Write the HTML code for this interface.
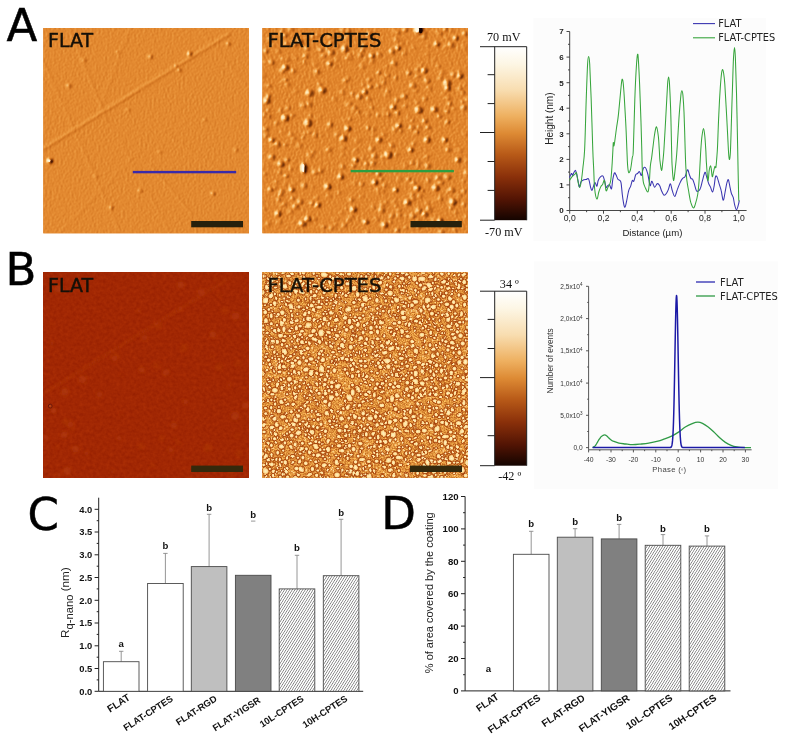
<!DOCTYPE html>
<html lang="en"><head><meta charset="utf-8"><title>AFM characterisation of FLAT and FLAT-CPTES surfaces</title>
<style>html,body{margin:0;padding:0;background:#fff;overflow:hidden}svg{display:block}text{white-space:pre}</style></head>
<body>
<svg width="786" height="740" viewBox="0 0 786 740">
<rect width="786" height="740" fill="#fff"/>
<defs>
<filter id="fA1" x="0" y="0" width="1" height="1" color-interpolation-filters="sRGB">
 <feTurbulence type="fractalNoise" baseFrequency="0.33" numOctaves="2" seed="4"/>
 <feColorMatrix type="matrix" values="0.13 0 0 0 0.821  0.13 0 0 0 0.468  0.09 0 0 0 0.139  0 0 0 0 1"/>
</filter>
<filter id="fA2" x="0" y="0" width="1" height="1" color-interpolation-filters="sRGB">
 <feTurbulence type="fractalNoise" baseFrequency="0.4" numOctaves="2" seed="11"/>
 <feColorMatrix type="matrix" values="0.30 0 0 0 0.740  0.30 0 0 0 0.385  0.20 0 0 0 0.088  0 0 0 0 1"/>
</filter>
<filter id="fB1" x="0" y="0" width="1" height="1" color-interpolation-filters="sRGB">
 <feTurbulence type="fractalNoise" baseFrequency="0.3" numOctaves="2" seed="7"/>
 <feColorMatrix type="matrix" values="0.10 0 0 0 0.582  0.07 0 0 0 0.118  0.02 0 0 0 0.002  0 0 0 0 1"/>
</filter>
<filter id="fB2" x="0" y="0" width="1" height="1" color-interpolation-filters="sRGB">
 <feTurbulence type="fractalNoise" baseFrequency="0.75" numOctaves="2" seed="28"/>
 <feColorMatrix type="matrix" values="0.50 0 0 0 0.630  0.70 0 0 0 0.230  0.50 0 0 0 -0.01  0 0 0 0 1"/>
</filter>
<filter id="soft" x="-0.1" y="-0.1" width="1.2" height="1.2"><feGaussianBlur stdDeviation="0.45"/></filter>
<filter id="soft2" x="-0.1" y="-0.1" width="1.2" height="1.2"><feGaussianBlur stdDeviation="1.6"/></filter>
<filter id="soft3" x="-0.02" y="-0.02" width="1.04" height="1.04">
 <feTurbulence type="fractalNoise" baseFrequency="0.11" numOctaves="1" seed="3" result="dn"/>
 <feDisplacementMap in="SourceGraphic" in2="dn" scale="4.5" xChannelSelector="R" yChannelSelector="G"/>
 <feGaussianBlur stdDeviation="0.42"/>
</filter>
<radialGradient id="blob" cx="0.5" cy="0.5" r="0.5">
 <stop offset="0" stop-color="#fff0c4"/><stop offset="0.5" stop-color="#fde09c"/><stop offset="0.8" stop-color="#f6bc68"/>
 <stop offset="1" stop-color="#e8943c"/>
</radialGradient>
<radialGradient id="blobS" cx="0.5" cy="0.5" r="0.5">
 <stop offset="0" stop-color="#fde6ac"/><stop offset="0.6" stop-color="#f6c070"/><stop offset="1" stop-color="#e89a44" stop-opacity="0.6"/>
</radialGradient>
<linearGradient id="bump" x1="0" y1="0.35" x2="1" y2="0.65">
 <stop offset="0" stop-color="#fff6d4"/><stop offset="0.35" stop-color="#fbd08a"/>
 <stop offset="0.6" stop-color="#e8923a"/><stop offset="1" stop-color="#8a3e0c"/>
</linearGradient>
<linearGradient id="bumpS" x1="0" y1="0.35" x2="1" y2="0.65">
 <stop offset="0" stop-color="#ffeab8"/><stop offset="0.4" stop-color="#f4b05c"/>
 <stop offset="0.65" stop-color="#e48c34"/><stop offset="1" stop-color="#b05c16"/>
</linearGradient>
<linearGradient id="cbar" x1="0" y1="0" x2="0" y2="1">
 <stop offset="0" stop-color="#ffffff"/><stop offset="0.10" stop-color="#fdf6e4"/>
 <stop offset="0.25" stop-color="#f8ddb0"/><stop offset="0.40" stop-color="#eeb060"/>
 <stop offset="0.50" stop-color="#dd8a34"/><stop offset="0.62" stop-color="#b85a18"/>
 <stop offset="0.75" stop-color="#8a300a"/><stop offset="0.88" stop-color="#521404"/>
 <stop offset="1" stop-color="#140400"/>
</linearGradient>
<pattern id="hatch" width="2.6" height="8" patternUnits="userSpaceOnUse" patternTransform="skewX(-32)">
 <rect width="2.6" height="8" fill="#fff"/><rect x="0" width="0.85" height="8" fill="#7c7c7c"/>
</pattern>
<filter id="eA1" filterUnits="userSpaceOnUse" x="43.3" y="28.0" width="205.7" height="205.3" color-interpolation-filters="sRGB">
 <feGaussianBlur in="SourceAlpha" stdDeviation="0.8" result="h"/>
 <feTurbulence type="fractalNoise" baseFrequency="0.45" numOctaves="2" seed="4" result="n"/>
 <feComposite in="h" in2="n" operator="arithmetic" k1="0" k2="0.8" k3="0.1" k4="0" result="hm"/>
 <feDiffuseLighting in="hm" surfaceScale="1.5" diffuseConstant="1" lighting-color="#fff" result="lit"><feDistantLight azimuth="195" elevation="50"/></feDiffuseLighting>
 <feComponentTransfer><feFuncR type="table" tableValues="0.078 0.098 0.118 0.138 0.158 0.178 0.198 0.218 0.238 0.258 0.278 0.297 0.317 0.337 0.360 0.393 0.427 0.460 0.493 0.526 0.560 0.593 0.626 0.659 0.691 0.723 0.754 0.786 0.816 0.844 0.872 0.898 0.920 0.941 0.958 0.975 0.985 0.992 0.997 0.998 1.000"/><feFuncG type="table" tableValues="0.016 0.024 0.033 0.041 0.050 0.058 0.067 0.075 0.084 0.092 0.101 0.110 0.118 0.127 0.138 0.159 0.180 0.202 0.223 0.244 0.266 0.287 0.308 0.330 0.354 0.378 0.402 0.425 0.453 0.485 0.517 0.551 0.590 0.629 0.689 0.749 0.803 0.853 0.899 0.936 0.973"/><feFuncB type="table" tableValues="0.000 0.001 0.002 0.003 0.005 0.006 0.007 0.008 0.009 0.010 0.011 0.013 0.014 0.015 0.017 0.023 0.029 0.035 0.041 0.047 0.053 0.059 0.065 0.071 0.081 0.091 0.101 0.112 0.127 0.150 0.173 0.201 0.238 0.276 0.360 0.444 0.528 0.611 0.698 0.790 0.882"/></feComponentTransfer>
</filter>
<filter id="eA2" filterUnits="userSpaceOnUse" x="262.4" y="28.0" width="205.5" height="205.2" color-interpolation-filters="sRGB">
 <feGaussianBlur in="SourceAlpha" stdDeviation="0.9" result="h"/>
 <feTurbulence type="fractalNoise" baseFrequency="0.4" numOctaves="2" seed="11" result="n"/>
 <feComposite in="h" in2="n" operator="arithmetic" k1="0" k2="0.8" k3="0.17" k4="0" result="hm"/>
 <feDiffuseLighting in="hm" surfaceScale="1.25" diffuseConstant="1" lighting-color="#fff" result="lit"><feDistantLight azimuth="195" elevation="50"/></feDiffuseLighting>
 <feComponentTransfer><feFuncR type="table" tableValues="0.078 0.098 0.118 0.138 0.158 0.178 0.198 0.218 0.238 0.258 0.278 0.297 0.317 0.337 0.360 0.393 0.427 0.460 0.493 0.526 0.560 0.593 0.626 0.659 0.691 0.723 0.754 0.786 0.815 0.842 0.869 0.895 0.918 0.941 0.958 0.975 0.985 0.992 0.997 0.998 1.000"/><feFuncG type="table" tableValues="0.016 0.024 0.033 0.041 0.050 0.058 0.067 0.075 0.084 0.092 0.101 0.110 0.118 0.127 0.138 0.159 0.180 0.202 0.223 0.244 0.266 0.287 0.308 0.330 0.354 0.378 0.402 0.425 0.451 0.477 0.504 0.538 0.583 0.629 0.689 0.749 0.803 0.853 0.899 0.936 0.973"/><feFuncB type="table" tableValues="0.000 0.001 0.002 0.003 0.005 0.006 0.007 0.008 0.009 0.010 0.011 0.013 0.014 0.015 0.017 0.023 0.029 0.035 0.041 0.047 0.053 0.059 0.065 0.071 0.081 0.091 0.101 0.112 0.125 0.141 0.158 0.185 0.230 0.276 0.360 0.444 0.528 0.611 0.698 0.790 0.882"/></feComponentTransfer>
</filter>
<clipPath id="cA1"><rect x="43.3" y="28.0" width="205.7" height="205.3" /></clipPath><clipPath id="cA2"><rect x="262.4" y="28.0" width="205.5" height="205.2" /></clipPath>
<clipPath id="cB1"><rect x="43.3" y="272.5" width="205.7" height="205.3" /></clipPath><clipPath id="cB2"><rect x="262.4" y="272.5" width="205.5" height="205.3" /></clipPath>
</defs>
<rect x="533.5" y="18" width="232.5" height="223" fill="#fcfcfc"/><rect x="534" y="261.5" width="244" height="227.5" fill="#fcfcfc"/>
<rect x="43.3" y="28.0" width="205.7" height="205.3" fill="#e2882f"/>
<rect x="262.4" y="28.0" width="205.5" height="205.2" fill="#e2882f"/>
<rect x="43.3" y="272.5" width="205.7" height="205.3" fill="#a12703"/>
<rect x="43.3" y="272.5" width="205.7" height="205.3" filter="url(#fB1)"/>
<rect x="262.4" y="272.5" width="205.5" height="205.3" fill="#e39a4c"/>
<rect x="262.4" y="272.5" width="205.5" height="205.3" filter="url(#fB2)"/>
<g clip-path="url(#cA1)">
<g filter="url(#eA1)" fill="#fff" stroke="#fff" stroke-linecap="round">
<rect x="43.3" y="28.0" width="205.7" height="205.3" fill="none" stroke="none"/>
<path d="M43.0 149.2L229.5 33.8" stroke-width="1.8" stroke-opacity="0.19" fill="none"/>
<path d="M50 95L107 121" stroke-width="1.3" stroke-opacity="0.1" fill="none"/>
<path d="M69 28L107 121" stroke-width="1.3" stroke-opacity="0.09" fill="none"/>
<path d="M150 165L192 214" stroke-width="1.3" stroke-opacity="0.09" fill="none"/>
<path d="M43 60L120 232" stroke-width="1.3" stroke-opacity="0.07" fill="none"/>
<path d="M130 28L96 120" stroke-width="1.3" stroke-opacity="0.07" fill="none"/>
<path d="M160 130L249 190" stroke-width="1.3" stroke-opacity="0.07" fill="none"/>
<path d="M120 140L170 233" stroke-width="1.3" stroke-opacity="0.06" fill="none"/>
<path d="M200 28L249 90" stroke-width="1.3" stroke-opacity="0.06" fill="none"/>
<path d="M60 233L140 150" stroke-width="1.3" stroke-opacity="0.05" fill="none"/>
<path d="M90 28L249 120" stroke-width="1.3" stroke-opacity="0.05" fill="none"/>
<g stroke="none"><circle cx="50.0" cy="161.0" r="2.0" fill-opacity="1"/><circle cx="189.7" cy="54" r="1.7" fill-opacity="0.7"/><circle cx="179.5" cy="70" r="1.3" fill-opacity="0.6"/><circle cx="150.5" cy="57" r="1.4" fill-opacity="0.55"/><circle cx="69" cy="86" r="1.4" fill-opacity="0.5"/><circle cx="111.2" cy="207.5" r="1.3" fill-opacity="0.55"/><circle cx="140.3" cy="190.7" r="1.2" fill-opacity="0.5"/><circle cx="213" cy="193.6" r="1.3" fill-opacity="0.5"/><circle cx="228.4" cy="43.9" r="1.3" fill-opacity="0.55"/><circle cx="176" cy="66" r="1.0" fill-opacity="0.5"/><circle cx="118" cy="52" r="1.1" fill-opacity="0.4"/><circle cx="160" cy="152" r="1.1" fill-opacity="0.4"/><circle cx="96" cy="176" r="1.1" fill-opacity="0.4"/><circle cx="205" cy="120" r="1.1" fill-opacity="0.4"/><circle cx="84" cy="60" r="1.6" fill-opacity="0.3"/><circle cx="236" cy="150" r="1.4" fill-opacity="0.3"/><circle cx="128" cy="110" r="1.5" fill-opacity="0.25"/></g>
</g>
<circle cx="49.2" cy="160.7" r="1.2" fill="#fff6da"/><circle cx="51.6" cy="161.6" r="1.0" fill="#4a1604"/>
</g>
<g clip-path="url(#cA2)">
<g filter="url(#eA2)" fill="#fff">
<rect x="262.4" y="28.0" width="205.5" height="205.2" fill="none"/>
<circle cx="348.4" cy="31.1" r="2.5" fill-opacity="0.40"/><circle cx="427.6" cy="203.4" r="1.4" fill-opacity="0.32"/><circle cx="318.4" cy="118.0" r="1.6" fill-opacity="0.21"/><circle cx="335.8" cy="224.4" r="1.2" fill-opacity="0.18"/><circle cx="366.3" cy="59.2" r="2.2" fill-opacity="0.20"/><circle cx="279.0" cy="199.8" r="1.6" fill-opacity="0.52"/><circle cx="463.7" cy="180.9" r="1.2" fill-opacity="0.46"/><circle cx="264.4" cy="164.4" r="1.4" fill-opacity="0.31"/><circle cx="421.0" cy="65.5" r="1.2" fill-opacity="0.47"/><circle cx="381.5" cy="179.3" r="1.4" fill-opacity="0.44"/><circle cx="459.8" cy="150.6" r="2.5" fill-opacity="0.18"/><circle cx="330.6" cy="37.2" r="1.2" fill-opacity="0.55"/><circle cx="442.0" cy="73.1" r="2.5" fill-opacity="0.24"/><circle cx="418.0" cy="165.6" r="1.6" fill-opacity="0.25"/><circle cx="383.7" cy="134.7" r="1.4" fill-opacity="0.47"/><circle cx="271.5" cy="62.5" r="2.5" fill-opacity="0.51"/><circle cx="433.6" cy="59.7" r="1.4" fill-opacity="0.18"/><circle cx="334.7" cy="98.8" r="1.8" fill-opacity="0.28"/><circle cx="354.2" cy="108.2" r="2.5" fill-opacity="0.43"/><circle cx="451.7" cy="189.9" r="2.5" fill-opacity="0.49"/><circle cx="409.0" cy="72.9" r="2.0" fill-opacity="0.56"/><circle cx="419.1" cy="127.1" r="1.2" fill-opacity="0.46"/><circle cx="265.8" cy="129.3" r="2.5" fill-opacity="0.44"/><circle cx="388.1" cy="114.8" r="2.0" fill-opacity="0.52"/><circle cx="304.3" cy="185.8" r="2.2" fill-opacity="0.52"/><circle cx="287.5" cy="59.5" r="1.8" fill-opacity="0.44"/><circle cx="296.8" cy="226.3" r="1.4" fill-opacity="0.20"/><circle cx="304.7" cy="62.2" r="1.4" fill-opacity="0.45"/><circle cx="373.1" cy="135.0" r="1.2" fill-opacity="0.34"/><circle cx="293.0" cy="163.2" r="1.4" fill-opacity="0.24"/><circle cx="434.2" cy="219.5" r="2.5" fill-opacity="0.27"/><circle cx="282.7" cy="132.1" r="1.8" fill-opacity="0.21"/><circle cx="276.6" cy="182.3" r="1.8" fill-opacity="0.34"/><circle cx="348.4" cy="78.6" r="1.4" fill-opacity="0.42"/><circle cx="268.6" cy="96.4" r="1.8" fill-opacity="0.59"/><circle cx="299.5" cy="145.6" r="2.5" fill-opacity="0.26"/><circle cx="369.2" cy="79.8" r="1.8" fill-opacity="0.42"/><circle cx="368.2" cy="114.2" r="1.2" fill-opacity="0.51"/><circle cx="276.9" cy="122.9" r="1.4" fill-opacity="0.47"/><circle cx="391.8" cy="145.5" r="2.2" fill-opacity="0.37"/><circle cx="290.7" cy="211.4" r="1.6" fill-opacity="0.38"/><circle cx="379.4" cy="54.6" r="2.0" fill-opacity="0.39"/><circle cx="405.1" cy="165.9" r="2.5" fill-opacity="0.20"/><circle cx="275.1" cy="187.6" r="1.2" fill-opacity="0.48"/><circle cx="337.6" cy="134.4" r="2.0" fill-opacity="0.41"/><circle cx="285.1" cy="183.8" r="1.4" fill-opacity="0.25"/><circle cx="345.4" cy="120.6" r="1.6" fill-opacity="0.27"/><circle cx="326.9" cy="129.5" r="1.2" fill-opacity="0.33"/><circle cx="317.4" cy="35.0" r="1.6" fill-opacity="0.39"/><circle cx="290.9" cy="29.4" r="2.2" fill-opacity="0.37"/><circle cx="427.9" cy="46.0" r="1.2" fill-opacity="0.24"/><circle cx="386.5" cy="67.3" r="1.8" fill-opacity="0.25"/><circle cx="363.6" cy="84.6" r="1.4" fill-opacity="0.28"/><circle cx="447.8" cy="177.0" r="2.5" fill-opacity="0.45"/><circle cx="342.6" cy="154.8" r="1.6" fill-opacity="0.26"/><circle cx="423.8" cy="37.3" r="1.4" fill-opacity="0.59"/><circle cx="295.9" cy="58.1" r="1.6" fill-opacity="0.30"/><circle cx="310.6" cy="115.6" r="1.2" fill-opacity="0.50"/><circle cx="293.7" cy="223.1" r="1.2" fill-opacity="0.24"/><circle cx="425.2" cy="98.6" r="1.6" fill-opacity="0.54"/><circle cx="440.6" cy="78.2" r="1.8" fill-opacity="0.35"/><circle cx="293.4" cy="71.1" r="2.0" fill-opacity="0.39"/><circle cx="372.1" cy="61.3" r="2.2" fill-opacity="0.30"/><circle cx="282.3" cy="71.3" r="2.0" fill-opacity="0.46"/><circle cx="397.7" cy="112.7" r="2.0" fill-opacity="0.55"/><circle cx="266.1" cy="135.1" r="2.0" fill-opacity="0.35"/><circle cx="372.0" cy="149.0" r="2.5" fill-opacity="0.37"/><circle cx="447.5" cy="122.3" r="1.8" fill-opacity="0.54"/><circle cx="342.6" cy="166.5" r="2.0" fill-opacity="0.38"/><circle cx="397.9" cy="32.5" r="1.8" fill-opacity="0.52"/><circle cx="352.7" cy="94.1" r="1.8" fill-opacity="0.47"/><circle cx="427.1" cy="54.6" r="2.0" fill-opacity="0.18"/><circle cx="458.2" cy="48.7" r="1.4" fill-opacity="0.20"/><circle cx="269.8" cy="39.4" r="2.5" fill-opacity="0.21"/><circle cx="307.4" cy="48.7" r="1.8" fill-opacity="0.55"/><circle cx="359.2" cy="115.4" r="1.4" fill-opacity="0.25"/><circle cx="383.6" cy="78.3" r="2.2" fill-opacity="0.22"/><circle cx="466.1" cy="217.5" r="1.4" fill-opacity="0.50"/><circle cx="376.5" cy="218.9" r="2.2" fill-opacity="0.23"/><circle cx="437.1" cy="31.9" r="1.4" fill-opacity="0.43"/><circle cx="379.2" cy="72.6" r="1.6" fill-opacity="0.57"/><circle cx="309.2" cy="104.5" r="2.2" fill-opacity="0.48"/><circle cx="396.4" cy="205.5" r="2.0" fill-opacity="0.23"/><circle cx="285.2" cy="35.1" r="2.0" fill-opacity="0.51"/><circle cx="449.6" cy="104.1" r="1.8" fill-opacity="0.50"/><circle cx="364.1" cy="45.8" r="1.8" fill-opacity="0.52"/><circle cx="285.8" cy="79.8" r="1.6" fill-opacity="0.55"/><circle cx="350.0" cy="54.4" r="1.4" fill-opacity="0.48"/><circle cx="412.4" cy="226.8" r="1.8" fill-opacity="0.24"/><circle cx="426.6" cy="157.3" r="2.0" fill-opacity="0.32"/><circle cx="413.1" cy="85.4" r="2.5" fill-opacity="0.50"/><circle cx="455.7" cy="212.3" r="2.2" fill-opacity="0.18"/><circle cx="268.8" cy="110.1" r="1.4" fill-opacity="0.41"/><circle cx="454.9" cy="230.1" r="1.4" fill-opacity="0.54"/><circle cx="281.9" cy="190.9" r="1.6" fill-opacity="0.48"/><circle cx="451.2" cy="30.2" r="1.4" fill-opacity="0.30"/><circle cx="378.5" cy="190.0" r="2.5" fill-opacity="0.26"/><circle cx="387.9" cy="91.5" r="1.6" fill-opacity="0.49"/><circle cx="268.9" cy="116.5" r="2.2" fill-opacity="0.43"/><circle cx="412.2" cy="194.3" r="2.0" fill-opacity="0.37"/><circle cx="378.3" cy="86.1" r="1.6" fill-opacity="0.43"/><circle cx="373.1" cy="163.3" r="2.5" fill-opacity="0.45"/><circle cx="406.9" cy="216.0" r="1.4" fill-opacity="0.23"/><circle cx="447.4" cy="38.7" r="1.2" fill-opacity="0.34"/><circle cx="413.2" cy="198.3" r="1.6" fill-opacity="0.56"/><circle cx="399.0" cy="210.1" r="2.2" fill-opacity="0.24"/><circle cx="404.1" cy="53.7" r="1.8" fill-opacity="0.35"/><circle cx="310.1" cy="155.6" r="2.5" fill-opacity="0.31"/><circle cx="295.8" cy="167.5" r="1.4" fill-opacity="0.29"/><circle cx="342.4" cy="92.6" r="2.2" fill-opacity="0.29"/><circle cx="313.3" cy="151.5" r="1.8" fill-opacity="0.28"/><circle cx="268.5" cy="165.9" r="1.8" fill-opacity="0.20"/><circle cx="291.1" cy="185.6" r="1.6" fill-opacity="0.21"/><circle cx="440.1" cy="199.2" r="2.5" fill-opacity="0.32"/><circle cx="447.5" cy="191.5" r="1.4" fill-opacity="0.20"/><circle cx="365.3" cy="170.2" r="1.8" fill-opacity="0.26"/><circle cx="417.8" cy="76.1" r="1.8" fill-opacity="0.39"/><circle cx="309.2" cy="132.7" r="1.8" fill-opacity="0.42"/><circle cx="323.6" cy="226.9" r="1.4" fill-opacity="0.59"/><circle cx="443.6" cy="94.2" r="1.2" fill-opacity="0.38"/><circle cx="293.7" cy="137.9" r="2.5" fill-opacity="0.21"/><circle cx="288.2" cy="107.9" r="1.6" fill-opacity="0.51"/><circle cx="276.2" cy="163.5" r="1.2" fill-opacity="0.21"/><circle cx="282.6" cy="82.2" r="1.4" fill-opacity="0.28"/><circle cx="396.7" cy="154.6" r="2.0" fill-opacity="0.27"/><circle cx="462.8" cy="92.3" r="1.6" fill-opacity="0.50"/><circle cx="343.3" cy="147.5" r="2.0" fill-opacity="0.24"/><circle cx="315.3" cy="63.9" r="1.6" fill-opacity="0.30"/><circle cx="400.8" cy="131.1" r="1.4" fill-opacity="0.53"/><circle cx="371.2" cy="172.0" r="1.4" fill-opacity="0.42"/><circle cx="279.3" cy="172.1" r="1.4" fill-opacity="0.52"/><circle cx="425.5" cy="76.6" r="1.2" fill-opacity="0.20"/><circle cx="292.5" cy="115.6" r="1.8" fill-opacity="0.43"/><circle cx="268.1" cy="223.7" r="2.2" fill-opacity="0.23"/><circle cx="295.0" cy="43.7" r="2.5" fill-opacity="0.59"/><circle cx="335.6" cy="219.4" r="1.6" fill-opacity="0.22"/><circle cx="459.8" cy="89.1" r="2.0" fill-opacity="0.38"/><circle cx="331.0" cy="43.4" r="1.4" fill-opacity="0.56"/><circle cx="314.5" cy="218.9" r="1.4" fill-opacity="0.43"/><circle cx="291.0" cy="168.5" r="2.0" fill-opacity="0.29"/><circle cx="315.4" cy="172.3" r="2.0" fill-opacity="0.56"/><circle cx="378.7" cy="174.1" r="2.0" fill-opacity="0.59"/><circle cx="394.3" cy="63.6" r="2.5" fill-opacity="0.50"/><circle cx="383.3" cy="191.5" r="1.8" fill-opacity="0.26"/><circle cx="294.2" cy="183.7" r="1.2" fill-opacity="0.20"/><circle cx="355.1" cy="53.7" r="1.6" fill-opacity="0.40"/><circle cx="321.5" cy="135.9" r="1.4" fill-opacity="0.22"/><circle cx="428.2" cy="180.4" r="2.2" fill-opacity="0.31"/><circle cx="283.1" cy="59.0" r="1.4" fill-opacity="0.57"/><circle cx="427.8" cy="165.9" r="2.2" fill-opacity="0.49"/><circle cx="344.2" cy="225.1" r="2.2" fill-opacity="0.31"/><circle cx="383.7" cy="82.7" r="1.6" fill-opacity="0.48"/><circle cx="343.1" cy="30.1" r="2.2" fill-opacity="0.39"/><circle cx="408.4" cy="117.4" r="1.8" fill-opacity="0.18"/><circle cx="362.5" cy="50.4" r="1.8" fill-opacity="0.38"/><circle cx="308.1" cy="38.4" r="1.4" fill-opacity="0.18"/><circle cx="367.0" cy="232.9" r="2.5" fill-opacity="0.21"/><circle cx="278.8" cy="222.0" r="2.5" fill-opacity="0.22"/><circle cx="382.5" cy="204.9" r="2.0" fill-opacity="0.36"/><circle cx="305.8" cy="55.9" r="2.2" fill-opacity="0.48"/><circle cx="264.0" cy="208.6" r="1.4" fill-opacity="0.35"/><circle cx="316.6" cy="198.1" r="1.6" fill-opacity="0.35"/><circle cx="459.1" cy="195.2" r="1.8" fill-opacity="0.29"/><circle cx="387.7" cy="74.9" r="2.2" fill-opacity="0.28"/><circle cx="282.1" cy="31.7" r="1.8" fill-opacity="0.47"/><circle cx="330.2" cy="124.8" r="2.2" fill-opacity="0.53"/><circle cx="292.5" cy="198.2" r="1.8" fill-opacity="0.39"/><circle cx="437.8" cy="112.8" r="1.4" fill-opacity="0.30"/><circle cx="351.7" cy="199.8" r="2.2" fill-opacity="0.40"/><circle cx="454.6" cy="108.6" r="1.2" fill-opacity="0.37"/><circle cx="361.0" cy="196.9" r="1.6" fill-opacity="0.19"/><circle cx="287.6" cy="84.8" r="2.0" fill-opacity="0.36"/><circle cx="397.4" cy="230.1" r="1.8" fill-opacity="0.49"/><circle cx="396.0" cy="77.9" r="1.6" fill-opacity="0.45"/><circle cx="350.7" cy="59.0" r="1.4" fill-opacity="0.43"/><circle cx="341.2" cy="212.4" r="1.4" fill-opacity="0.29"/><circle cx="412.1" cy="163.1" r="1.4" fill-opacity="0.58"/><circle cx="383.7" cy="114.8" r="1.6" fill-opacity="0.59"/><circle cx="378.5" cy="114.7" r="1.8" fill-opacity="0.40"/><circle cx="357.6" cy="140.2" r="2.2" fill-opacity="0.24"/><circle cx="280.5" cy="194.5" r="1.8" fill-opacity="0.54"/><circle cx="455.9" cy="144.6" r="1.2" fill-opacity="0.23"/><circle cx="464.2" cy="204.1" r="1.6" fill-opacity="0.53"/><circle cx="363.2" cy="158.6" r="1.8" fill-opacity="0.21"/><circle cx="361.8" cy="184.6" r="2.0" fill-opacity="0.39"/><circle cx="428.1" cy="127.5" r="2.0" fill-opacity="0.45"/><circle cx="335.4" cy="66.1" r="1.2" fill-opacity="0.58"/><circle cx="284.0" cy="204.1" r="1.8" fill-opacity="0.42"/><circle cx="424.9" cy="121.0" r="2.2" fill-opacity="0.57"/><circle cx="419.8" cy="195.8" r="1.8" fill-opacity="0.34"/><circle cx="328.5" cy="196.0" r="2.0" fill-opacity="0.22"/><circle cx="412.7" cy="215.9" r="2.5" fill-opacity="0.43"/><circle cx="418.8" cy="226.5" r="2.2" fill-opacity="0.31"/><circle cx="312.8" cy="36.7" r="1.6" fill-opacity="0.40"/><circle cx="382.9" cy="157.0" r="1.4" fill-opacity="0.57"/><circle cx="429.2" cy="88.3" r="1.8" fill-opacity="0.33"/><circle cx="466.6" cy="160.9" r="1.4" fill-opacity="0.36"/><circle cx="404.4" cy="96.6" r="2.5" fill-opacity="0.47"/><circle cx="263.5" cy="75.7" r="2.0" fill-opacity="0.22"/><circle cx="413.9" cy="183.2" r="2.2" fill-opacity="0.39"/><circle cx="290.8" cy="134.4" r="1.6" fill-opacity="0.42"/><circle cx="388.9" cy="94.7" r="1.2" fill-opacity="0.36"/><circle cx="295.5" cy="206.6" r="2.5" fill-opacity="0.48"/><circle cx="381.6" cy="210.3" r="2.5" fill-opacity="0.49"/><circle cx="397.0" cy="100.2" r="1.8" fill-opacity="0.55"/><circle cx="287.0" cy="159.9" r="2.0" fill-opacity="0.50"/><circle cx="339.3" cy="192.7" r="1.2" fill-opacity="0.55"/><circle cx="465.3" cy="85.1" r="1.6" fill-opacity="0.28"/><circle cx="453.6" cy="74.4" r="2.5" fill-opacity="0.39"/><circle cx="269.0" cy="85.7" r="1.6" fill-opacity="0.42"/><circle cx="429.1" cy="209.1" r="2.5" fill-opacity="0.42"/><circle cx="416.6" cy="132.2" r="2.0" fill-opacity="0.51"/><circle cx="384.8" cy="185.7" r="1.6" fill-opacity="0.52"/><circle cx="412.3" cy="120.5" r="1.2" fill-opacity="0.50"/><circle cx="270.5" cy="189.5" r="2.0" fill-opacity="0.59"/><circle cx="277.4" cy="144.3" r="2.5" fill-opacity="0.55"/><circle cx="328.8" cy="149.8" r="2.5" fill-opacity="0.32"/><circle cx="465.2" cy="134.5" r="1.2" fill-opacity="0.37"/><circle cx="383.6" cy="142.2" r="1.4" fill-opacity="0.18"/><circle cx="467.0" cy="173.1" r="2.5" fill-opacity="0.49"/><circle cx="348.9" cy="104.5" r="2.5" fill-opacity="0.35"/><circle cx="462.5" cy="102.1" r="1.4" fill-opacity="0.43"/><circle cx="354.6" cy="183.2" r="1.8" fill-opacity="0.31"/><circle cx="416.0" cy="90.6" r="1.4" fill-opacity="0.44"/><circle cx="351.1" cy="216.6" r="1.8" fill-opacity="0.31"/><circle cx="438.4" cy="66.5" r="2.0" fill-opacity="0.23"/><circle cx="394.4" cy="31.0" r="1.6" fill-opacity="0.31"/><circle cx="412.0" cy="127.9" r="2.2" fill-opacity="0.43"/><circle cx="327.2" cy="81.5" r="1.2" fill-opacity="0.30"/><circle cx="448.0" cy="97.8" r="2.5" fill-opacity="0.24"/><circle cx="264.9" cy="174.1" r="1.4" fill-opacity="0.42"/><circle cx="451.2" cy="207.8" r="1.2" fill-opacity="0.54"/><circle cx="355.9" cy="150.0" r="1.6" fill-opacity="0.36"/><circle cx="285.5" cy="144.7" r="1.8" fill-opacity="0.39"/><circle cx="278.5" cy="51.1" r="2.2" fill-opacity="0.31"/><circle cx="438.1" cy="178.1" r="2.2" fill-opacity="0.55"/><circle cx="392.2" cy="51.5" r="2.2" fill-opacity="0.59"/><circle cx="405.6" cy="106.3" r="1.6" fill-opacity="0.37"/><circle cx="401.5" cy="43.8" r="1.6" fill-opacity="0.29"/><circle cx="328.1" cy="49.5" r="1.2" fill-opacity="0.59"/><circle cx="303.6" cy="105.4" r="2.5" fill-opacity="0.42"/><circle cx="264.3" cy="115.1" r="2.2" fill-opacity="0.51"/><circle cx="368.3" cy="127.8" r="2.0" fill-opacity="0.48"/><circle cx="286.6" cy="43.4" r="2.0" fill-opacity="0.39"/><circle cx="418.9" cy="210.7" r="2.5" fill-opacity="0.54"/><circle cx="320.9" cy="49.9" r="1.6" fill-opacity="0.59"/><circle cx="414.0" cy="48.0" r="1.6" fill-opacity="0.27"/><circle cx="348.4" cy="219.9" r="2.0" fill-opacity="0.29"/><circle cx="405.3" cy="29.7" r="2.0" fill-opacity="0.48"/><circle cx="332.0" cy="227.6" r="2.5" fill-opacity="0.23"/><circle cx="303.3" cy="137.9" r="1.2" fill-opacity="0.40"/><circle cx="362.5" cy="66.2" r="1.8" fill-opacity="0.40"/><circle cx="441.5" cy="232.3" r="2.2" fill-opacity="0.41"/><circle cx="300.3" cy="201.6" r="2.2" fill-opacity="0.55"/><circle cx="280.8" cy="205.1" r="1.2" fill-opacity="0.20"/><circle cx="435.2" cy="201.4" r="1.6" fill-opacity="0.21"/><circle cx="393.8" cy="201.9" r="1.4" fill-opacity="0.39"/><circle cx="417.6" cy="69.5" r="1.4" fill-opacity="0.45"/><circle cx="418.9" cy="162.5" r="1.2" fill-opacity="0.33"/><circle cx="311.7" cy="187.1" r="1.6" fill-opacity="0.20"/><circle cx="349.9" cy="119.5" r="1.6" fill-opacity="0.39"/><circle cx="358.1" cy="111.7" r="1.6" fill-opacity="0.41"/><circle cx="427.5" cy="80.8" r="2.2" fill-opacity="0.51"/><circle cx="385.9" cy="109.2" r="2.0" fill-opacity="0.19"/><circle cx="464.1" cy="47.5" r="2.5" fill-opacity="0.21"/><circle cx="331.0" cy="52.5" r="2.5" fill-opacity="0.60"/><circle cx="319.8" cy="84.5" r="1.4" fill-opacity="0.48"/><circle cx="366.6" cy="163.9" r="1.8" fill-opacity="0.48"/><circle cx="424.6" cy="33.0" r="2.0" fill-opacity="0.39"/><circle cx="371.7" cy="107.7" r="1.4" fill-opacity="0.58"/><circle cx="312.1" cy="203.2" r="1.6" fill-opacity="0.58"/><circle cx="417.7" cy="102.4" r="1.4" fill-opacity="0.39"/><circle cx="347.2" cy="58.1" r="1.6" fill-opacity="0.51"/><circle cx="386.1" cy="202.4" r="1.2" fill-opacity="0.53"/><circle cx="369.2" cy="34.5" r="2.2" fill-opacity="0.59"/><circle cx="406.0" cy="227.6" r="1.2" fill-opacity="0.51"/><circle cx="295.8" cy="90.9" r="1.4" fill-opacity="0.29"/><circle cx="399.0" cy="177.9" r="2.0" fill-opacity="0.26"/><circle cx="373.4" cy="207.5" r="1.4" fill-opacity="0.42"/><circle cx="418.2" cy="219.9" r="1.2" fill-opacity="0.46"/><circle cx="440.3" cy="33.3" r="1.4" fill-opacity="0.59"/><circle cx="273.7" cy="47.2" r="2.2" fill-opacity="0.18"/><circle cx="368.5" cy="99.0" r="2.2" fill-opacity="0.28"/><circle cx="385.7" cy="94.9" r="1.2" fill-opacity="0.31"/><circle cx="450.9" cy="45.1" r="2.5" fill-opacity="0.56"/><circle cx="323.6" cy="56.0" r="1.6" fill-opacity="0.55"/><circle cx="439.8" cy="116.0" r="1.6" fill-opacity="0.56"/><circle cx="360.2" cy="55.3" r="2.5" fill-opacity="0.41"/><circle cx="280.7" cy="110.9" r="1.8" fill-opacity="0.31"/><circle cx="447.2" cy="111.7" r="1.8" fill-opacity="0.52"/><circle cx="445.3" cy="29.3" r="1.6" fill-opacity="0.56"/><circle cx="390.5" cy="222.3" r="1.2" fill-opacity="0.52"/><circle cx="348.1" cy="37.8" r="2.5" fill-opacity="0.29"/><circle cx="464.2" cy="191.4" r="1.6" fill-opacity="0.51"/><circle cx="373.5" cy="129.4" r="1.8" fill-opacity="0.34"/><circle cx="304.9" cy="133.3" r="1.6" fill-opacity="0.32"/><circle cx="463.8" cy="107.7" r="2.2" fill-opacity="0.56"/><circle cx="346.8" cy="208.5" r="1.6" fill-opacity="0.20"/><circle cx="292.1" cy="143.1" r="1.6" fill-opacity="0.19"/><circle cx="317.1" cy="71.8" r="2.2" fill-opacity="0.52"/><circle cx="398.9" cy="215.5" r="2.0" fill-opacity="0.37"/><circle cx="396.8" cy="40.0" r="2.5" fill-opacity="0.31"/><circle cx="467.4" cy="99.8" r="1.4" fill-opacity="0.57"/><circle cx="359.3" cy="96.6" r="2.5" fill-opacity="0.60"/><circle cx="464.9" cy="33.6" r="2.0" fill-opacity="0.57"/><circle cx="271.9" cy="157.1" r="2.5" fill-opacity="0.55"/><circle cx="345.5" cy="80.6" r="1.6" fill-opacity="0.58"/><circle cx="445.9" cy="46.6" r="1.8" fill-opacity="0.28"/><circle cx="459.1" cy="71.7" r="1.4" fill-opacity="0.41"/><circle cx="315.0" cy="135.0" r="2.5" fill-opacity="0.38"/><circle cx="408.7" cy="179.3" r="1.6" fill-opacity="0.54"/><circle cx="353.5" cy="166.0" r="2.0" fill-opacity="0.35"/><circle cx="448.0" cy="149.8" r="2.0" fill-opacity="0.49"/><circle cx="370.2" cy="87.0" r="2.0" fill-opacity="0.56"/><circle cx="265.6" cy="62.4" r="1.8" fill-opacity="0.25"/><circle cx="272.8" cy="145.9" r="1.2" fill-opacity="0.46"/><circle cx="286.5" cy="175.8" r="1.6" fill-opacity="0.60"/><circle cx="422.5" cy="190.8" r="1.2" fill-opacity="0.59"/><circle cx="441.1" cy="182.7" r="2.5" fill-opacity="0.36"/><circle cx="449.2" cy="144.3" r="1.2" fill-opacity="0.39"/><circle cx="395.2" cy="129.5" r="2.2" fill-opacity="0.46"/><circle cx="337.7" cy="59.3" r="1.8" fill-opacity="0.28"/><circle cx="457.9" cy="200.5" r="1.8" fill-opacity="0.22"/><circle cx="458.1" cy="222.4" r="1.6" fill-opacity="0.52"/><circle cx="337.3" cy="45.7" r="1.4" fill-opacity="0.55"/><circle cx="320.5" cy="171.0" r="2.2" fill-opacity="0.47"/><circle cx="374.6" cy="156.3" r="2.2" fill-opacity="0.53"/><circle cx="266.3" cy="51.0" r="1.8" fill-opacity="0.56"/><circle cx="391.8" cy="216.0" r="2.2" fill-opacity="0.35"/><circle cx="413.8" cy="143.9" r="1.8" fill-opacity="0.32"/>
<g fill-opacity="0.85"><ellipse cx="418.9" cy="30.1" rx="3.8" ry="3.8"/><ellipse cx="304" cy="168.3" rx="2.5" ry="5.0"/><ellipse cx="285.5" cy="118.1" rx="2.9" ry="3.2"/><ellipse cx="388.3" cy="155" rx="2.9" ry="3.2"/><ellipse cx="418.9" cy="110.1" rx="3.0" ry="3.0"/><ellipse cx="434.5" cy="109.6" rx="2.5" ry="2.5"/><ellipse cx="447.3" cy="83.2" rx="2.7" ry="2.9"/><ellipse cx="447.8" cy="88.2" rx="2.3" ry="2.3"/><ellipse cx="308.2" cy="122.9" rx="2.9" ry="3.4"/><ellipse cx="343.7" cy="138.5" rx="2.4" ry="2.7"/><ellipse cx="285.5" cy="67.6" rx="2.5" ry="2.5"/><ellipse cx="322.4" cy="90.3" rx="2.8" ry="2.8"/><ellipse cx="309.7" cy="93.1" rx="2.8" ry="2.8"/><ellipse cx="460" cy="76" rx="2.4" ry="2.4"/><ellipse cx="345" cy="49" rx="2.4" ry="2.9"/><ellipse cx="424.6" cy="70.4" rx="2.3" ry="2.3"/><ellipse cx="348" cy="128.6" rx="2.3" ry="2.5"/><ellipse cx="427.4" cy="140" rx="2.4" ry="2.4"/><ellipse cx="399" cy="125.7" rx="2.3" ry="2.3"/><ellipse cx="302.6" cy="223.6" rx="2.7" ry="2.7"/><ellipse cx="308" cy="219" rx="2.5" ry="2.5"/><ellipse cx="453" cy="202" rx="2.7" ry="2.9"/><ellipse cx="436" cy="188" rx="2.5" ry="2.7"/><ellipse cx="281" cy="164" rx="2.5" ry="2.5"/><ellipse cx="328" cy="186.7" rx="2.6" ry="2.6"/><ellipse cx="341" cy="176.8" rx="2.4" ry="2.4"/><ellipse cx="353.6" cy="209.4" rx="2.6" ry="2.6"/><ellipse cx="384.9" cy="225" rx="2.5" ry="2.5"/><ellipse cx="278.4" cy="213.7" rx="2.4" ry="2.4"/><ellipse cx="407.6" cy="202.4" rx="2.5" ry="2.7"/><ellipse cx="417.5" cy="188.2" rx="2.5" ry="2.5"/><ellipse cx="375" cy="182.5" rx="2.4" ry="2.4"/><ellipse cx="267" cy="101" rx="2.5" ry="2.5"/><ellipse cx="393.4" cy="107.3" rx="2.3" ry="2.3"/><ellipse cx="379.2" cy="140" rx="2.3" ry="2.3"/><ellipse cx="440" cy="221" rx="2.5" ry="2.7"/><ellipse cx="330" cy="64" rx="2.1" ry="2.1"/><ellipse cx="372" cy="56" rx="2.1" ry="2.1"/><ellipse cx="398" cy="48" rx="2.0" ry="2.0"/><ellipse cx="437" cy="44" rx="2.1" ry="2.1"/><ellipse cx="456" cy="38" rx="2.0" ry="2.0"/><ellipse cx="300" cy="42" rx="2.0" ry="2.0"/><ellipse cx="365" cy="92" rx="2.1" ry="2.1"/><ellipse cx="411" cy="150" rx="2.1" ry="2.1"/><ellipse cx="458" cy="160" rx="2.2" ry="2.2"/><ellipse cx="445" cy="140" rx="2.1" ry="2.1"/><ellipse cx="292" cy="190" rx="2.1" ry="2.1"/><ellipse cx="318" cy="205" rx="2.2" ry="2.2"/><ellipse cx="366" cy="222" rx="2.1" ry="2.1"/><ellipse cx="425" cy="214" rx="2.2" ry="2.2"/><ellipse cx="396" cy="190" rx="2.1" ry="2.1"/><ellipse cx="272" cy="140" rx="2.1" ry="2.1"/><ellipse cx="356" cy="160" rx="2.1" ry="2.1"/></g>
</g>
<g filter="url(#soft)">
<ellipse cx="420.6" cy="30.3" rx="2.0" ry="3.0" fill="#140600"/><ellipse cx="417.2" cy="29.8" rx="1.9" ry="2.8" fill="#fffbe8"/>
<ellipse cx="303.2" cy="168.1" rx="1.3" ry="4.2" fill="#fffbe8"/><ellipse cx="305.5" cy="169.0" rx="0.9" ry="3.6" fill="#3a1204"/>
</g></g>
<g clip-path="url(#cB1)"><g filter="url(#soft2)">
<circle cx="185.5" cy="401.8" r="2.5" fill="#bc4612" opacity="0.43"/>
<circle cx="72.5" cy="429.4" r="2.0" fill="#bc4612" opacity="0.29"/>
<circle cx="184.1" cy="348.2" r="3.6" fill="#bc4612" opacity="0.26"/>
<circle cx="238.1" cy="363.7" r="3.9" fill="#bc4612" opacity="0.20"/>
<circle cx="58.5" cy="288.8" r="3.8" fill="#bc4612" opacity="0.47"/>
<circle cx="219.4" cy="294.9" r="1.6" fill="#bc4612" opacity="0.34"/>
<circle cx="121.7" cy="375.3" r="1.7" fill="#bc4612" opacity="0.20"/>
<circle cx="116.1" cy="355.7" r="3.1" fill="#bc4612" opacity="0.27"/>
<circle cx="70.4" cy="424.3" r="3.1" fill="#bc4612" opacity="0.40"/>
<circle cx="141.1" cy="446.6" r="3.1" fill="#bc4612" opacity="0.26"/>
<circle cx="53.4" cy="410.5" r="2.7" fill="#bc4612" opacity="0.49"/>
<circle cx="45.6" cy="437.4" r="3.0" fill="#bc4612" opacity="0.38"/>
<circle cx="152.7" cy="465.4" r="1.8" fill="#bc4612" opacity="0.29"/>
<circle cx="65.8" cy="421.9" r="3.3" fill="#bc4612" opacity="0.23"/>
<circle cx="180.6" cy="284.9" r="3.3" fill="#bc4612" opacity="0.43"/>
<circle cx="212.8" cy="334.7" r="3.1" fill="#bc4612" opacity="0.49"/>
<circle cx="216.4" cy="279.4" r="1.6" fill="#bc4612" opacity="0.33"/>
<circle cx="178.4" cy="443.1" r="2.2" fill="#bc4612" opacity="0.28"/>
<circle cx="224.8" cy="310.7" r="3.6" fill="#bc4612" opacity="0.29"/>
<circle cx="156.5" cy="365.4" r="3.5" fill="#bc4612" opacity="0.26"/>
<circle cx="57.4" cy="446.7" r="2.0" fill="#bc4612" opacity="0.22"/>
<circle cx="201.2" cy="292.1" r="3.7" fill="#bc4612" opacity="0.35"/>
<circle cx="111.9" cy="471.9" r="1.6" fill="#bc4612" opacity="0.41"/>
<circle cx="144.6" cy="337.7" r="3.0" fill="#bc4612" opacity="0.31"/>
<circle cx="120.7" cy="415.0" r="1.5" fill="#bc4612" opacity="0.25"/>
<circle cx="75.5" cy="449.1" r="3.4" fill="#bc4612" opacity="0.49"/>
<circle cx="179.9" cy="308.9" r="1.9" fill="#bc4612" opacity="0.39"/>
<circle cx="64.8" cy="391.9" r="3.9" fill="#bc4612" opacity="0.41"/>
<circle cx="229.3" cy="384.9" r="2.0" fill="#bc4612" opacity="0.35"/>
<circle cx="119.1" cy="438.2" r="2.2" fill="#bc4612" opacity="0.42"/>
<circle cx="45.1" cy="463.9" r="1.7" fill="#bc4612" opacity="0.22"/>
<circle cx="161.6" cy="438.2" r="2.7" fill="#bc4612" opacity="0.26"/>
<circle cx="114.3" cy="358.6" r="3.1" fill="#bc4612" opacity="0.34"/>
<circle cx="138.6" cy="311.2" r="1.9" fill="#bc4612" opacity="0.38"/>
<circle cx="50.5" cy="324.4" r="1.7" fill="#bc4612" opacity="0.27"/>
<circle cx="86.6" cy="453.2" r="2.0" fill="#bc4612" opacity="0.42"/>
<circle cx="82.6" cy="379.4" r="4.0" fill="#bc4612" opacity="0.39"/>
<circle cx="64.3" cy="434.9" r="3.4" fill="#bc4612" opacity="0.43"/>
<circle cx="170.8" cy="449.9" r="2.7" fill="#bc4612" opacity="0.39"/>
<circle cx="212.2" cy="356.3" r="1.6" fill="#bc4612" opacity="0.25"/>
<circle cx="173.9" cy="425.2" r="3.0" fill="#bc4612" opacity="0.45"/>
<circle cx="218.9" cy="366.9" r="3.5" fill="#bc4612" opacity="0.25"/>
<circle cx="221.6" cy="333.3" r="1.8" fill="#bc4612" opacity="0.31"/>
<circle cx="67.1" cy="471.0" r="4.0" fill="#bc4612" opacity="0.47"/>
<circle cx="175.1" cy="438.9" r="1.6" fill="#bc4612" opacity="0.28"/>
<circle cx="231.3" cy="473.5" r="3.6" fill="#bc4612" opacity="0.22"/>
<circle cx="245.3" cy="405.6" r="3.2" fill="#bc4612" opacity="0.48"/>
<circle cx="207.7" cy="448.0" r="3.9" fill="#bc4612" opacity="0.30"/>
<circle cx="52.1" cy="343.4" r="2.0" fill="#bc4612" opacity="0.32"/>
<circle cx="237.1" cy="435.7" r="2.5" fill="#bc4612" opacity="0.21"/>
<circle cx="157.8" cy="326.1" r="3.6" fill="#bc4612" opacity="0.26"/>
<circle cx="99.3" cy="394.5" r="2.8" fill="#bc4612" opacity="0.37"/>
<circle cx="166.0" cy="372.3" r="3.6" fill="#bc4612" opacity="0.32"/>
<circle cx="235.6" cy="316.0" r="3.8" fill="#bc4612" opacity="0.42"/>
<circle cx="238.7" cy="453.4" r="2.9" fill="#bc4612" opacity="0.25"/>
<circle cx="81.8" cy="290.3" r="1.6" fill="#bc4612" opacity="0.34"/>
<circle cx="59.0" cy="474.7" r="1.6" fill="#bc4612" opacity="0.44"/>
<circle cx="141.1" cy="369.7" r="1.7" fill="#bc4612" opacity="0.35"/>
<circle cx="235.0" cy="415.9" r="4.0" fill="#bc4612" opacity="0.43"/>
<circle cx="141.8" cy="370.1" r="2.8" fill="#bc4612" opacity="0.44"/>
<path d="M43.5 393.4L229 278.6" stroke="#bc4412" stroke-width="1.2" opacity="0.6" fill="none"/>
</g>
<circle cx="50.2" cy="406.1" r="1.9" fill="#b84010" stroke="#64140a" stroke-width="0.9"/>
</g>
<g clip-path="url(#cB2)"><g filter="url(#soft3)">
<g fill="url(#blobS)"><circle cx="325.1" cy="422.3" r="1.4"/><ellipse cx="343.0" cy="283.3" rx="1.3" ry="1.6"/><ellipse cx="440.2" cy="336.4" rx="1.6" ry="1.3"/><circle cx="388.8" cy="455.5" r="1.4"/><circle cx="341.0" cy="378.7" r="1.4"/><ellipse cx="364.0" cy="454.2" rx="1.3" ry="1.6"/><ellipse cx="399.5" cy="327.1" rx="1.3" ry="1.6"/><circle cx="392.7" cy="443.3" r="1.4"/><ellipse cx="430.9" cy="384.5" rx="1.4" ry="1.5"/><ellipse cx="420.7" cy="348.9" rx="1.3" ry="1.7"/><circle cx="317.5" cy="368.0" r="1.4"/><ellipse cx="456.9" cy="474.3" rx="1.6" ry="1.3"/><ellipse cx="407.8" cy="400.9" rx="1.3" ry="1.6"/><ellipse cx="406.3" cy="309.9" rx="1.4" ry="1.2"/><circle cx="421.2" cy="276.1" r="1.2"/><ellipse cx="301.5" cy="368.0" rx="1.2" ry="1.4"/><circle cx="425.2" cy="348.3" r="1.1"/><ellipse cx="382.9" cy="279.7" rx="1.2" ry="1.5"/><circle cx="330.5" cy="303.1" r="1.3"/><circle cx="285.4" cy="382.3" r="1.4"/><ellipse cx="469.2" cy="469.4" rx="1.5" ry="1.2"/><ellipse cx="369.1" cy="451.7" rx="1.3" ry="1.1"/><ellipse cx="469.6" cy="384.2" rx="1.3" ry="1.1"/><ellipse cx="339.8" cy="339.0" rx="1.1" ry="1.5"/><ellipse cx="351.1" cy="425.5" rx="1.1" ry="1.4"/><circle cx="262.8" cy="279.8" r="1.2"/><ellipse cx="401.3" cy="396.3" rx="1.2" ry="1.4"/><circle cx="437.6" cy="375.8" r="1.4"/><circle cx="398.2" cy="359.8" r="1.2"/><circle cx="367.0" cy="441.4" r="1.2"/><ellipse cx="291.5" cy="338.0" rx="1.2" ry="1.5"/><ellipse cx="263.0" cy="398.3" rx="1.2" ry="1.5"/><ellipse cx="308.7" cy="295.9" rx="1.3" ry="1.0"/><ellipse cx="384.6" cy="340.3" rx="1.4" ry="1.1"/><circle cx="393.0" cy="317.3" r="1.2"/><circle cx="276.3" cy="282.4" r="1.3"/><ellipse cx="328.5" cy="328.1" rx="1.1" ry="1.3"/><ellipse cx="292.1" cy="453.0" rx="1.4" ry="1.1"/><circle cx="385.4" cy="282.1" r="1.4"/><ellipse cx="385.7" cy="473.9" rx="1.1" ry="1.4"/><ellipse cx="409.3" cy="312.1" rx="1.3" ry="1.2"/><circle cx="279.7" cy="298.7" r="1.2"/><ellipse cx="424.8" cy="439.9" rx="1.3" ry="1.1"/><circle cx="384.0" cy="372.9" r="1.3"/><circle cx="345.6" cy="288.9" r="1.1"/><ellipse cx="310.7" cy="440.8" rx="1.3" ry="1.4"/><ellipse cx="340.1" cy="404.6" rx="1.3" ry="1.1"/><ellipse cx="395.9" cy="355.1" rx="1.4" ry="1.2"/><circle cx="389.0" cy="414.8" r="1.1"/><ellipse cx="441.3" cy="405.7" rx="1.2" ry="1.5"/><circle cx="467.2" cy="404.7" r="1.3"/><ellipse cx="364.5" cy="356.5" rx="1.4" ry="1.1"/><circle cx="275.1" cy="355.3" r="1.3"/><ellipse cx="361.3" cy="369.0" rx="1.1" ry="1.5"/><ellipse cx="278.7" cy="376.8" rx="1.2" ry="1.5"/><ellipse cx="404.0" cy="321.4" rx="1.0" ry="1.3"/><ellipse cx="283.8" cy="396.0" rx="1.5" ry="1.1"/><circle cx="376.5" cy="347.9" r="1.2"/><ellipse cx="422.0" cy="283.7" rx="1.5" ry="1.2"/><circle cx="455.7" cy="372.5" r="1.2"/><ellipse cx="344.1" cy="350.5" rx="1.3" ry="1.5"/><circle cx="425.3" cy="356.8" r="1.2"/><circle cx="442.1" cy="468.1" r="1.2"/><ellipse cx="392.5" cy="412.9" rx="1.1" ry="1.5"/><ellipse cx="273.9" cy="272.7" rx="1.2" ry="1.5"/><ellipse cx="299.3" cy="478.3" rx="1.4" ry="1.2"/><ellipse cx="381.4" cy="451.0" rx="1.2" ry="1.5"/><ellipse cx="276.5" cy="367.6" rx="1.2" ry="1.5"/><circle cx="262.5" cy="365.9" r="1.3"/><circle cx="272.1" cy="332.8" r="1.2"/><ellipse cx="300.6" cy="321.6" rx="1.1" ry="1.2"/><ellipse cx="321.0" cy="363.9" rx="1.3" ry="1.2"/><circle cx="429.6" cy="294.3" r="1.2"/><circle cx="428.8" cy="274.5" r="1.3"/><ellipse cx="390.5" cy="476.0" rx="1.0" ry="1.3"/><ellipse cx="347.0" cy="442.2" rx="1.4" ry="1.2"/><ellipse cx="413.9" cy="387.4" rx="1.4" ry="1.1"/><circle cx="369.6" cy="276.7" r="1.2"/><ellipse cx="360.8" cy="399.0" rx="1.2" ry="1.5"/><ellipse cx="332.5" cy="468.6" rx="1.2" ry="1.4"/><ellipse cx="331.1" cy="355.2" rx="1.4" ry="1.1"/><ellipse cx="438.6" cy="339.6" rx="1.1" ry="1.4"/><ellipse cx="274.3" cy="307.3" rx="1.1" ry="1.2"/><ellipse cx="344.9" cy="335.2" rx="1.5" ry="1.2"/><ellipse cx="430.3" cy="351.2" rx="1.4" ry="1.1"/><ellipse cx="455.5" cy="318.1" rx="1.0" ry="1.3"/><ellipse cx="324.8" cy="438.8" rx="1.0" ry="1.4"/><circle cx="306.1" cy="310.6" r="1.3"/><circle cx="402.3" cy="374.1" r="1.4"/><ellipse cx="438.2" cy="275.8" rx="1.1" ry="1.3"/><circle cx="267.2" cy="427.1" r="1.3"/><circle cx="357.1" cy="449.0" r="1.2"/><ellipse cx="369.9" cy="315.1" rx="1.3" ry="1.5"/><ellipse cx="265.5" cy="435.7" rx="1.0" ry="1.3"/><circle cx="439.3" cy="360.6" r="1.2"/><ellipse cx="273.0" cy="448.4" rx="1.3" ry="1.0"/><circle cx="408.6" cy="355.6" r="1.3"/><ellipse cx="404.6" cy="298.8" rx="1.2" ry="1.4"/><ellipse cx="440.1" cy="420.6" rx="1.0" ry="1.3"/><circle cx="394.5" cy="271.4" r="1.3"/><circle cx="379.8" cy="469.6" r="1.2"/><circle cx="363.2" cy="422.4" r="1.2"/><circle cx="340.0" cy="370.1" r="1.1"/><circle cx="416.1" cy="457.1" r="1.2"/><ellipse cx="340.5" cy="460.7" rx="1.4" ry="1.1"/><circle cx="386.4" cy="393.9" r="1.3"/><ellipse cx="456.4" cy="397.0" rx="1.3" ry="1.0"/><circle cx="322.2" cy="427.0" r="1.3"/><circle cx="304.9" cy="333.9" r="1.3"/><ellipse cx="329.3" cy="434.6" rx="1.1" ry="1.4"/><ellipse cx="301.6" cy="376.6" rx="1.1" ry="1.3"/><ellipse cx="304.5" cy="440.8" rx="1.2" ry="1.4"/><circle cx="351.1" cy="383.8" r="1.2"/><circle cx="425.0" cy="417.5" r="1.4"/><ellipse cx="342.1" cy="373.5" rx="1.0" ry="1.3"/><ellipse cx="464.1" cy="337.4" rx="1.5" ry="1.2"/><ellipse cx="334.1" cy="451.7" rx="1.2" ry="1.5"/><ellipse cx="436.9" cy="331.9" rx="1.5" ry="1.1"/><circle cx="395.6" cy="446.2" r="1.4"/><ellipse cx="386.0" cy="316.2" rx="1.4" ry="1.1"/><ellipse cx="278.3" cy="448.7" rx="1.2" ry="1.4"/><ellipse cx="391.8" cy="380.2" rx="1.2" ry="1.4"/><circle cx="337.5" cy="397.1" r="1.2"/><circle cx="436.0" cy="451.7" r="1.4"/><circle cx="299.9" cy="445.6" r="1.2"/><ellipse cx="439.9" cy="347.3" rx="1.1" ry="1.4"/><ellipse cx="459.9" cy="382.4" rx="1.1" ry="1.5"/><ellipse cx="452.9" cy="271.1" rx="1.3" ry="1.0"/><ellipse cx="344.5" cy="314.0" rx="1.1" ry="1.5"/><ellipse cx="394.5" cy="415.1" rx="1.3" ry="1.1"/><ellipse cx="286.4" cy="281.1" rx="1.1" ry="1.2"/><ellipse cx="336.9" cy="418.8" rx="1.3" ry="1.1"/><circle cx="271.7" cy="438.2" r="1.3"/><ellipse cx="426.2" cy="360.2" rx="1.2" ry="1.3"/><circle cx="363.2" cy="464.1" r="1.4"/><ellipse cx="401.0" cy="426.5" rx="1.2" ry="1.5"/><circle cx="312.2" cy="348.6" r="1.2"/><ellipse cx="357.1" cy="443.6" rx="1.1" ry="1.3"/><circle cx="326.9" cy="359.2" r="1.4"/><ellipse cx="426.1" cy="382.8" rx="1.2" ry="1.4"/><ellipse cx="327.7" cy="460.9" rx="1.1" ry="1.3"/><circle cx="424.2" cy="456.1" r="1.1"/><ellipse cx="303.9" cy="437.6" rx="1.2" ry="1.5"/><ellipse cx="362.5" cy="392.0" rx="1.1" ry="1.4"/><ellipse cx="463.9" cy="397.6" rx="1.4" ry="1.2"/><circle cx="393.6" cy="309.2" r="1.3"/><ellipse cx="280.8" cy="391.6" rx="1.4" ry="1.1"/><ellipse cx="411.9" cy="315.7" rx="1.2" ry="1.4"/><ellipse cx="438.8" cy="475.3" rx="1.2" ry="1.3"/><ellipse cx="307.9" cy="413.4" rx="1.4" ry="1.1"/><circle cx="283.2" cy="294.5" r="1.3"/><circle cx="315.0" cy="435.0" r="1.3"/><ellipse cx="436.7" cy="361.0" rx="1.3" ry="1.1"/><circle cx="350.9" cy="280.8" r="1.2"/><ellipse cx="368.9" cy="443.8" rx="1.1" ry="1.5"/><ellipse cx="305.3" cy="365.0" rx="1.1" ry="1.3"/><circle cx="328.8" cy="473.3" r="1.1"/><circle cx="424.2" cy="434.3" r="1.2"/><ellipse cx="383.6" cy="472.2" rx="1.4" ry="1.2"/><ellipse cx="325.6" cy="366.1" rx="1.2" ry="1.5"/><ellipse cx="339.5" cy="323.8" rx="1.3" ry="1.4"/><circle cx="453.9" cy="279.6" r="1.3"/><ellipse cx="363.1" cy="437.9" rx="1.3" ry="1.1"/><ellipse cx="442.9" cy="290.3" rx="1.1" ry="1.4"/><ellipse cx="388.5" cy="320.4" rx="1.4" ry="1.2"/><ellipse cx="397.3" cy="325.4" rx="1.1" ry="1.4"/><ellipse cx="454.7" cy="376.1" rx="1.5" ry="1.2"/><ellipse cx="431.6" cy="447.3" rx="1.1" ry="1.3"/><ellipse cx="372.6" cy="278.9" rx="1.1" ry="1.2"/><ellipse cx="464.9" cy="316.4" rx="1.4" ry="1.2"/><ellipse cx="391.3" cy="321.9" rx="1.1" ry="1.4"/><ellipse cx="464.0" cy="355.8" rx="1.0" ry="1.3"/><ellipse cx="315.4" cy="362.9" rx="1.3" ry="1.0"/><circle cx="295.5" cy="308.9" r="1.3"/><ellipse cx="264.7" cy="335.2" rx="1.3" ry="1.0"/><ellipse cx="316.0" cy="393.1" rx="1.1" ry="1.2"/><ellipse cx="397.4" cy="404.0" rx="1.3" ry="1.4"/><circle cx="318.8" cy="315.9" r="1.2"/><ellipse cx="270.1" cy="377.5" rx="1.4" ry="1.1"/><ellipse cx="378.0" cy="400.8" rx="1.2" ry="1.3"/><ellipse cx="343.4" cy="388.0" rx="1.2" ry="1.4"/><ellipse cx="262.5" cy="385.0" rx="1.0" ry="1.3"/><circle cx="422.0" cy="316.6" r="1.2"/><ellipse cx="345.5" cy="273.3" rx="1.4" ry="1.2"/><ellipse cx="281.2" cy="398.6" rx="1.2" ry="1.4"/><ellipse cx="282.4" cy="279.5" rx="1.2" ry="1.1"/><ellipse cx="297.0" cy="424.9" rx="1.2" ry="1.0"/><ellipse cx="292.1" cy="389.3" rx="1.0" ry="1.3"/><circle cx="451.8" cy="381.0" r="1.3"/><circle cx="278.6" cy="302.1" r="1.2"/><ellipse cx="401.9" cy="349.1" rx="1.3" ry="1.5"/><ellipse cx="265.9" cy="395.2" rx="1.2" ry="1.5"/><ellipse cx="389.0" cy="391.0" rx="1.1" ry="1.4"/><ellipse cx="356.4" cy="341.3" rx="1.3" ry="1.5"/><ellipse cx="292.3" cy="359.3" rx="1.5" ry="1.2"/><circle cx="355.9" cy="380.9" r="1.2"/><ellipse cx="341.4" cy="295.8" rx="1.3" ry="1.1"/><ellipse cx="373.6" cy="463.8" rx="1.2" ry="1.3"/><ellipse cx="398.1" cy="367.2" rx="1.2" ry="1.5"/><ellipse cx="283.7" cy="372.9" rx="1.2" ry="1.3"/><ellipse cx="268.6" cy="316.1" rx="1.1" ry="1.3"/><ellipse cx="410.0" cy="404.9" rx="1.1" ry="1.5"/><ellipse cx="316.8" cy="378.1" rx="1.0" ry="1.4"/><ellipse cx="323.8" cy="348.8" rx="1.3" ry="1.1"/><ellipse cx="454.3" cy="424.9" rx="1.2" ry="1.5"/><ellipse cx="328.0" cy="457.7" rx="1.1" ry="1.3"/><circle cx="316.0" cy="355.0" r="1.4"/><ellipse cx="364.8" cy="292.6" rx="1.2" ry="1.5"/><ellipse cx="321.6" cy="418.9" rx="1.1" ry="1.2"/><circle cx="358.4" cy="409.0" r="1.2"/><ellipse cx="397.6" cy="399.3" rx="1.0" ry="1.4"/><ellipse cx="412.6" cy="310.1" rx="1.4" ry="1.2"/><circle cx="312.5" cy="450.6" r="1.3"/><ellipse cx="280.6" cy="271.2" rx="1.1" ry="1.3"/><ellipse cx="317.6" cy="298.8" rx="1.2" ry="1.5"/><ellipse cx="469.9" cy="321.7" rx="1.2" ry="1.4"/><ellipse cx="270.4" cy="290.8" rx="1.2" ry="1.4"/><circle cx="291.1" cy="426.6" r="1.2"/><circle cx="401.5" cy="428.6" r="1.2"/><ellipse cx="390.8" cy="406.4" rx="1.1" ry="1.3"/><ellipse cx="274.8" cy="361.3" rx="1.3" ry="1.0"/><ellipse cx="415.5" cy="396.1" rx="1.3" ry="1.1"/><ellipse cx="466.6" cy="423.9" rx="1.1" ry="1.2"/><circle cx="264.5" cy="445.9" r="1.3"/><ellipse cx="346.0" cy="333.3" rx="1.2" ry="1.5"/><ellipse cx="398.8" cy="443.9" rx="1.4" ry="1.2"/><ellipse cx="330.6" cy="285.1" rx="1.4" ry="1.1"/><circle cx="263.6" cy="333.0" r="1.3"/><ellipse cx="400.8" cy="473.5" rx="1.1" ry="1.2"/><ellipse cx="332.3" cy="367.3" rx="1.0" ry="1.3"/><ellipse cx="430.7" cy="397.9" rx="1.0" ry="1.3"/><ellipse cx="316.0" cy="303.7" rx="1.5" ry="1.1"/><ellipse cx="375.6" cy="376.1" rx="1.3" ry="1.1"/><circle cx="280.7" cy="288.4" r="1.3"/><circle cx="416.2" cy="310.9" r="1.2"/><circle cx="355.9" cy="360.9" r="1.3"/><ellipse cx="414.1" cy="400.3" rx="1.3" ry="1.1"/><circle cx="453.5" cy="330.1" r="1.3"/><circle cx="460.7" cy="331.2" r="1.1"/><ellipse cx="349.6" cy="382.2" rx="1.0" ry="1.3"/><ellipse cx="305.4" cy="393.3" rx="1.2" ry="1.3"/><ellipse cx="337.1" cy="428.0" rx="1.2" ry="1.6"/><circle cx="338.7" cy="377.7" r="1.3"/><ellipse cx="365.2" cy="470.5" rx="1.5" ry="1.2"/><circle cx="396.9" cy="416.3" r="1.2"/><ellipse cx="348.0" cy="363.5" rx="1.1" ry="1.4"/><ellipse cx="292.0" cy="471.4" rx="1.3" ry="1.1"/><circle cx="432.0" cy="464.7" r="1.2"/><circle cx="429.2" cy="354.0" r="1.2"/><circle cx="461.2" cy="300.1" r="1.2"/><ellipse cx="386.6" cy="378.1" rx="1.3" ry="1.4"/><ellipse cx="365.5" cy="445.1" rx="1.4" ry="1.2"/><ellipse cx="359.0" cy="363.5" rx="1.3" ry="1.1"/><circle cx="360.7" cy="321.8" r="1.3"/><ellipse cx="377.7" cy="475.4" rx="1.5" ry="1.2"/><circle cx="434.2" cy="380.8" r="1.4"/><circle cx="345.0" cy="383.3" r="1.4"/><circle cx="421.7" cy="339.3" r="1.3"/><ellipse cx="293.7" cy="472.7" rx="1.5" ry="1.2"/><ellipse cx="393.8" cy="451.6" rx="1.0" ry="1.4"/><ellipse cx="304.5" cy="380.7" rx="1.3" ry="1.0"/><ellipse cx="295.3" cy="446.8" rx="1.3" ry="1.1"/><ellipse cx="378.3" cy="273.7" rx="1.1" ry="1.2"/><ellipse cx="438.7" cy="290.0" rx="1.4" ry="1.1"/><circle cx="264.7" cy="384.6" r="1.2"/><ellipse cx="462.0" cy="447.7" rx="1.5" ry="1.3"/><circle cx="411.4" cy="289.3" r="1.3"/><circle cx="457.4" cy="299.4" r="1.1"/><ellipse cx="350.3" cy="403.2" rx="1.2" ry="1.5"/><ellipse cx="340.2" cy="363.0" rx="1.3" ry="1.0"/><ellipse cx="401.0" cy="297.4" rx="1.3" ry="1.4"/><ellipse cx="462.0" cy="361.2" rx="1.0" ry="1.4"/><ellipse cx="269.5" cy="417.1" rx="1.2" ry="1.4"/><circle cx="366.1" cy="373.1" r="1.2"/><circle cx="353.0" cy="445.8" r="1.1"/><circle cx="423.0" cy="355.2" r="1.2"/><circle cx="301.0" cy="275.2" r="1.4"/><ellipse cx="284.6" cy="429.6" rx="1.1" ry="1.2"/><ellipse cx="386.3" cy="327.5" rx="1.2" ry="1.5"/><circle cx="326.1" cy="462.2" r="1.3"/><ellipse cx="414.7" cy="309.0" rx="1.2" ry="1.3"/><circle cx="421.2" cy="300.9" r="1.2"/><ellipse cx="372.7" cy="357.6" rx="1.4" ry="1.2"/><circle cx="443.3" cy="451.0" r="1.3"/><circle cx="465.1" cy="349.8" r="1.2"/><circle cx="269.1" cy="349.3" r="1.3"/><circle cx="360.5" cy="343.0" r="1.3"/><ellipse cx="308.6" cy="457.6" rx="1.1" ry="1.3"/><ellipse cx="362.5" cy="352.0" rx="1.1" ry="1.3"/><circle cx="349.6" cy="302.5" r="1.3"/><circle cx="368.6" cy="455.3" r="1.2"/><ellipse cx="298.4" cy="447.1" rx="1.1" ry="1.3"/><circle cx="294.7" cy="427.9" r="1.2"/><ellipse cx="360.1" cy="289.7" rx="1.3" ry="1.2"/><ellipse cx="324.7" cy="372.6" rx="1.2" ry="1.5"/><ellipse cx="447.1" cy="450.0" rx="1.4" ry="1.2"/><circle cx="465.0" cy="405.5" r="1.4"/><circle cx="418.5" cy="414.1" r="1.2"/><ellipse cx="418.5" cy="341.0" rx="1.3" ry="1.1"/><ellipse cx="365.7" cy="463.7" rx="1.3" ry="1.2"/><ellipse cx="313.0" cy="443.4" rx="1.3" ry="1.1"/><ellipse cx="399.3" cy="390.2" rx="1.1" ry="1.5"/><ellipse cx="322.1" cy="345.5" rx="1.3" ry="1.5"/><ellipse cx="455.2" cy="470.8" rx="1.0" ry="1.3"/><ellipse cx="408.1" cy="427.0" rx="1.2" ry="1.3"/><circle cx="261.7" cy="388.9" r="1.3"/><ellipse cx="390.5" cy="417.0" rx="1.2" ry="1.4"/><ellipse cx="338.1" cy="344.3" rx="1.5" ry="1.3"/><circle cx="402.5" cy="354.8" r="1.3"/><ellipse cx="289.5" cy="455.6" rx="1.3" ry="1.1"/><circle cx="338.4" cy="303.9" r="1.3"/><ellipse cx="427.2" cy="433.9" rx="1.2" ry="1.1"/><ellipse cx="457.1" cy="280.0" rx="1.1" ry="1.4"/><ellipse cx="267.7" cy="376.5" rx="1.4" ry="1.1"/><ellipse cx="468.2" cy="416.0" rx="1.4" ry="1.1"/><ellipse cx="445.5" cy="300.8" rx="1.2" ry="1.5"/><circle cx="331.5" cy="470.5" r="1.3"/><ellipse cx="364.2" cy="318.3" rx="1.2" ry="1.3"/><ellipse cx="332.5" cy="457.4" rx="1.5" ry="1.2"/><circle cx="391.4" cy="307.5" r="1.1"/><ellipse cx="363.8" cy="461.5" rx="1.1" ry="1.2"/><circle cx="294.2" cy="415.9" r="1.3"/><ellipse cx="432.0" cy="430.2" rx="1.4" ry="1.2"/><circle cx="283.7" cy="392.7" r="1.4"/><circle cx="394.3" cy="319.7" r="1.2"/><ellipse cx="424.6" cy="443.2" rx="1.1" ry="1.3"/><ellipse cx="336.7" cy="354.5" rx="1.4" ry="1.2"/><ellipse cx="408.8" cy="423.2" rx="1.1" ry="1.3"/><ellipse cx="409.8" cy="456.4" rx="1.3" ry="1.1"/><circle cx="401.1" cy="300.1" r="1.2"/><circle cx="391.0" cy="364.2" r="1.3"/><ellipse cx="352.8" cy="412.3" rx="1.5" ry="1.2"/><circle cx="459.6" cy="304.2" r="1.1"/><ellipse cx="415.5" cy="293.6" rx="1.3" ry="1.1"/><ellipse cx="317.6" cy="312.5" rx="1.2" ry="1.0"/><circle cx="340.4" cy="285.3" r="1.2"/><ellipse cx="269.6" cy="410.4" rx="1.5" ry="1.1"/><ellipse cx="276.6" cy="363.5" rx="1.1" ry="1.3"/><circle cx="284.3" cy="426.5" r="1.2"/><ellipse cx="391.5" cy="390.6" rx="1.2" ry="1.4"/><circle cx="328.5" cy="463.0" r="1.2"/><circle cx="442.0" cy="442.2" r="1.2"/><ellipse cx="288.1" cy="397.7" rx="1.1" ry="1.4"/><circle cx="277.6" cy="420.5" r="1.2"/><ellipse cx="446.6" cy="312.1" rx="1.2" ry="1.4"/><ellipse cx="371.5" cy="323.5" rx="1.1" ry="1.4"/><ellipse cx="360.5" cy="470.0" rx="1.4" ry="1.3"/><ellipse cx="315.4" cy="473.4" rx="1.1" ry="1.2"/><ellipse cx="271.0" cy="308.0" rx="1.5" ry="1.2"/><ellipse cx="400.6" cy="307.4" rx="1.0" ry="1.3"/><ellipse cx="351.1" cy="342.0" rx="1.4" ry="1.2"/><circle cx="346.9" cy="365.9" r="1.3"/><ellipse cx="457.4" cy="471.1" rx="1.4" ry="1.2"/><ellipse cx="287.3" cy="324.1" rx="1.1" ry="1.4"/><ellipse cx="333.3" cy="288.4" rx="1.3" ry="1.1"/><circle cx="306.2" cy="469.8" r="1.2"/><circle cx="327.2" cy="321.4" r="1.3"/><ellipse cx="437.6" cy="323.5" rx="1.4" ry="1.1"/><circle cx="275.6" cy="465.5" r="1.3"/><circle cx="303.2" cy="297.2" r="1.2"/><ellipse cx="314.6" cy="327.3" rx="1.4" ry="1.1"/><ellipse cx="364.3" cy="311.6" rx="1.4" ry="1.2"/><ellipse cx="405.6" cy="342.8" rx="1.1" ry="1.5"/><circle cx="295.5" cy="306.8" r="1.1"/><ellipse cx="286.9" cy="427.9" rx="1.5" ry="1.2"/><circle cx="378.6" cy="402.8" r="1.1"/><circle cx="400.2" cy="281.6" r="1.3"/><circle cx="444.3" cy="286.9" r="1.3"/><circle cx="406.2" cy="280.2" r="1.3"/><circle cx="343.7" cy="414.1" r="1.1"/><ellipse cx="385.1" cy="385.2" rx="1.1" ry="1.3"/><ellipse cx="347.1" cy="313.2" rx="1.2" ry="1.5"/><ellipse cx="276.5" cy="473.7" rx="1.2" ry="1.6"/><ellipse cx="285.4" cy="439.9" rx="1.4" ry="1.1"/><ellipse cx="331.2" cy="372.3" rx="1.5" ry="1.2"/><circle cx="307.9" cy="417.1" r="1.2"/><circle cx="342.8" cy="331.6" r="1.2"/><ellipse cx="313.8" cy="288.9" rx="1.2" ry="1.4"/><circle cx="277.9" cy="356.7" r="1.2"/><ellipse cx="390.9" cy="271.1" rx="1.2" ry="1.4"/><circle cx="423.4" cy="298.2" r="1.4"/><ellipse cx="262.9" cy="340.2" rx="1.3" ry="1.1"/><circle cx="322.0" cy="390.4" r="1.1"/><ellipse cx="316.7" cy="315.2" rx="1.2" ry="1.3"/><ellipse cx="349.1" cy="386.9" rx="1.2" ry="1.3"/><circle cx="377.8" cy="358.1" r="1.2"/><circle cx="275.3" cy="365.1" r="1.2"/><ellipse cx="300.1" cy="441.8" rx="1.0" ry="1.3"/><ellipse cx="408.1" cy="292.6" rx="1.2" ry="1.4"/><ellipse cx="313.9" cy="386.8" rx="1.3" ry="1.1"/><ellipse cx="437.2" cy="453.4" rx="1.1" ry="1.4"/><circle cx="384.2" cy="286.0" r="1.3"/><ellipse cx="464.1" cy="311.9" rx="1.2" ry="1.4"/><ellipse cx="403.4" cy="450.0" rx="1.1" ry="1.5"/><ellipse cx="328.8" cy="382.2" rx="1.1" ry="1.3"/><ellipse cx="406.5" cy="312.1" rx="1.2" ry="1.0"/><ellipse cx="397.6" cy="440.5" rx="1.5" ry="1.2"/><ellipse cx="449.0" cy="365.2" rx="1.4" ry="1.1"/><ellipse cx="454.7" cy="476.7" rx="1.4" ry="1.1"/><ellipse cx="426.1" cy="456.3" rx="1.0" ry="1.3"/><ellipse cx="365.5" cy="284.1" rx="1.4" ry="1.0"/><ellipse cx="370.9" cy="377.3" rx="1.2" ry="1.4"/><ellipse cx="276.9" cy="373.5" rx="1.0" ry="1.3"/><ellipse cx="418.2" cy="276.2" rx="1.2" ry="1.3"/><ellipse cx="345.4" cy="355.1" rx="1.1" ry="1.3"/><ellipse cx="282.8" cy="433.9" rx="1.0" ry="1.3"/><ellipse cx="366.9" cy="346.4" rx="1.4" ry="1.1"/><ellipse cx="350.5" cy="450.6" rx="1.3" ry="1.4"/><ellipse cx="367.3" cy="446.4" rx="1.2" ry="1.5"/><ellipse cx="335.1" cy="399.1" rx="1.3" ry="1.0"/><circle cx="332.2" cy="294.4" r="1.2"/><ellipse cx="319.5" cy="386.8" rx="1.2" ry="1.4"/><ellipse cx="289.5" cy="345.2" rx="1.2" ry="1.5"/><circle cx="322.0" cy="406.2" r="1.2"/><ellipse cx="422.9" cy="460.9" rx="1.3" ry="1.0"/><circle cx="459.8" cy="436.6" r="1.3"/><ellipse cx="289.0" cy="392.3" rx="1.1" ry="1.3"/><circle cx="306.1" cy="294.6" r="1.3"/><ellipse cx="460.2" cy="478.8" rx="1.2" ry="1.4"/><circle cx="426.0" cy="345.2" r="1.3"/><circle cx="409.8" cy="315.5" r="1.3"/><circle cx="401.0" cy="372.2" r="1.1"/><ellipse cx="382.8" cy="326.6" rx="1.4" ry="1.2"/><circle cx="442.5" cy="329.4" r="1.1"/><ellipse cx="400.6" cy="366.7" rx="1.0" ry="1.3"/><circle cx="380.4" cy="312.3" r="1.2"/><circle cx="278.7" cy="430.9" r="1.2"/><ellipse cx="470.0" cy="472.5" rx="1.1" ry="1.3"/><ellipse cx="324.6" cy="405.6" rx="1.5" ry="1.3"/><ellipse cx="391.5" cy="428.2" rx="1.1" ry="1.3"/><circle cx="322.3" cy="447.5" r="1.3"/><ellipse cx="317.6" cy="280.6" rx="1.1" ry="1.4"/><ellipse cx="324.3" cy="409.1" rx="1.4" ry="1.1"/><ellipse cx="262.1" cy="354.2" rx="1.3" ry="1.0"/><ellipse cx="267.9" cy="367.3" rx="1.1" ry="1.4"/><ellipse cx="362.0" cy="349.4" rx="1.2" ry="1.3"/><ellipse cx="288.3" cy="273.9" rx="1.0" ry="1.2"/><circle cx="261.7" cy="428.4" r="1.2"/><ellipse cx="372.8" cy="309.2" rx="1.2" ry="1.5"/><ellipse cx="425.0" cy="309.3" rx="1.4" ry="1.1"/><ellipse cx="444.2" cy="448.1" rx="1.1" ry="1.3"/><ellipse cx="369.0" cy="360.1" rx="1.3" ry="1.5"/><circle cx="409.4" cy="303.1" r="1.2"/><ellipse cx="271.4" cy="412.3" rx="1.0" ry="1.3"/><ellipse cx="265.8" cy="438.8" rx="1.2" ry="1.3"/><ellipse cx="439.3" cy="422.8" rx="1.2" ry="1.6"/><ellipse cx="411.9" cy="355.4" rx="1.1" ry="1.4"/><ellipse cx="374.1" cy="338.4" rx="1.2" ry="1.3"/><ellipse cx="393.0" cy="357.4" rx="1.1" ry="1.4"/><ellipse cx="366.7" cy="385.7" rx="1.4" ry="1.3"/><ellipse cx="376.6" cy="468.1" rx="1.4" ry="1.1"/><ellipse cx="413.4" cy="473.9" rx="1.1" ry="1.4"/><ellipse cx="274.3" cy="348.8" rx="1.4" ry="1.1"/><ellipse cx="441.9" cy="311.3" rx="1.2" ry="1.5"/><ellipse cx="437.4" cy="477.6" rx="1.4" ry="1.1"/><ellipse cx="320.4" cy="283.4" rx="1.4" ry="1.1"/><ellipse cx="426.0" cy="334.9" rx="1.5" ry="1.2"/><ellipse cx="457.8" cy="419.3" rx="1.3" ry="1.2"/><ellipse cx="421.7" cy="296.2" rx="1.0" ry="1.3"/><ellipse cx="304.6" cy="417.0" rx="1.2" ry="1.4"/><ellipse cx="338.3" cy="375.7" rx="1.2" ry="1.0"/><ellipse cx="295.0" cy="343.8" rx="1.1" ry="1.5"/><ellipse cx="357.9" cy="275.9" rx="1.1" ry="1.2"/><circle cx="445.8" cy="272.2" r="1.1"/><ellipse cx="297.0" cy="464.4" rx="1.0" ry="1.3"/><ellipse cx="390.7" cy="447.7" rx="1.0" ry="1.3"/><ellipse cx="384.5" cy="455.8" rx="1.4" ry="1.2"/><ellipse cx="314.1" cy="382.7" rx="1.1" ry="1.3"/><ellipse cx="453.4" cy="402.7" rx="1.1" ry="1.5"/><ellipse cx="418.1" cy="418.2" rx="1.5" ry="1.2"/><ellipse cx="370.5" cy="394.4" rx="1.4" ry="1.2"/><ellipse cx="275.0" cy="375.2" rx="1.3" ry="1.1"/><circle cx="432.8" cy="340.2" r="1.3"/><ellipse cx="434.7" cy="302.5" rx="1.4" ry="1.1"/><circle cx="384.6" cy="334.0" r="1.2"/><circle cx="448.4" cy="390.0" r="1.3"/><circle cx="463.5" cy="366.1" r="1.2"/><ellipse cx="332.7" cy="436.7" rx="1.4" ry="1.2"/><circle cx="358.8" cy="285.8" r="1.2"/><ellipse cx="356.0" cy="451.6" rx="1.4" ry="1.2"/><circle cx="322.4" cy="394.3" r="1.2"/><ellipse cx="263.9" cy="379.8" rx="1.3" ry="1.0"/><circle cx="302.6" cy="371.6" r="1.3"/><circle cx="284.6" cy="302.8" r="1.4"/><circle cx="354.5" cy="306.4" r="1.3"/><circle cx="382.6" cy="369.4" r="1.2"/><circle cx="412.7" cy="451.1" r="1.2"/><circle cx="264.8" cy="428.0" r="1.2"/><circle cx="442.2" cy="374.8" r="1.3"/><ellipse cx="280.0" cy="473.1" rx="1.0" ry="1.3"/><ellipse cx="449.0" cy="425.8" rx="1.0" ry="1.2"/><circle cx="403.3" cy="460.9" r="1.2"/><circle cx="297.6" cy="324.1" r="1.2"/><ellipse cx="313.2" cy="352.5" rx="1.1" ry="1.4"/><circle cx="415.4" cy="462.8" r="1.4"/><ellipse cx="387.2" cy="331.6" rx="1.5" ry="1.2"/><ellipse cx="292.8" cy="284.3" rx="1.1" ry="1.3"/><circle cx="297.0" cy="334.1" r="1.3"/><circle cx="321.8" cy="380.6" r="1.2"/><circle cx="424.0" cy="282.7" r="1.3"/><circle cx="332.4" cy="326.6" r="1.2"/><circle cx="348.1" cy="450.7" r="1.2"/><circle cx="381.1" cy="288.3" r="1.2"/><circle cx="281.4" cy="291.2" r="1.2"/><ellipse cx="428.7" cy="272.0" rx="1.2" ry="1.5"/><ellipse cx="333.5" cy="471.7" rx="1.2" ry="1.3"/><ellipse cx="410.8" cy="416.7" rx="1.3" ry="1.1"/><ellipse cx="265.0" cy="295.5" rx="1.1" ry="1.4"/><circle cx="282.4" cy="332.6" r="1.2"/><ellipse cx="329.8" cy="357.5" rx="1.2" ry="1.4"/><ellipse cx="310.5" cy="416.4" rx="1.1" ry="1.5"/><ellipse cx="312.6" cy="362.6" rx="1.5" ry="1.1"/><ellipse cx="275.9" cy="292.6" rx="1.1" ry="1.5"/></g>
<g fill="url(#blob)" stroke="#9c3606" stroke-width="0.9" stroke-opacity="0.9"><ellipse cx="392.6" cy="435.0" rx="2.8" ry="3.5"/><ellipse cx="432.8" cy="307.1" rx="3.9" ry="3.0"/><ellipse cx="416.6" cy="389.9" rx="3.4" ry="3.1"/><circle cx="403.8" cy="317.4" r="3.2"/><ellipse cx="328.8" cy="449.4" rx="3.1" ry="3.5"/><ellipse cx="262.1" cy="292.9" rx="3.2" ry="3.9"/><circle cx="396.6" cy="300.0" r="3.3"/><ellipse cx="464.1" cy="282.1" rx="2.6" ry="3.3"/><ellipse cx="450.2" cy="298.3" rx="2.9" ry="3.2"/><circle cx="284.5" cy="351.4" r="3.3"/><ellipse cx="387.5" cy="360.1" rx="4.0" ry="3.2"/><circle cx="461.3" cy="431.0" r="3.5"/><ellipse cx="368.5" cy="476.3" rx="2.9" ry="3.5"/><ellipse cx="459.6" cy="422.2" rx="3.5" ry="2.7"/><ellipse cx="421.3" cy="279.9" rx="3.9" ry="3.0"/><ellipse cx="399.3" cy="458.2" rx="3.3" ry="2.9"/><ellipse cx="427.7" cy="300.0" rx="3.6" ry="3.2"/><ellipse cx="280.1" cy="335.4" rx="3.7" ry="3.0"/><ellipse cx="274.9" cy="390.3" rx="3.6" ry="3.1"/><circle cx="450.4" cy="439.7" r="3.0"/><ellipse cx="296.2" cy="419.9" rx="2.6" ry="3.5"/><ellipse cx="391.3" cy="348.9" rx="3.9" ry="3.0"/><circle cx="383.5" cy="433.0" r="3.5"/><ellipse cx="415.7" cy="373.1" rx="2.8" ry="3.2"/><ellipse cx="445.0" cy="437.0" rx="3.7" ry="3.1"/><ellipse cx="423.2" cy="271.6" rx="3.2" ry="3.7"/><ellipse cx="355.6" cy="468.3" rx="3.0" ry="3.6"/><ellipse cx="349.9" cy="397.7" rx="3.2" ry="4.1"/><circle cx="297.8" cy="432.8" r="3.2"/><ellipse cx="311.0" cy="373.6" rx="3.0" ry="3.6"/><ellipse cx="365.4" cy="298.9" rx="3.4" ry="3.8"/><ellipse cx="392.4" cy="399.2" rx="3.3" ry="3.9"/><ellipse cx="450.6" cy="457.5" rx="3.5" ry="3.1"/><circle cx="301.2" cy="292.0" r="3.4"/><circle cx="315.3" cy="446.5" r="3.4"/><circle cx="265.5" cy="300.2" r="3.3"/><ellipse cx="464.1" cy="391.8" rx="3.0" ry="3.9"/><ellipse cx="434.0" cy="471.2" rx="2.9" ry="3.5"/><circle cx="265.7" cy="471.1" r="3.6"/><circle cx="431.0" cy="478.1" r="3.3"/><ellipse cx="324.3" cy="465.4" rx="3.3" ry="2.8"/><ellipse cx="355.1" cy="416.5" rx="2.7" ry="3.3"/><ellipse cx="314.3" cy="339.7" rx="3.5" ry="2.7"/><ellipse cx="308.1" cy="324.8" rx="3.2" ry="4.1"/><ellipse cx="462.2" cy="470.0" rx="3.3" ry="3.9"/><circle cx="338.5" cy="386.3" r="3.3"/><circle cx="301.3" cy="469.2" r="3.3"/><circle cx="284.2" cy="286.0" r="3.4"/><circle cx="401.7" cy="331.5" r="3.2"/><circle cx="437.0" cy="429.0" r="3.3"/><ellipse cx="415.8" cy="351.9" rx="2.9" ry="3.2"/><circle cx="323.8" cy="274.4" r="3.6"/><ellipse cx="388.3" cy="460.3" rx="4.0" ry="3.2"/><ellipse cx="461.0" cy="313.8" rx="2.7" ry="3.5"/><ellipse cx="348.3" cy="309.5" rx="3.7" ry="2.8"/><ellipse cx="282.0" cy="323.6" rx="2.9" ry="3.6"/><ellipse cx="321.5" cy="369.3" rx="3.2" ry="4.1"/><ellipse cx="422.1" cy="382.6" rx="3.6" ry="2.9"/><circle cx="415.3" cy="381.6" r="3.5"/><ellipse cx="448.4" cy="412.7" rx="2.9" ry="3.5"/><ellipse cx="284.5" cy="328.8" rx="2.8" ry="3.2"/><ellipse cx="276.9" cy="384.8" rx="2.8" ry="3.2"/><ellipse cx="291.5" cy="306.7" rx="3.3" ry="3.8"/><ellipse cx="337.1" cy="474.9" rx="3.4" ry="3.1"/><circle cx="388.4" cy="366.6" r="3.0"/><ellipse cx="384.7" cy="352.5" rx="3.4" ry="3.0"/><ellipse cx="281.6" cy="446.5" rx="3.5" ry="2.9"/><ellipse cx="321.1" cy="333.5" rx="3.4" ry="3.8"/><circle cx="428.6" cy="285.4" r="3.5"/><ellipse cx="331.0" cy="397.9" rx="2.8" ry="3.4"/><ellipse cx="421.9" cy="364.4" rx="2.9" ry="2.4"/><ellipse cx="296.0" cy="291.5" rx="2.6" ry="3.1"/><circle cx="448.4" cy="346.8" r="2.6"/><circle cx="326.8" cy="413.2" r="2.9"/><ellipse cx="389.8" cy="384.5" rx="3.0" ry="2.3"/><ellipse cx="425.6" cy="451.9" rx="2.4" ry="3.1"/><ellipse cx="382.0" cy="321.7" rx="2.7" ry="2.5"/><ellipse cx="447.9" cy="304.3" rx="3.0" ry="2.4"/><circle cx="263.2" cy="425.1" r="2.7"/><circle cx="396.1" cy="454.3" r="2.9"/><ellipse cx="389.3" cy="311.8" rx="2.2" ry="2.9"/><ellipse cx="402.0" cy="289.7" rx="2.9" ry="2.4"/><ellipse cx="459.4" cy="352.6" rx="2.6" ry="2.9"/><ellipse cx="410.9" cy="411.8" rx="2.7" ry="3.4"/><ellipse cx="362.0" cy="305.2" rx="2.8" ry="3.2"/><ellipse cx="423.2" cy="371.2" rx="2.4" ry="3.1"/><circle cx="425.2" cy="471.3" r="2.7"/><circle cx="309.7" cy="475.3" r="3.0"/><circle cx="414.6" cy="279.2" r="3.0"/><ellipse cx="399.0" cy="386.5" rx="3.2" ry="2.4"/><ellipse cx="312.5" cy="305.1" rx="2.9" ry="3.2"/><circle cx="293.7" cy="424.4" r="2.7"/><ellipse cx="405.5" cy="418.7" rx="3.4" ry="2.6"/><ellipse cx="318.5" cy="306.8" rx="3.3" ry="2.5"/><ellipse cx="272.0" cy="427.6" rx="3.1" ry="2.6"/><ellipse cx="358.6" cy="293.4" rx="2.5" ry="3.3"/><ellipse cx="417.0" cy="404.6" rx="2.4" ry="2.7"/><ellipse cx="371.9" cy="346.7" rx="3.0" ry="2.3"/><circle cx="389.9" cy="470.1" r="2.6"/><ellipse cx="341.7" cy="419.1" rx="3.1" ry="2.3"/><ellipse cx="415.8" cy="301.9" rx="3.2" ry="2.5"/><ellipse cx="274.5" cy="419.0" rx="2.7" ry="2.4"/><circle cx="282.2" cy="312.7" r="3.0"/><ellipse cx="265.9" cy="320.6" rx="2.5" ry="3.2"/><ellipse cx="465.9" cy="427.7" rx="3.2" ry="2.4"/><circle cx="462.7" cy="343.5" r="2.7"/><ellipse cx="350.1" cy="470.9" rx="3.1" ry="2.4"/><circle cx="375.7" cy="478.2" r="2.5"/><circle cx="358.1" cy="473.9" r="2.6"/><ellipse cx="360.4" cy="281.5" rx="3.3" ry="2.5"/><ellipse cx="464.7" cy="297.2" rx="2.7" ry="3.4"/><circle cx="453.0" cy="342.7" r="2.7"/><ellipse cx="448.2" cy="319.3" rx="2.5" ry="3.4"/><circle cx="271.6" cy="280.7" r="2.7"/><ellipse cx="369.7" cy="290.5" rx="2.4" ry="3.0"/><ellipse cx="341.2" cy="450.7" rx="3.0" ry="2.5"/><ellipse cx="441.6" cy="370.5" rx="2.3" ry="2.8"/><ellipse cx="449.0" cy="326.2" rx="3.4" ry="2.6"/><circle cx="387.4" cy="448.6" r="3.0"/><ellipse cx="329.9" cy="404.6" rx="2.5" ry="3.3"/><circle cx="395.6" cy="409.1" r="2.6"/><circle cx="458.5" cy="362.3" r="2.9"/><ellipse cx="458.6" cy="285.9" rx="2.5" ry="3.0"/><circle cx="390.0" cy="422.1" r="3.0"/><ellipse cx="322.7" cy="360.2" rx="2.9" ry="2.5"/><ellipse cx="405.9" cy="274.5" rx="2.6" ry="2.9"/><ellipse cx="312.6" cy="331.3" rx="2.9" ry="3.3"/><ellipse cx="375.1" cy="445.6" rx="2.3" ry="3.0"/><ellipse cx="276.8" cy="424.5" rx="2.7" ry="3.1"/><circle cx="432.4" cy="425.5" r="2.7"/><ellipse cx="427.5" cy="462.4" rx="2.8" ry="3.4"/><circle cx="411.2" cy="341.5" r="2.5"/><ellipse cx="365.2" cy="394.5" rx="2.9" ry="2.3"/><ellipse cx="295.9" cy="281.3" rx="3.2" ry="2.8"/><ellipse cx="327.4" cy="441.3" rx="2.6" ry="3.1"/><ellipse cx="373.1" cy="342.4" rx="2.4" ry="3.0"/><ellipse cx="299.4" cy="362.6" rx="2.8" ry="3.1"/><circle cx="379.4" cy="367.9" r="2.8"/><circle cx="292.6" cy="367.1" r="2.6"/><ellipse cx="328.0" cy="331.8" rx="3.5" ry="2.7"/><circle cx="291.6" cy="435.6" r="2.6"/><ellipse cx="377.3" cy="332.1" rx="2.5" ry="3.3"/><ellipse cx="390.1" cy="292.7" rx="3.3" ry="2.7"/><ellipse cx="361.7" cy="458.9" rx="3.3" ry="2.7"/><ellipse cx="439.7" cy="402.1" rx="3.0" ry="2.3"/><ellipse cx="307.6" cy="409.4" rx="2.6" ry="3.1"/><ellipse cx="282.6" cy="416.9" rx="3.0" ry="2.5"/><ellipse cx="347.6" cy="407.0" rx="2.7" ry="3.5"/><circle cx="449.0" cy="462.7" r="2.8"/><ellipse cx="265.2" cy="313.2" rx="2.5" ry="2.8"/><circle cx="277.1" cy="341.9" r="2.7"/><circle cx="423.7" cy="288.3" r="2.8"/><circle cx="431.9" cy="314.6" r="2.6"/><circle cx="289.4" cy="379.1" r="3.1"/><ellipse cx="285.2" cy="471.6" rx="2.4" ry="2.8"/><circle cx="265.7" cy="456.8" r="2.8"/><ellipse cx="468.6" cy="387.8" rx="3.4" ry="2.7"/><circle cx="336.8" cy="319.9" r="2.8"/><circle cx="405.4" cy="423.8" r="3.0"/><ellipse cx="430.1" cy="277.6" rx="3.1" ry="2.4"/><ellipse cx="468.1" cy="463.5" rx="2.5" ry="3.3"/><ellipse cx="395.2" cy="420.4" rx="2.9" ry="2.5"/><circle cx="370.7" cy="418.4" r="2.9"/><ellipse cx="279.6" cy="365.8" rx="2.7" ry="3.2"/><circle cx="407.2" cy="430.3" r="2.5"/><ellipse cx="270.1" cy="296.2" rx="3.2" ry="2.8"/><circle cx="319.1" cy="340.9" r="2.9"/><ellipse cx="394.4" cy="463.7" rx="2.3" ry="3.0"/><circle cx="340.7" cy="431.1" r="3.0"/><ellipse cx="412.3" cy="306.2" rx="3.3" ry="2.6"/><ellipse cx="263.6" cy="465.4" rx="2.7" ry="2.4"/><circle cx="305.8" cy="463.3" r="2.5"/><ellipse cx="390.0" cy="328.4" rx="2.9" ry="2.5"/><circle cx="434.9" cy="401.3" r="2.7"/><ellipse cx="336.5" cy="462.2" rx="2.5" ry="3.4"/><ellipse cx="325.2" cy="379.0" rx="2.4" ry="3.0"/><circle cx="296.1" cy="327.3" r="2.8"/><circle cx="325.5" cy="394.4" r="2.5"/><ellipse cx="376.1" cy="425.2" rx="2.4" ry="2.8"/><ellipse cx="343.3" cy="359.2" rx="3.1" ry="2.5"/><circle cx="360.4" cy="443.1" r="2.9"/><ellipse cx="339.0" cy="445.8" rx="3.0" ry="2.3"/><circle cx="468.0" cy="379.5" r="2.9"/><ellipse cx="334.4" cy="370.5" rx="2.5" ry="3.0"/><ellipse cx="396.8" cy="395.6" rx="2.5" ry="3.0"/><circle cx="342.7" cy="409.0" r="2.6"/><ellipse cx="376.9" cy="300.3" rx="2.4" ry="3.1"/><ellipse cx="352.7" cy="392.0" rx="2.6" ry="3.4"/><ellipse cx="468.9" cy="348.6" rx="3.1" ry="2.7"/><circle cx="304.7" cy="313.9" r="2.9"/><ellipse cx="324.5" cy="319.1" rx="2.6" ry="3.1"/><ellipse cx="358.0" cy="389.2" rx="2.5" ry="3.0"/><ellipse cx="385.7" cy="272.0" rx="2.7" ry="3.0"/><ellipse cx="346.3" cy="426.6" rx="2.7" ry="3.2"/><ellipse cx="353.6" cy="449.2" rx="2.6" ry="2.9"/><ellipse cx="424.3" cy="430.6" rx="3.2" ry="2.7"/><circle cx="337.1" cy="335.4" r="3.0"/><ellipse cx="344.9" cy="317.8" rx="3.3" ry="2.6"/><ellipse cx="354.1" cy="288.8" rx="3.2" ry="2.7"/><ellipse cx="314.2" cy="285.5" rx="3.1" ry="2.8"/><ellipse cx="403.0" cy="312.2" rx="3.1" ry="2.5"/><ellipse cx="421.9" cy="335.9" rx="3.2" ry="2.7"/><circle cx="342.2" cy="345.1" r="2.9"/><circle cx="444.0" cy="281.7" r="2.7"/><circle cx="465.4" cy="362.4" r="2.9"/><ellipse cx="335.9" cy="393.2" rx="2.5" ry="2.9"/><circle cx="299.2" cy="461.4" r="2.7"/><ellipse cx="357.7" cy="324.3" rx="2.7" ry="3.2"/><ellipse cx="374.8" cy="395.0" rx="2.7" ry="3.4"/><ellipse cx="318.2" cy="455.4" rx="3.3" ry="2.7"/><ellipse cx="308.3" cy="318.2" rx="2.7" ry="2.4"/><circle cx="418.4" cy="459.8" r="2.6"/><circle cx="332.9" cy="382.4" r="2.6"/><ellipse cx="426.3" cy="378.8" rx="3.0" ry="2.6"/><circle cx="402.4" cy="278.6" r="2.6"/><ellipse cx="414.5" cy="415.8" rx="2.8" ry="2.5"/><circle cx="460.5" cy="335.7" r="2.9"/><ellipse cx="267.0" cy="286.2" rx="2.7" ry="3.5"/><circle cx="376.3" cy="388.7" r="2.9"/><ellipse cx="359.7" cy="431.2" rx="2.6" ry="2.9"/><circle cx="434.8" cy="394.4" r="2.6"/><circle cx="360.8" cy="338.3" r="2.9"/><ellipse cx="283.8" cy="340.5" rx="2.8" ry="2.3"/><circle cx="384.5" cy="441.9" r="2.6"/><circle cx="368.8" cy="461.1" r="2.7"/><ellipse cx="284.2" cy="365.6" rx="3.1" ry="2.5"/><circle cx="278.9" cy="411.1" r="2.9"/><circle cx="261.2" cy="336.3" r="3.1"/><ellipse cx="351.9" cy="327.1" rx="2.2" ry="2.9"/><ellipse cx="349.8" cy="347.2" rx="2.7" ry="3.1"/><circle cx="338.7" cy="436.6" r="2.3"/><ellipse cx="291.1" cy="311.6" rx="1.9" ry="2.5"/><circle cx="361.7" cy="449.0" r="2.3"/><ellipse cx="382.1" cy="392.4" rx="2.0" ry="2.6"/><circle cx="332.5" cy="427.6" r="2.2"/><ellipse cx="343.6" cy="393.1" rx="2.4" ry="2.0"/><ellipse cx="455.4" cy="393.2" rx="2.3" ry="2.8"/><ellipse cx="363.3" cy="401.9" rx="2.6" ry="2.2"/><ellipse cx="364.5" cy="378.9" rx="2.1" ry="2.6"/><circle cx="319.4" cy="353.7" r="2.3"/><ellipse cx="425.3" cy="326.1" rx="2.3" ry="2.7"/><circle cx="325.4" cy="431.2" r="2.4"/><ellipse cx="403.2" cy="378.7" rx="2.6" ry="2.0"/><circle cx="463.6" cy="409.8" r="2.2"/><ellipse cx="409.5" cy="325.3" rx="2.2" ry="2.7"/><ellipse cx="457.4" cy="446.4" rx="2.3" ry="2.7"/><ellipse cx="464.7" cy="304.8" rx="2.3" ry="2.9"/><circle cx="462.1" cy="358.4" r="2.3"/><circle cx="359.6" cy="405.4" r="2.2"/><ellipse cx="327.0" cy="375.0" rx="2.2" ry="2.8"/><ellipse cx="376.1" cy="355.6" rx="2.7" ry="2.4"/><circle cx="300.1" cy="334.6" r="2.4"/><ellipse cx="448.6" cy="471.2" rx="2.5" ry="2.0"/><ellipse cx="389.1" cy="440.5" rx="2.1" ry="2.6"/><ellipse cx="435.5" cy="388.4" rx="2.8" ry="2.3"/><ellipse cx="377.6" cy="338.8" rx="2.5" ry="2.1"/><circle cx="367.6" cy="376.4" r="2.5"/><circle cx="387.6" cy="341.8" r="2.6"/><ellipse cx="378.2" cy="437.6" rx="2.0" ry="2.6"/><ellipse cx="298.5" cy="339.6" rx="1.9" ry="2.5"/><ellipse cx="374.2" cy="287.3" rx="2.5" ry="2.8"/><ellipse cx="318.3" cy="288.3" rx="2.2" ry="2.4"/><circle cx="351.1" cy="466.3" r="2.5"/><ellipse cx="301.4" cy="352.8" rx="2.4" ry="2.6"/><circle cx="274.8" cy="352.2" r="2.5"/><circle cx="399.3" cy="322.4" r="2.4"/><circle cx="286.2" cy="462.0" r="2.4"/><ellipse cx="281.9" cy="388.5" rx="2.1" ry="2.4"/><circle cx="286.9" cy="467.5" r="2.2"/><circle cx="290.6" cy="447.0" r="2.6"/><circle cx="337.8" cy="283.6" r="2.3"/><ellipse cx="409.9" cy="359.8" rx="2.9" ry="2.4"/><circle cx="373.2" cy="433.9" r="2.5"/><ellipse cx="309.5" cy="452.4" rx="2.1" ry="2.6"/><circle cx="422.0" cy="394.4" r="2.4"/><circle cx="279.8" cy="277.6" r="2.2"/><circle cx="394.5" cy="334.9" r="2.3"/><ellipse cx="363.9" cy="418.9" rx="2.2" ry="2.7"/><ellipse cx="445.0" cy="458.8" rx="2.5" ry="2.0"/><ellipse cx="283.3" cy="273.3" rx="2.6" ry="2.2"/><circle cx="286.6" cy="477.2" r="2.3"/><circle cx="418.8" cy="292.8" r="2.4"/><ellipse cx="400.8" cy="358.4" rx="2.6" ry="2.1"/><ellipse cx="445.4" cy="378.0" rx="2.4" ry="2.1"/><ellipse cx="464.2" cy="274.6" rx="2.4" ry="2.8"/><circle cx="442.0" cy="274.0" r="2.3"/><ellipse cx="361.3" cy="426.2" rx="2.0" ry="2.7"/><circle cx="440.6" cy="396.4" r="2.2"/><circle cx="454.4" cy="368.7" r="2.5"/><ellipse cx="352.3" cy="376.2" rx="2.3" ry="2.7"/><ellipse cx="442.4" cy="423.4" rx="2.9" ry="2.2"/><ellipse cx="382.1" cy="345.8" rx="2.9" ry="2.4"/><ellipse cx="452.2" cy="449.1" rx="2.5" ry="2.2"/><ellipse cx="324.6" cy="384.5" rx="2.6" ry="2.2"/><ellipse cx="314.5" cy="309.8" rx="2.2" ry="2.9"/><ellipse cx="329.0" cy="324.7" rx="2.1" ry="2.5"/><ellipse cx="316.8" cy="465.7" rx="2.0" ry="2.5"/><ellipse cx="434.8" cy="461.7" rx="2.5" ry="1.9"/><ellipse cx="325.7" cy="401.4" rx="2.2" ry="2.7"/><ellipse cx="420.0" cy="309.5" rx="2.2" ry="2.9"/><ellipse cx="294.6" cy="397.5" rx="2.4" ry="2.8"/><ellipse cx="273.7" cy="471.4" rx="2.7" ry="2.4"/><ellipse cx="363.1" cy="332.5" rx="2.1" ry="2.6"/><ellipse cx="321.0" cy="423.2" rx="2.2" ry="2.4"/><ellipse cx="453.6" cy="302.2" rx="2.3" ry="2.7"/><circle cx="267.3" cy="333.5" r="2.4"/><ellipse cx="407.2" cy="366.7" rx="2.4" ry="2.8"/><circle cx="374.3" cy="323.4" r="2.2"/><circle cx="465.9" cy="437.1" r="2.6"/><circle cx="355.6" cy="461.9" r="2.3"/><circle cx="441.6" cy="380.0" r="2.2"/><ellipse cx="341.6" cy="287.8" rx="2.1" ry="2.3"/><circle cx="347.1" cy="283.8" r="2.3"/><ellipse cx="376.5" cy="412.4" rx="2.8" ry="2.4"/><circle cx="400.2" cy="431.8" r="2.2"/><ellipse cx="359.6" cy="318.1" rx="2.7" ry="2.1"/><ellipse cx="342.0" cy="274.7" rx="2.7" ry="2.4"/><circle cx="418.6" cy="432.6" r="2.4"/><circle cx="364.8" cy="429.3" r="2.6"/><ellipse cx="466.6" cy="319.0" rx="2.5" ry="2.2"/><ellipse cx="433.9" cy="375.2" rx="2.1" ry="2.6"/><ellipse cx="464.2" cy="376.9" rx="2.3" ry="2.9"/><ellipse cx="375.6" cy="416.6" rx="2.3" ry="2.9"/><ellipse cx="380.4" cy="441.6" rx="2.0" ry="2.5"/><ellipse cx="311.1" cy="298.3" rx="2.2" ry="2.9"/><circle cx="280.8" cy="428.1" r="2.5"/><circle cx="334.3" cy="357.2" r="2.2"/><ellipse cx="449.6" cy="432.1" rx="2.4" ry="2.1"/><ellipse cx="411.9" cy="346.7" rx="2.2" ry="2.8"/><circle cx="412.3" cy="397.8" r="2.4"/><circle cx="330.9" cy="319.6" r="2.2"/><ellipse cx="380.2" cy="305.9" rx="2.2" ry="2.7"/><ellipse cx="439.1" cy="461.3" rx="2.3" ry="2.8"/><circle cx="364.3" cy="478.0" r="2.3"/><circle cx="409.2" cy="448.6" r="2.2"/><ellipse cx="274.9" cy="330.6" rx="2.7" ry="2.3"/><circle cx="327.3" cy="289.7" r="2.2"/><ellipse cx="289.0" cy="277.0" rx="2.5" ry="2.1"/><ellipse cx="423.1" cy="305.7" rx="2.3" ry="3.0"/><circle cx="436.5" cy="365.2" r="2.6"/><ellipse cx="396.0" cy="383.1" rx="2.1" ry="2.6"/><ellipse cx="296.5" cy="468.5" rx="2.8" ry="2.4"/><ellipse cx="416.4" cy="443.9" rx="2.0" ry="2.5"/><ellipse cx="306.6" cy="307.4" rx="2.3" ry="2.6"/><circle cx="302.0" cy="342.1" r="2.6"/><ellipse cx="349.5" cy="444.7" rx="2.2" ry="2.6"/><ellipse cx="331.2" cy="346.0" rx="2.7" ry="2.3"/><ellipse cx="360.1" cy="309.2" rx="2.2" ry="2.4"/><ellipse cx="293.3" cy="404.4" rx="2.6" ry="2.3"/><ellipse cx="440.9" cy="478.5" rx="2.5" ry="2.1"/><ellipse cx="294.7" cy="477.6" rx="2.9" ry="2.3"/><circle cx="418.4" cy="362.2" r="2.5"/><ellipse cx="428.0" cy="305.9" rx="2.2" ry="2.8"/><circle cx="285.1" cy="319.9" r="2.6"/><circle cx="329.7" cy="420.1" r="2.2"/><circle cx="348.2" cy="453.9" r="2.3"/><circle cx="371.0" cy="327.4" r="2.3"/><ellipse cx="446.0" cy="385.2" rx="2.2" ry="2.5"/><ellipse cx="430.0" cy="345.1" rx="2.1" ry="2.6"/><ellipse cx="360.9" cy="276.2" rx="2.3" ry="2.0"/><ellipse cx="430.2" cy="290.4" rx="3.0" ry="2.3"/><circle cx="354.1" cy="432.8" r="2.4"/><circle cx="312.3" cy="431.8" r="2.5"/><circle cx="314.8" cy="295.6" r="2.4"/><circle cx="276.6" cy="434.3" r="2.4"/><ellipse cx="353.9" cy="302.5" rx="2.4" ry="2.1"/><circle cx="457.4" cy="454.8" r="2.5"/><ellipse cx="283.1" cy="355.9" rx="2.0" ry="2.5"/><circle cx="391.8" cy="302.3" r="2.5"/><ellipse cx="366.7" cy="339.1" rx="2.0" ry="2.6"/><ellipse cx="300.4" cy="281.1" rx="2.4" ry="2.2"/><ellipse cx="275.3" cy="459.1" rx="1.9" ry="2.5"/><ellipse cx="363.2" cy="412.4" rx="2.4" ry="2.7"/><ellipse cx="304.4" cy="271.7" rx="2.5" ry="2.8"/><ellipse cx="469.3" cy="476.4" rx="2.3" ry="3.0"/><ellipse cx="303.1" cy="284.8" rx="2.4" ry="2.8"/><circle cx="463.2" cy="441.6" r="2.2"/><ellipse cx="291.8" cy="412.7" rx="2.8" ry="2.2"/><circle cx="381.3" cy="405.4" r="2.5"/><circle cx="353.6" cy="320.6" r="2.2"/><ellipse cx="443.6" cy="296.3" rx="2.4" ry="2.1"/><circle cx="410.7" cy="387.2" r="2.3"/><ellipse cx="469.4" cy="366.2" rx="2.8" ry="2.1"/><circle cx="298.6" cy="416.0" r="2.4"/><ellipse cx="312.4" cy="469.0" rx="2.3" ry="2.8"/><ellipse cx="322.6" cy="297.3" rx="2.5" ry="2.2"/><circle cx="347.5" cy="329.8" r="2.5"/><circle cx="318.1" cy="357.9" r="2.3"/><ellipse cx="378.5" cy="290.5" rx="2.3" ry="2.8"/><ellipse cx="438.5" cy="456.2" rx="2.3" ry="2.9"/><ellipse cx="296.1" cy="443.6" rx="2.1" ry="2.8"/><ellipse cx="272.7" cy="342.1" rx="2.9" ry="2.2"/><ellipse cx="339.7" cy="413.7" rx="2.0" ry="2.5"/><ellipse cx="262.9" cy="329.8" rx="2.5" ry="2.0"/><ellipse cx="458.9" cy="414.4" rx="2.6" ry="2.1"/><circle cx="331.9" cy="313.8" r="2.5"/><circle cx="300.0" cy="423.4" r="2.2"/><ellipse cx="304.9" cy="404.7" rx="2.1" ry="2.5"/><ellipse cx="417.9" cy="316.3" rx="2.3" ry="2.5"/><circle cx="447.9" cy="288.3" r="2.3"/><ellipse cx="302.9" cy="457.6" rx="2.1" ry="2.5"/><circle cx="268.5" cy="360.2" r="2.2"/><ellipse cx="295.8" cy="381.8" rx="2.8" ry="2.4"/><circle cx="411.9" cy="470.8" r="2.5"/><ellipse cx="273.4" cy="476.3" rx="2.2" ry="2.8"/><circle cx="288.6" cy="385.3" r="2.4"/><ellipse cx="433.8" cy="350.1" rx="2.6" ry="2.3"/><circle cx="268.0" cy="443.5" r="2.5"/><circle cx="278.8" cy="329.4" r="2.3"/><ellipse cx="387.2" cy="400.3" rx="2.7" ry="2.3"/><circle cx="429.6" cy="411.2" r="2.2"/><circle cx="456.3" cy="331.9" r="2.3"/><ellipse cx="262.4" cy="453.8" rx="2.1" ry="2.6"/><ellipse cx="446.5" cy="423.8" rx="2.3" ry="2.8"/><ellipse cx="349.0" cy="274.0" rx="2.8" ry="2.2"/><ellipse cx="289.8" cy="283.1" rx="2.1" ry="2.5"/><ellipse cx="359.3" cy="418.0" rx="2.3" ry="2.1"/><circle cx="299.0" cy="306.9" r="2.3"/><circle cx="430.7" cy="361.8" r="2.6"/><circle cx="448.0" cy="447.1" r="2.5"/><ellipse cx="318.1" cy="414.5" rx="2.6" ry="2.1"/><ellipse cx="469.0" cy="453.7" rx="2.8" ry="2.3"/><circle cx="447.9" cy="351.0" r="2.3"/><circle cx="366.9" cy="323.0" r="2.2"/><circle cx="451.3" cy="372.6" r="2.4"/><ellipse cx="463.8" cy="402.2" rx="2.2" ry="2.9"/><ellipse cx="271.4" cy="445.3" rx="2.0" ry="2.4"/><ellipse cx="335.1" cy="301.8" rx="2.1" ry="2.3"/><circle cx="423.9" cy="389.0" r="2.5"/><ellipse cx="379.9" cy="398.4" rx="2.6" ry="2.0"/><circle cx="319.8" cy="326.9" r="2.4"/><circle cx="262.0" cy="372.9" r="2.6"/><ellipse cx="451.7" cy="316.8" rx="2.5" ry="2.2"/><circle cx="453.9" cy="436.5" r="2.4"/><ellipse cx="301.5" cy="448.7" rx="2.9" ry="2.3"/><ellipse cx="293.5" cy="393.6" rx="2.0" ry="2.5"/><circle cx="461.3" cy="461.0" r="2.5"/><circle cx="333.0" cy="351.6" r="2.5"/><circle cx="388.5" cy="478.4" r="2.6"/><ellipse cx="380.5" cy="282.5" rx="2.2" ry="2.7"/><ellipse cx="393.8" cy="387.0" rx="2.6" ry="2.3"/><ellipse cx="375.6" cy="461.2" rx="2.6" ry="2.2"/><ellipse cx="375.0" cy="276.9" rx="2.0" ry="2.5"/><ellipse cx="279.4" cy="459.7" rx="2.3" ry="2.6"/><ellipse cx="411.7" cy="378.1" rx="2.3" ry="2.7"/><ellipse cx="448.8" cy="309.7" rx="2.2" ry="2.8"/><ellipse cx="304.5" cy="276.8" rx="2.3" ry="2.8"/><circle cx="274.4" cy="295.0" r="2.2"/><circle cx="402.2" cy="438.4" r="2.5"/><circle cx="316.7" cy="476.3" r="2.3"/><circle cx="274.6" cy="438.8" r="2.2"/><circle cx="365.3" cy="343.4" r="2.2"/><ellipse cx="384.1" cy="467.2" rx="2.7" ry="2.2"/><ellipse cx="316.6" cy="373.6" rx="2.2" ry="2.6"/><ellipse cx="318.1" cy="419.6" rx="2.2" ry="2.4"/><circle cx="452.4" cy="410.0" r="2.3"/><ellipse cx="433.8" cy="356.3" rx="2.3" ry="2.6"/><ellipse cx="429.6" cy="470.0" rx="2.2" ry="2.8"/><circle cx="381.8" cy="423.3" r="2.4"/><ellipse cx="431.0" cy="450.2" rx="2.5" ry="2.1"/><ellipse cx="291.3" cy="322.2" rx="2.1" ry="2.4"/><circle cx="347.0" cy="295.4" r="2.3"/><circle cx="436.3" cy="414.6" r="2.4"/><ellipse cx="394.2" cy="430.2" rx="2.4" ry="2.6"/><circle cx="464.7" cy="475.6" r="2.6"/><ellipse cx="407.6" cy="336.3" rx="2.8" ry="2.3"/><circle cx="274.6" cy="303.2" r="2.6"/><ellipse cx="456.8" cy="305.5" rx="2.1" ry="2.6"/><circle cx="271.8" cy="464.4" r="2.6"/><ellipse cx="420.9" cy="416.0" rx="2.1" ry="2.5"/><ellipse cx="266.3" cy="346.9" rx="2.0" ry="2.7"/><ellipse cx="309.8" cy="343.4" rx="2.2" ry="2.8"/><ellipse cx="371.1" cy="331.5" rx="2.7" ry="2.3"/><ellipse cx="433.1" cy="272.0" rx="2.1" ry="2.7"/><ellipse cx="296.5" cy="320.3" rx="2.8" ry="2.5"/><ellipse cx="406.6" cy="474.7" rx="1.9" ry="2.5"/><ellipse cx="445.3" cy="443.3" rx="2.3" ry="2.9"/><circle cx="457.3" cy="384.8" r="2.6"/><ellipse cx="300.1" cy="326.1" rx="2.4" ry="2.0"/><ellipse cx="353.4" cy="363.7" rx="2.2" ry="2.8"/><ellipse cx="329.5" cy="281.8" rx="2.0" ry="2.6"/><ellipse cx="351.4" cy="369.3" rx="2.3" ry="2.7"/><circle cx="432.9" cy="294.4" r="2.4"/><ellipse cx="425.8" cy="476.0" rx="2.7" ry="2.5"/><ellipse cx="310.3" cy="335.7" rx="2.8" ry="2.2"/><circle cx="329.1" cy="390.7" r="2.2"/><ellipse cx="306.4" cy="370.0" rx="3.0" ry="2.3"/><ellipse cx="452.2" cy="307.0" rx="2.2" ry="2.9"/><ellipse cx="316.0" cy="441.6" rx="2.4" ry="2.0"/><circle cx="466.8" cy="357.3" r="2.2"/><ellipse cx="378.4" cy="363.0" rx="2.2" ry="2.5"/><ellipse cx="307.5" cy="348.4" rx="2.7" ry="2.4"/><ellipse cx="349.5" cy="322.0" rx="2.4" ry="2.9"/><circle cx="438.9" cy="437.8" r="2.3"/><circle cx="289.2" cy="389.1" r="2.2"/><circle cx="405.7" cy="453.3" r="2.4"/><ellipse cx="380.8" cy="277.3" rx="2.3" ry="3.0"/><circle cx="302.0" cy="330.6" r="2.6"/><ellipse cx="457.3" cy="325.5" rx="2.0" ry="2.6"/><ellipse cx="280.0" cy="371.4" rx="2.0" ry="2.6"/><ellipse cx="279.4" cy="464.4" rx="2.0" ry="2.5"/><ellipse cx="372.4" cy="411.0" rx="2.3" ry="2.7"/><ellipse cx="359.0" cy="465.3" rx="2.1" ry="2.5"/><ellipse cx="271.3" cy="323.0" rx="2.2" ry="2.5"/><ellipse cx="262.6" cy="418.7" rx="2.1" ry="2.8"/><ellipse cx="393.8" cy="475.7" rx="2.3" ry="2.7"/><circle cx="313.3" cy="319.7" r="2.3"/><circle cx="296.1" cy="286.6" r="2.4"/><ellipse cx="337.9" cy="273.6" rx="2.7" ry="2.2"/><circle cx="419.9" cy="478.0" r="2.2"/><ellipse cx="452.7" cy="347.8" rx="2.7" ry="2.1"/><ellipse cx="271.3" cy="316.3" rx="2.0" ry="2.5"/><circle cx="323.1" cy="281.9" r="2.6"/><ellipse cx="326.7" cy="342.6" rx="2.4" ry="2.8"/><ellipse cx="281.1" cy="401.8" rx="2.4" ry="2.9"/><circle cx="306.3" cy="449.9" r="2.2"/><ellipse cx="454.9" cy="337.8" rx="2.3" ry="2.7"/><ellipse cx="446.1" cy="315.2" rx="2.7" ry="2.3"/><ellipse cx="369.0" cy="391.8" rx="2.6" ry="2.0"/><circle cx="336.2" cy="424.7" r="2.5"/><ellipse cx="277.7" cy="452.7" rx="2.0" ry="2.6"/><ellipse cx="421.9" cy="454.3" rx="2.5" ry="2.0"/><circle cx="322.6" cy="472.1" r="2.3"/><ellipse cx="410.3" cy="298.0" rx="2.8" ry="2.5"/><circle cx="377.3" cy="384.0" r="2.3"/><circle cx="407.3" cy="382.7" r="2.5"/><ellipse cx="404.4" cy="411.2" rx="2.4" ry="2.0"/><ellipse cx="447.6" cy="393.5" rx="2.1" ry="2.6"/><ellipse cx="310.4" cy="359.0" rx="2.8" ry="2.3"/><ellipse cx="352.4" cy="422.7" rx="2.8" ry="2.4"/><circle cx="305.2" cy="434.7" r="2.2"/><circle cx="319.0" cy="301.2" r="2.1"/><circle cx="316.7" cy="390.5" r="2.1"/><ellipse cx="289.6" cy="424.4" rx="1.8" ry="2.1"/><circle cx="402.4" cy="369.0" r="1.9"/><ellipse cx="405.5" cy="356.0" rx="1.8" ry="2.4"/><circle cx="398.5" cy="276.2" r="1.9"/><ellipse cx="468.1" cy="375.6" rx="1.9" ry="1.7"/><circle cx="382.7" cy="362.4" r="2.0"/><circle cx="406.1" cy="375.4" r="2.0"/><ellipse cx="380.1" cy="386.4" rx="1.8" ry="2.3"/><circle cx="291.8" cy="362.9" r="1.9"/><ellipse cx="451.3" cy="394.9" rx="2.2" ry="1.9"/><ellipse cx="294.5" cy="336.0" rx="2.3" ry="2.0"/><ellipse cx="275.1" cy="404.0" rx="1.8" ry="2.3"/><circle cx="419.9" cy="322.7" r="2.1"/><ellipse cx="366.1" cy="276.8" rx="1.9" ry="2.3"/><circle cx="330.0" cy="336.7" r="1.8"/><ellipse cx="271.8" cy="415.3" rx="2.3" ry="1.9"/><ellipse cx="351.0" cy="355.7" rx="1.7" ry="2.2"/><ellipse cx="383.1" cy="417.8" rx="1.9" ry="2.3"/><ellipse cx="420.4" cy="467.0" rx="1.7" ry="2.3"/><ellipse cx="377.6" cy="279.6" rx="2.2" ry="1.9"/><ellipse cx="390.7" cy="332.8" rx="2.2" ry="1.7"/><ellipse cx="438.4" cy="299.5" rx="2.2" ry="1.9"/><ellipse cx="384.8" cy="425.7" rx="1.7" ry="2.0"/><circle cx="451.1" cy="427.3" r="2.1"/><ellipse cx="430.1" cy="441.3" rx="1.7" ry="2.1"/><ellipse cx="328.3" cy="371.1" rx="1.7" ry="2.0"/><ellipse cx="322.8" cy="354.8" rx="1.6" ry="2.1"/><ellipse cx="396.1" cy="345.0" rx="1.8" ry="2.0"/><circle cx="281.9" cy="361.1" r="2.1"/><ellipse cx="467.3" cy="354.0" rx="2.1" ry="1.8"/><ellipse cx="317.4" cy="427.6" rx="2.0" ry="2.3"/><ellipse cx="465.9" cy="290.7" rx="1.7" ry="2.3"/><circle cx="298.4" cy="300.2" r="2.1"/><circle cx="395.7" cy="363.2" r="2.2"/><ellipse cx="361.3" cy="365.7" rx="2.1" ry="1.8"/><circle cx="370.5" cy="465.8" r="2.1"/><circle cx="405.9" cy="323.6" r="1.9"/><ellipse cx="368.6" cy="425.6" rx="2.2" ry="1.8"/><circle cx="377.4" cy="373.0" r="2.0"/><ellipse cx="371.6" cy="371.4" rx="2.0" ry="1.7"/><ellipse cx="367.4" cy="355.3" rx="2.0" ry="1.7"/><circle cx="416.5" cy="321.2" r="2.1"/><ellipse cx="308.7" cy="394.5" rx="1.8" ry="2.4"/><circle cx="405.3" cy="303.1" r="2.1"/><ellipse cx="313.7" cy="273.3" rx="1.8" ry="2.4"/><circle cx="311.1" cy="390.4" r="2.1"/><ellipse cx="319.8" cy="379.1" rx="2.0" ry="1.6"/><ellipse cx="271.5" cy="454.6" rx="1.8" ry="2.1"/><ellipse cx="469.0" cy="331.8" rx="2.0" ry="1.7"/><ellipse cx="345.8" cy="435.7" rx="2.4" ry="1.9"/><ellipse cx="316.0" cy="334.8" rx="2.2" ry="1.7"/><ellipse cx="374.5" cy="470.7" rx="2.4" ry="2.0"/><ellipse cx="347.2" cy="360.5" rx="2.1" ry="2.3"/><ellipse cx="359.3" cy="436.5" rx="1.7" ry="2.0"/><ellipse cx="386.2" cy="289.7" rx="2.1" ry="1.7"/><circle cx="308.7" cy="426.2" r="2.1"/><ellipse cx="408.3" cy="278.3" rx="1.8" ry="2.1"/><ellipse cx="423.8" cy="341.7" rx="1.7" ry="2.0"/><ellipse cx="281.8" cy="302.3" rx="2.1" ry="1.9"/><ellipse cx="339.7" cy="360.3" rx="1.7" ry="2.1"/><ellipse cx="417.6" cy="473.2" rx="2.0" ry="2.3"/><circle cx="321.0" cy="374.7" r="2.0"/><ellipse cx="345.6" cy="439.9" rx="2.1" ry="1.7"/><circle cx="261.3" cy="391.8" r="2.0"/><circle cx="372.7" cy="379.8" r="2.2"/><ellipse cx="354.1" cy="439.2" rx="2.0" ry="1.7"/><ellipse cx="400.8" cy="399.7" rx="2.2" ry="1.9"/><ellipse cx="423.9" cy="465.1" rx="1.9" ry="2.3"/><ellipse cx="310.6" cy="387.0" rx="1.6" ry="2.1"/><ellipse cx="394.7" cy="370.0" rx="1.8" ry="2.3"/><ellipse cx="323.7" cy="398.3" rx="2.0" ry="1.8"/><ellipse cx="344.6" cy="341.7" rx="2.0" ry="1.7"/><circle cx="363.1" cy="315.6" r="1.8"/><ellipse cx="300.1" cy="453.6" rx="2.1" ry="1.6"/><ellipse cx="265.8" cy="413.6" rx="2.3" ry="1.9"/><circle cx="272.4" cy="346.8" r="2.0"/><circle cx="302.9" cy="428.4" r="1.9"/><circle cx="305.4" cy="376.9" r="2.0"/><circle cx="398.1" cy="307.1" r="1.8"/><circle cx="341.3" cy="311.9" r="1.8"/><ellipse cx="442.3" cy="302.3" rx="2.0" ry="1.7"/><ellipse cx="358.4" cy="397.0" rx="1.7" ry="2.2"/><ellipse cx="332.0" cy="410.4" rx="1.8" ry="2.2"/><ellipse cx="436.1" cy="422.2" rx="1.9" ry="2.5"/><ellipse cx="400.9" cy="420.5" rx="1.8" ry="2.1"/><ellipse cx="435.2" cy="440.5" rx="1.8" ry="2.3"/><ellipse cx="388.4" cy="434.6" rx="2.2" ry="1.8"/><circle cx="388.2" cy="277.4" r="2.0"/><ellipse cx="436.0" cy="345.3" rx="1.7" ry="2.0"/><circle cx="462.4" cy="384.5" r="2.0"/><ellipse cx="271.2" cy="407.7" rx="1.8" ry="2.4"/><ellipse cx="264.0" cy="431.9" rx="2.4" ry="1.9"/><ellipse cx="320.6" cy="319.7" rx="1.6" ry="2.0"/><circle cx="291.4" cy="274.0" r="2.1"/><circle cx="441.6" cy="287.3" r="2.0"/><ellipse cx="394.5" cy="439.4" rx="1.7" ry="2.0"/><ellipse cx="268.4" cy="392.6" rx="2.2" ry="1.7"/><ellipse cx="467.8" cy="419.3" rx="2.2" ry="2.0"/><ellipse cx="357.2" cy="371.6" rx="2.3" ry="2.0"/><ellipse cx="434.5" cy="288.3" rx="1.9" ry="2.1"/><ellipse cx="271.9" cy="394.3" rx="2.2" ry="1.8"/><ellipse cx="364.3" cy="325.4" rx="2.0" ry="2.4"/><circle cx="391.6" cy="287.8" r="2.2"/><ellipse cx="403.5" cy="414.9" rx="1.8" ry="2.3"/><circle cx="380.7" cy="445.5" r="2.1"/><circle cx="298.8" cy="372.7" r="2.2"/><ellipse cx="429.6" cy="407.5" rx="2.1" ry="1.7"/><circle cx="440.9" cy="446.1" r="1.8"/><ellipse cx="294.3" cy="372.5" rx="2.0" ry="2.4"/><ellipse cx="388.0" cy="285.9" rx="1.9" ry="2.4"/><circle cx="393.9" cy="323.5" r="2.0"/><ellipse cx="437.5" cy="285.4" rx="2.3" ry="1.8"/><ellipse cx="315.9" cy="461.8" rx="2.4" ry="2.0"/><circle cx="385.6" cy="421.8" r="2.0"/><ellipse cx="333.9" cy="416.6" rx="1.6" ry="2.1"/><circle cx="268.2" cy="385.2" r="2.2"/><ellipse cx="290.6" cy="356.2" rx="2.2" ry="1.8"/><circle cx="339.3" cy="351.1" r="2.0"/><ellipse cx="280.5" cy="295.6" rx="1.7" ry="2.2"/><ellipse cx="440.3" cy="343.6" rx="1.9" ry="2.4"/><circle cx="286.4" cy="305.3" r="2.2"/><ellipse cx="448.7" cy="273.6" rx="1.8" ry="2.2"/><ellipse cx="443.6" cy="340.3" rx="1.9" ry="2.2"/><ellipse cx="372.4" cy="272.1" rx="1.9" ry="2.4"/><circle cx="399.2" cy="476.9" r="2.1"/><circle cx="302.4" cy="444.3" r="2.1"/><ellipse cx="421.0" cy="440.9" rx="1.7" ry="2.0"/><ellipse cx="431.5" cy="460.6" rx="2.4" ry="1.8"/><ellipse cx="321.6" cy="350.8" rx="1.9" ry="2.5"/><ellipse cx="289.0" cy="359.9" rx="2.2" ry="1.8"/><circle cx="402.3" cy="273.0" r="2.0"/><circle cx="395.2" cy="278.5" r="1.9"/><ellipse cx="452.6" cy="467.5" rx="2.1" ry="1.6"/><ellipse cx="415.5" cy="367.6" rx="2.0" ry="2.4"/><circle cx="455.6" cy="283.2" r="2.1"/><ellipse cx="284.9" cy="443.9" rx="1.9" ry="2.2"/><ellipse cx="276.2" cy="279.7" rx="2.0" ry="1.7"/><ellipse cx="306.7" cy="423.3" rx="2.0" ry="2.4"/><ellipse cx="357.6" cy="330.0" rx="1.7" ry="1.9"/><circle cx="342.5" cy="339.2" r="2.0"/><circle cx="384.8" cy="412.8" r="2.1"/><ellipse cx="303.0" cy="420.5" rx="2.1" ry="1.6"/><ellipse cx="413.6" cy="454.3" rx="1.7" ry="2.2"/><ellipse cx="351.7" cy="338.5" rx="2.0" ry="2.3"/><ellipse cx="434.2" cy="319.9" rx="1.6" ry="2.0"/><circle cx="303.8" cy="383.1" r="1.9"/><ellipse cx="341.4" cy="471.0" rx="1.8" ry="2.1"/><ellipse cx="410.8" cy="425.6" rx="2.0" ry="2.3"/><ellipse cx="268.9" cy="449.9" rx="1.9" ry="2.3"/><circle cx="282.5" cy="440.6" r="2.0"/><ellipse cx="268.9" cy="459.7" rx="1.9" ry="2.3"/><ellipse cx="460.1" cy="281.1" rx="1.8" ry="2.0"/><circle cx="368.4" cy="430.9" r="1.8"/><circle cx="372.1" cy="320.6" r="2.0"/><ellipse cx="434.5" cy="337.9" rx="2.0" ry="1.7"/><ellipse cx="395.7" cy="330.0" rx="2.0" ry="1.8"/><ellipse cx="327.5" cy="477.5" rx="2.2" ry="1.8"/><circle cx="299.6" cy="386.4" r="2.0"/><ellipse cx="351.7" cy="476.8" rx="1.7" ry="2.1"/><ellipse cx="308.7" cy="437.4" rx="1.7" ry="2.2"/><ellipse cx="309.7" cy="282.9" rx="2.2" ry="1.7"/><ellipse cx="265.1" cy="304.6" rx="1.7" ry="2.0"/><circle cx="388.2" cy="387.8" r="1.9"/><ellipse cx="419.4" cy="284.6" rx="2.2" ry="1.7"/><ellipse cx="335.8" cy="296.3" rx="1.8" ry="2.4"/><ellipse cx="319.3" cy="449.9" rx="1.8" ry="2.3"/><ellipse cx="323.1" cy="324.9" rx="1.7" ry="2.3"/><ellipse cx="404.0" cy="307.2" rx="2.4" ry="1.9"/><circle cx="461.7" cy="271.5" r="2.1"/><ellipse cx="289.3" cy="330.7" rx="1.6" ry="2.1"/><ellipse cx="393.4" cy="360.1" rx="1.7" ry="2.2"/><ellipse cx="446.9" cy="341.6" rx="2.4" ry="2.0"/><ellipse cx="399.5" cy="450.5" rx="1.6" ry="2.1"/><circle cx="324.1" cy="291.7" r="2.2"/><circle cx="361.6" cy="346.0" r="2.1"/><circle cx="452.0" cy="287.9" r="1.9"/><circle cx="454.2" cy="473.6" r="1.8"/><circle cx="450.8" cy="376.4" r="1.9"/><ellipse cx="382.3" cy="294.4" rx="2.2" ry="1.7"/><ellipse cx="427.8" cy="437.6" rx="1.9" ry="2.4"/><circle cx="408.7" cy="394.5" r="2.1"/><circle cx="390.0" cy="465.4" r="2.1"/><ellipse cx="454.5" cy="400.0" rx="2.0" ry="1.6"/><ellipse cx="344.9" cy="431.6" rx="1.8" ry="2.3"/><ellipse cx="359.0" cy="375.0" rx="1.6" ry="2.2"/><ellipse cx="267.8" cy="379.9" rx="1.7" ry="1.9"/><circle cx="322.9" cy="338.6" r="1.9"/><ellipse cx="308.3" cy="430.6" rx="1.6" ry="2.1"/><ellipse cx="272.1" cy="367.7" rx="1.6" ry="2.1"/><ellipse cx="446.4" cy="373.4" rx="1.6" ry="2.1"/><ellipse cx="364.9" cy="366.3" rx="1.9" ry="2.2"/><ellipse cx="406.9" cy="331.4" rx="2.2" ry="1.7"/><circle cx="286.6" cy="420.9" r="2.2"/><ellipse cx="355.1" cy="317.3" rx="2.2" ry="1.8"/><circle cx="466.0" cy="286.6" r="1.9"/><circle cx="439.0" cy="465.5" r="1.9"/><circle cx="365.4" cy="382.7" r="2.1"/><circle cx="345.0" cy="369.4" r="2.1"/><circle cx="332.8" cy="278.3" r="2.2"/><ellipse cx="370.9" cy="428.7" rx="1.9" ry="2.3"/><ellipse cx="343.4" cy="293.6" rx="2.0" ry="2.4"/><ellipse cx="297.7" cy="357.9" rx="2.4" ry="2.0"/><ellipse cx="317.5" cy="405.0" rx="1.6" ry="2.1"/><ellipse cx="433.0" cy="391.1" rx="1.7" ry="2.1"/><circle cx="268.1" cy="278.5" r="2.0"/><ellipse cx="268.3" cy="343.0" rx="2.0" ry="2.4"/><ellipse cx="469.9" cy="289.3" rx="1.9" ry="2.1"/><circle cx="439.9" cy="305.4" r="1.8"/><circle cx="348.6" cy="457.9" r="1.8"/><ellipse cx="441.3" cy="409.8" rx="1.6" ry="2.1"/><ellipse cx="329.2" cy="276.6" rx="1.7" ry="2.0"/><ellipse cx="264.5" cy="389.5" rx="1.9" ry="2.4"/><circle cx="345.7" cy="279.2" r="1.9"/><ellipse cx="382.5" cy="475.1" rx="2.1" ry="1.6"/><ellipse cx="292.1" cy="315.9" rx="1.8" ry="2.3"/><ellipse cx="414.9" cy="419.7" rx="2.0" ry="2.3"/><circle cx="338.6" cy="347.4" r="1.8"/><ellipse cx="444.3" cy="360.4" rx="1.7" ry="2.1"/><ellipse cx="316.5" cy="291.5" rx="1.7" ry="2.3"/><circle cx="412.6" cy="393.3" r="2.0"/><circle cx="316.6" cy="383.7" r="2.1"/><circle cx="468.8" cy="398.3" r="1.9"/><ellipse cx="304.2" cy="478.5" rx="2.3" ry="2.0"/><ellipse cx="406.3" cy="350.4" rx="1.7" ry="2.2"/><ellipse cx="385.8" cy="300.8" rx="1.9" ry="2.2"/><circle cx="345.1" cy="400.7" r="1.8"/><ellipse cx="383.2" cy="311.1" rx="2.2" ry="1.8"/><ellipse cx="423.7" cy="407.2" rx="1.7" ry="2.0"/><circle cx="266.8" cy="370.9" r="2.0"/><ellipse cx="265.7" cy="357.0" rx="1.8" ry="2.3"/><ellipse cx="459.8" cy="295.0" rx="2.0" ry="2.4"/><circle cx="307.2" cy="338.4" r="1.9"/><ellipse cx="269.8" cy="364.4" rx="1.9" ry="2.2"/><ellipse cx="441.5" cy="433.5" rx="2.0" ry="2.2"/><ellipse cx="435.4" cy="433.5" rx="2.4" ry="1.9"/><circle cx="276.1" cy="442.3" r="2.0"/><ellipse cx="438.0" cy="328.7" rx="1.7" ry="1.9"/><ellipse cx="307.6" cy="402.3" rx="2.4" ry="1.9"/><ellipse cx="278.9" cy="359.4" rx="2.0" ry="2.2"/><circle cx="379.8" cy="327.4" r="2.0"/><circle cx="280.3" cy="477.2" r="2.1"/><ellipse cx="456.9" cy="405.6" rx="2.1" ry="1.7"/><circle cx="449.4" cy="362.2" r="2.2"/><circle cx="288.4" cy="301.5" r="2.0"/><ellipse cx="332.7" cy="386.7" rx="2.1" ry="2.3"/><circle cx="402.1" cy="363.7" r="1.9"/><circle cx="364.6" cy="361.1" r="1.8"/><circle cx="448.3" cy="278.9" r="2.1"/><circle cx="382.0" cy="383.4" r="1.9"/><ellipse cx="353.7" cy="406.5" rx="2.4" ry="2.0"/><ellipse cx="356.3" cy="336.1" rx="1.7" ry="2.1"/><ellipse cx="281.1" cy="379.6" rx="1.9" ry="2.2"/><ellipse cx="309.0" cy="313.6" rx="2.0" ry="2.4"/><ellipse cx="452.7" cy="294.9" rx="2.0" ry="1.8"/><circle cx="405.5" cy="362.2" r="1.9"/><circle cx="446.3" cy="293.0" r="2.0"/><ellipse cx="286.3" cy="357.5" rx="1.6" ry="2.1"/><ellipse cx="407.8" cy="347.3" rx="2.2" ry="1.7"/><ellipse cx="388.5" cy="376.1" rx="2.0" ry="1.7"/><circle cx="399.7" cy="353.9" r="1.9"/><circle cx="321.2" cy="415.9" r="1.9"/><ellipse cx="426.8" cy="364.2" rx="1.7" ry="2.0"/><ellipse cx="405.4" cy="458.6" rx="1.8" ry="2.2"/><circle cx="371.3" cy="447.4" r="2.0"/><circle cx="302.2" cy="390.9" r="2.1"/><circle cx="271.4" cy="399.9" r="1.8"/><ellipse cx="363.7" cy="374.4" rx="1.9" ry="2.4"/><ellipse cx="320.6" cy="437.4" rx="1.7" ry="2.1"/><circle cx="460.2" cy="396.5" r="1.8"/><ellipse cx="282.0" cy="344.7" rx="1.9" ry="2.3"/><ellipse cx="454.2" cy="312.5" rx="2.1" ry="1.8"/><ellipse cx="308.6" cy="278.4" rx="2.3" ry="2.0"/><ellipse cx="390.6" cy="315.7" rx="1.7" ry="2.1"/><circle cx="336.4" cy="364.5" r="1.8"/><ellipse cx="313.4" cy="427.4" rx="1.9" ry="2.2"/><ellipse cx="398.4" cy="348.5" rx="1.9" ry="2.3"/><ellipse cx="407.4" cy="389.0" rx="1.9" ry="2.4"/><ellipse cx="413.4" cy="431.4" rx="1.6" ry="2.1"/><ellipse cx="458.5" cy="450.3" rx="2.4" ry="1.8"/><circle cx="454.8" cy="440.0" r="1.8"/><ellipse cx="351.5" cy="360.0" rx="2.3" ry="2.0"/><ellipse cx="455.8" cy="320.9" rx="2.3" ry="1.7"/><ellipse cx="277.5" cy="272.9" rx="1.7" ry="2.2"/><circle cx="436.2" cy="315.1" r="1.8"/><ellipse cx="450.7" cy="383.6" rx="2.1" ry="1.7"/><circle cx="399.8" cy="464.9" r="1.9"/><ellipse cx="366.4" cy="399.0" rx="1.8" ry="2.3"/><ellipse cx="409.7" cy="439.3" rx="1.8" ry="2.1"/><circle cx="308.8" cy="303.8" r="1.8"/><circle cx="419.0" cy="397.4" r="2.1"/><ellipse cx="425.1" cy="392.7" rx="1.8" ry="2.2"/><ellipse cx="422.1" cy="422.2" rx="2.3" ry="1.8"/><ellipse cx="347.2" cy="475.3" rx="2.0" ry="1.8"/><ellipse cx="418.1" cy="455.1" rx="2.2" ry="2.0"/><circle cx="288.0" cy="404.0" r="2.0"/><circle cx="356.7" cy="271.4" r="2.1"/><ellipse cx="370.4" cy="470.7" rx="1.8" ry="2.1"/><circle cx="339.9" cy="331.0" r="2.0"/><circle cx="320.7" cy="476.7" r="2.1"/><circle cx="292.1" cy="456.6" r="2.2"/><circle cx="323.0" cy="285.8" r="1.8"/><ellipse cx="397.1" cy="374.4" rx="1.7" ry="2.3"/><circle cx="426.1" cy="352.3" r="1.9"/><ellipse cx="303.5" cy="357.7" rx="1.8" ry="2.3"/><circle cx="321.7" cy="302.9" r="1.8"/><ellipse cx="295.2" cy="387.8" rx="1.8" ry="2.3"/><ellipse cx="276.2" cy="298.5" rx="1.6" ry="2.1"/><circle cx="445.7" cy="409.6" r="1.8"/><ellipse cx="319.1" cy="393.4" rx="2.3" ry="2.1"/><ellipse cx="418.2" cy="271.2" rx="1.6" ry="2.1"/><circle cx="361.2" cy="361.0" r="2.1"/><ellipse cx="273.4" cy="284.8" rx="1.9" ry="2.4"/><circle cx="436.4" cy="371.5" r="1.9"/><ellipse cx="265.5" cy="408.2" rx="2.3" ry="1.8"/><ellipse cx="329.5" cy="465.7" rx="1.9" ry="2.3"/><ellipse cx="377.1" cy="314.0" rx="1.9" ry="2.1"/><circle cx="441.2" cy="413.7" r="1.9"/><circle cx="321.9" cy="429.7" r="2.0"/><ellipse cx="266.0" cy="476.1" rx="2.1" ry="1.6"/><ellipse cx="373.1" cy="456.0" rx="1.9" ry="1.7"/><ellipse cx="468.5" cy="449.9" rx="2.1" ry="1.7"/><ellipse cx="410.7" cy="319.2" rx="2.0" ry="2.3"/><ellipse cx="355.8" cy="366.8" rx="2.1" ry="1.9"/><circle cx="318.0" cy="321.3" r="1.8"/><circle cx="278.2" cy="314.5" r="2.2"/><ellipse cx="359.3" cy="298.7" rx="2.4" ry="1.9"/><ellipse cx="452.7" cy="334.3" rx="2.4" ry="1.9"/><circle cx="286.9" cy="346.2" r="2.0"/><ellipse cx="311.1" cy="291.8" rx="1.9" ry="2.5"/><ellipse cx="274.4" cy="371.0" rx="1.9" ry="2.2"/><circle cx="469.0" cy="303.1" r="2.2"/><ellipse cx="315.9" cy="400.6" rx="2.3" ry="1.9"/><ellipse cx="430.6" cy="372.2" rx="1.9" ry="2.4"/><circle cx="384.2" cy="336.4" r="1.8"/><circle cx="461.2" cy="426.4" r="1.8"/><circle cx="269.7" cy="271.7" r="2.0"/><ellipse cx="376.6" cy="326.8" rx="1.8" ry="2.2"/><circle cx="297.4" cy="474.8" r="2.1"/><ellipse cx="385.1" cy="381.0" rx="1.7" ry="2.0"/><ellipse cx="285.9" cy="336.3" rx="2.2" ry="1.8"/><circle cx="439.7" cy="471.3" r="2.2"/><ellipse cx="451.4" cy="422.9" rx="2.0" ry="1.8"/><circle cx="285.1" cy="398.7" r="1.8"/><circle cx="328.0" cy="386.8" r="2.0"/><ellipse cx="415.4" cy="290.5" rx="1.9" ry="2.5"/><ellipse cx="444.4" cy="356.3" rx="1.7" ry="2.2"/><ellipse cx="463.4" cy="452.2" rx="1.9" ry="2.4"/><circle cx="336.2" cy="288.2" r="1.8"/><ellipse cx="435.3" cy="279.6" rx="2.4" ry="2.0"/><circle cx="348.8" cy="418.1" r="2.2"/><ellipse cx="430.7" cy="332.2" rx="2.0" ry="2.3"/><circle cx="431.6" cy="378.1" r="2.0"/><ellipse cx="347.2" cy="373.2" rx="2.0" ry="2.3"/><ellipse cx="353.7" cy="472.9" rx="1.9" ry="2.3"/><circle cx="467.9" cy="279.9" r="1.9"/><ellipse cx="306.8" cy="360.9" rx="1.9" ry="2.2"/><ellipse cx="272.1" cy="338.5" rx="2.2" ry="1.6"/><circle cx="380.3" cy="416.2" r="1.9"/><ellipse cx="436.6" cy="408.0" rx="2.4" ry="2.0"/><ellipse cx="421.8" cy="328.7" rx="1.9" ry="2.5"/><ellipse cx="323.0" cy="452.6" rx="2.3" ry="1.7"/><ellipse cx="453.6" cy="352.8" rx="1.8" ry="2.2"/><ellipse cx="366.3" cy="434.8" rx="2.0" ry="2.3"/><ellipse cx="327.1" cy="313.8" rx="2.2" ry="1.8"/><ellipse cx="380.3" cy="461.6" rx="1.8" ry="2.3"/><ellipse cx="465.2" cy="457.6" rx="1.9" ry="2.3"/><circle cx="466.0" cy="371.4" r="2.2"/><ellipse cx="465.7" cy="331.6" rx="1.7" ry="2.0"/><ellipse cx="344.7" cy="322.7" rx="1.9" ry="2.4"/><ellipse cx="267.4" cy="463.8" rx="1.7" ry="2.1"/><circle cx="302.6" cy="309.0" r="2.1"/><circle cx="353.5" cy="386.0" r="2.1"/><ellipse cx="398.9" cy="470.6" rx="1.6" ry="2.1"/><ellipse cx="468.7" cy="272.1" rx="1.8" ry="2.1"/><ellipse cx="390.2" cy="273.9" rx="1.9" ry="2.4"/><ellipse cx="415.2" cy="437.5" rx="2.3" ry="1.8"/><circle cx="431.1" cy="388.0" r="2.1"/><circle cx="306.9" cy="397.6" r="1.9"/><ellipse cx="443.0" cy="387.1" rx="1.8" ry="2.2"/><ellipse cx="445.7" cy="366.9" rx="1.9" ry="2.5"/><ellipse cx="287.9" cy="458.1" rx="1.7" ry="2.2"/><circle cx="335.2" cy="329.1" r="1.8"/><ellipse cx="440.5" cy="365.5" rx="1.7" ry="2.0"/><circle cx="429.3" cy="310.0" r="2.2"/><ellipse cx="438.3" cy="441.6" rx="1.9" ry="2.2"/><ellipse cx="340.5" cy="279.7" rx="2.2" ry="1.6"/><circle cx="391.4" cy="343.5" r="2.2"/><circle cx="408.3" cy="464.0" r="1.9"/><circle cx="309.6" cy="443.4" r="2.0"/><ellipse cx="296.8" cy="347.0" rx="2.5" ry="1.9"/><circle cx="337.2" cy="278.7" r="2.1"/><circle cx="288.9" cy="296.6" r="1.8"/><circle cx="373.1" cy="317.5" r="2.0"/><ellipse cx="264.6" cy="276.2" rx="1.7" ry="2.1"/><ellipse cx="318.0" cy="470.5" rx="2.2" ry="1.7"/><ellipse cx="437.6" cy="353.9" rx="1.9" ry="2.4"/><ellipse cx="372.1" cy="313.3" rx="2.1" ry="1.8"/><circle cx="268.9" cy="310.5" r="2.0"/><circle cx="278.9" cy="284.1" r="2.0"/><circle cx="349.1" cy="292.8" r="1.8"/><ellipse cx="370.1" cy="437.9" rx="2.3" ry="1.9"/><ellipse cx="398.4" cy="285.3" rx="2.0" ry="2.2"/><ellipse cx="282.7" cy="474.3" rx="1.7" ry="2.1"/><ellipse cx="355.9" cy="423.8" rx="1.9" ry="2.2"/><ellipse cx="295.3" cy="360.5" rx="2.2" ry="1.9"/><circle cx="313.6" cy="455.0" r="1.9"/><ellipse cx="349.7" cy="365.6" rx="1.9" ry="2.1"/><circle cx="298.9" cy="428.3" r="1.9"/><ellipse cx="290.3" cy="293.2" rx="1.7" ry="2.1"/><ellipse cx="462.4" cy="322.3" rx="2.3" ry="1.8"/><ellipse cx="365.2" cy="351.0" rx="2.5" ry="1.9"/><ellipse cx="463.2" cy="418.3" rx="1.7" ry="2.2"/><circle cx="344.9" cy="456.2" r="1.9"/><ellipse cx="464.7" cy="421.1" rx="1.8" ry="2.1"/><circle cx="376.4" cy="308.5" r="1.9"/><circle cx="421.9" cy="458.0" r="2.1"/><ellipse cx="377.3" cy="455.4" rx="1.7" ry="2.3"/><ellipse cx="354.2" cy="402.9" rx="1.8" ry="1.4"/><ellipse cx="379.3" cy="420.8" rx="1.6" ry="1.8"/><ellipse cx="404.0" cy="282.5" rx="1.4" ry="1.8"/><ellipse cx="466.2" cy="413.3" rx="1.6" ry="1.9"/><circle cx="402.2" cy="302.2" r="1.5"/><ellipse cx="349.0" cy="376.0" rx="1.4" ry="1.6"/><ellipse cx="316.1" cy="411.4" rx="1.5" ry="1.9"/><circle cx="338.4" cy="458.2" r="1.7"/><circle cx="309.2" cy="384.5" r="1.7"/><ellipse cx="354.5" cy="345.7" rx="1.9" ry="1.5"/><circle cx="311.8" cy="411.7" r="1.7"/><ellipse cx="340.2" cy="424.9" rx="1.9" ry="1.5"/><ellipse cx="261.5" cy="277.6" rx="1.4" ry="1.8"/><ellipse cx="427.4" cy="369.4" rx="1.7" ry="1.5"/><ellipse cx="452.5" cy="324.0" rx="1.7" ry="1.5"/><circle cx="360.2" cy="452.0" r="1.5"/><ellipse cx="398.3" cy="310.4" rx="1.8" ry="1.3"/><circle cx="430.2" cy="319.3" r="1.6"/><circle cx="326.3" cy="335.1" r="1.5"/><circle cx="278.6" cy="381.2" r="1.5"/><ellipse cx="344.7" cy="303.3" rx="1.5" ry="1.7"/><circle cx="445.5" cy="453.5" r="1.5"/><ellipse cx="415.3" cy="478.0" rx="1.5" ry="1.8"/><ellipse cx="324.1" cy="449.6" rx="1.8" ry="1.6"/><ellipse cx="384.9" cy="307.3" rx="1.3" ry="1.7"/><ellipse cx="365.5" cy="467.9" rx="1.8" ry="1.4"/><ellipse cx="377.1" cy="441.4" rx="1.8" ry="1.4"/><ellipse cx="277.0" cy="325.2" rx="1.6" ry="1.9"/><ellipse cx="265.4" cy="450.5" rx="1.6" ry="1.8"/><ellipse cx="309.1" cy="364.2" rx="1.8" ry="1.6"/><ellipse cx="453.8" cy="405.8" rx="1.6" ry="1.4"/><circle cx="426.8" cy="423.2" r="1.8"/><circle cx="334.8" cy="282.3" r="1.6"/><ellipse cx="325.3" cy="311.6" rx="1.8" ry="1.3"/><ellipse cx="320.1" cy="382.5" rx="1.5" ry="1.7"/><ellipse cx="445.4" cy="337.5" rx="1.6" ry="1.8"/><circle cx="327.7" cy="355.1" r="1.5"/><circle cx="456.9" cy="462.7" r="1.6"/><circle cx="403.5" cy="394.8" r="1.7"/><ellipse cx="356.2" cy="309.5" rx="1.4" ry="1.6"/><ellipse cx="325.7" cy="279.8" rx="1.3" ry="1.7"/><ellipse cx="336.8" cy="468.5" rx="1.9" ry="1.5"/><ellipse cx="337.4" cy="411.5" rx="1.4" ry="1.6"/><ellipse cx="456.8" cy="315.3" rx="1.6" ry="1.3"/><ellipse cx="468.4" cy="458.9" rx="1.6" ry="1.4"/><ellipse cx="460.7" cy="404.3" rx="1.5" ry="1.7"/><ellipse cx="273.2" cy="380.1" rx="1.3" ry="1.8"/><ellipse cx="426.6" cy="293.9" rx="1.4" ry="1.6"/><ellipse cx="450.8" cy="386.9" rx="1.5" ry="1.8"/><ellipse cx="269.2" cy="439.0" rx="1.3" ry="1.6"/><circle cx="294.7" cy="453.4" r="1.7"/><circle cx="269.8" cy="468.9" r="1.7"/><circle cx="453.0" cy="452.5" r="1.5"/><ellipse cx="340.3" cy="293.3" rx="1.4" ry="1.8"/><ellipse cx="270.5" cy="276.6" rx="1.5" ry="2.0"/><ellipse cx="424.8" cy="459.6" rx="1.7" ry="1.5"/><ellipse cx="401.7" cy="284.9" rx="1.5" ry="1.7"/><ellipse cx="330.9" cy="342.2" rx="1.4" ry="1.8"/><ellipse cx="299.0" cy="410.6" rx="1.6" ry="1.9"/><circle cx="378.1" cy="451.2" r="1.7"/><ellipse cx="406.8" cy="445.8" rx="1.8" ry="1.3"/><ellipse cx="359.5" cy="353.0" rx="1.4" ry="1.9"/><ellipse cx="276.8" cy="317.4" rx="1.9" ry="1.6"/><ellipse cx="410.1" cy="328.6" rx="1.3" ry="1.7"/><ellipse cx="330.2" cy="424.5" rx="1.6" ry="1.4"/><circle cx="376.7" cy="350.6" r="1.6"/><ellipse cx="284.1" cy="436.2" rx="2.0" ry="1.5"/><circle cx="448.1" cy="418.1" r="1.7"/><ellipse cx="454.3" cy="382.3" rx="1.4" ry="1.6"/><ellipse cx="278.3" cy="437.6" rx="1.4" ry="1.7"/><ellipse cx="365.3" cy="474.3" rx="1.6" ry="1.4"/><circle cx="403.7" cy="352.1" r="1.7"/><ellipse cx="321.9" cy="444.0" rx="1.3" ry="1.7"/><circle cx="351.6" cy="278.2" r="1.7"/><ellipse cx="379.6" cy="356.4" rx="1.7" ry="1.5"/><ellipse cx="360.6" cy="287.1" rx="1.7" ry="1.5"/><ellipse cx="421.0" cy="425.0" rx="1.6" ry="1.4"/><ellipse cx="430.9" cy="336.0" rx="1.9" ry="1.5"/><ellipse cx="412.7" cy="442.1" rx="1.9" ry="1.6"/><circle cx="455.9" cy="349.1" r="1.6"/><circle cx="268.2" cy="324.4" r="1.5"/><ellipse cx="336.5" cy="315.9" rx="1.3" ry="1.6"/><ellipse cx="343.9" cy="448.1" rx="1.4" ry="1.8"/><circle cx="341.5" cy="301.6" r="1.6"/><ellipse cx="417.5" cy="347.9" rx="1.8" ry="1.6"/><ellipse cx="415.9" cy="428.4" rx="1.4" ry="1.8"/><ellipse cx="427.6" cy="321.3" rx="1.6" ry="1.9"/><circle cx="283.2" cy="450.6" r="1.7"/><circle cx="371.7" cy="403.3" r="1.5"/><circle cx="416.8" cy="282.5" r="1.5"/><ellipse cx="344.8" cy="404.0" rx="1.5" ry="1.8"/><circle cx="330.2" cy="456.5" r="1.5"/><ellipse cx="428.9" cy="447.5" rx="2.0" ry="1.5"/><ellipse cx="297.0" cy="393.8" rx="1.4" ry="1.9"/><ellipse cx="356.9" cy="352.5" rx="1.5" ry="1.7"/><ellipse cx="396.2" cy="339.6" rx="1.5" ry="1.8"/><circle cx="423.6" cy="367.4" r="1.6"/><ellipse cx="270.2" cy="478.3" rx="1.5" ry="1.9"/><circle cx="278.4" cy="362.2" r="1.5"/><ellipse cx="431.1" cy="381.5" rx="1.9" ry="1.6"/><ellipse cx="448.4" cy="406.7" rx="1.6" ry="1.4"/><circle cx="461.8" cy="388.0" r="1.7"/><ellipse cx="336.1" cy="455.4" rx="1.9" ry="1.5"/><circle cx="295.4" cy="449.5" r="1.6"/><ellipse cx="459.9" cy="466.0" rx="1.4" ry="1.8"/><ellipse cx="385.3" cy="297.5" rx="1.6" ry="1.4"/><circle cx="467.9" cy="434.3" r="1.6"/><ellipse cx="422.5" cy="319.8" rx="1.3" ry="1.7"/><ellipse cx="388.7" cy="411.6" rx="1.5" ry="1.9"/><circle cx="408.4" cy="372.8" r="1.6"/><ellipse cx="389.6" cy="430.8" rx="1.4" ry="1.6"/><ellipse cx="281.5" cy="470.4" rx="1.3" ry="1.7"/><circle cx="348.3" cy="431.6" r="1.5"/><ellipse cx="453.7" cy="364.1" rx="1.4" ry="1.7"/><circle cx="331.9" cy="392.2" r="1.7"/><ellipse cx="267.4" cy="290.9" rx="1.6" ry="1.9"/><circle cx="442.4" cy="352.7" r="1.5"/><ellipse cx="371.2" cy="399.6" rx="1.9" ry="1.4"/><ellipse cx="396.9" cy="317.9" rx="1.6" ry="1.3"/><circle cx="345.9" cy="445.9" r="1.5"/><circle cx="423.0" cy="446.6" r="1.5"/><ellipse cx="367.6" cy="401.6" rx="1.4" ry="1.6"/><circle cx="444.4" cy="478.0" r="1.6"/><ellipse cx="356.6" cy="279.9" rx="1.6" ry="1.4"/><ellipse cx="450.3" cy="359.3" rx="1.6" ry="1.4"/><ellipse cx="421.2" cy="451.1" rx="1.4" ry="1.7"/><ellipse cx="394.0" cy="405.1" rx="1.5" ry="1.7"/><ellipse cx="411.6" cy="458.3" rx="1.8" ry="1.5"/><circle cx="276.1" cy="287.6" r="1.6"/><ellipse cx="390.3" cy="355.4" rx="1.4" ry="1.9"/><circle cx="430.1" cy="324.9" r="1.5"/><circle cx="369.7" cy="306.8" r="1.6"/><ellipse cx="278.2" cy="354.1" rx="1.7" ry="1.4"/><ellipse cx="419.5" cy="387.0" rx="2.0" ry="1.6"/><circle cx="296.9" cy="457.7" r="1.7"/><circle cx="310.7" cy="459.5" r="1.7"/><ellipse cx="375.2" cy="345.3" rx="1.6" ry="1.4"/><circle cx="272.0" cy="311.5" r="1.7"/><ellipse cx="407.5" cy="409.8" rx="1.8" ry="1.4"/><ellipse cx="416.8" cy="451.2" rx="1.5" ry="1.9"/><circle cx="397.8" cy="412.9" r="1.5"/><ellipse cx="301.0" cy="407.5" rx="1.7" ry="1.4"/><ellipse cx="420.1" cy="447.2" rx="1.8" ry="1.6"/><circle cx="300.3" cy="380.2" r="1.7"/><ellipse cx="416.0" cy="331.5" rx="1.4" ry="1.7"/><ellipse cx="423.1" cy="313.3" rx="1.4" ry="1.8"/><ellipse cx="291.3" cy="440.8" rx="1.9" ry="1.6"/><ellipse cx="333.2" cy="304.6" rx="1.3" ry="1.6"/><circle cx="266.4" cy="339.8" r="1.6"/><ellipse cx="432.2" cy="367.3" rx="1.6" ry="1.8"/><ellipse cx="441.9" cy="324.8" rx="1.5" ry="1.6"/><ellipse cx="366.8" cy="307.7" rx="1.6" ry="1.7"/><ellipse cx="317.0" cy="275.9" rx="1.3" ry="1.7"/><ellipse cx="363.2" cy="469.2" rx="1.4" ry="1.8"/><circle cx="364.2" cy="282.3" r="1.6"/><circle cx="417.3" cy="377.0" r="1.5"/><circle cx="443.8" cy="333.2" r="1.6"/><ellipse cx="468.8" cy="292.6" rx="1.4" ry="1.6"/><circle cx="286.3" cy="315.6" r="1.6"/><circle cx="300.2" cy="346.5" r="1.7"/><circle cx="307.5" cy="286.7" r="1.7"/><ellipse cx="430.4" cy="394.5" rx="1.6" ry="1.8"/><ellipse cx="283.9" cy="378.6" rx="1.6" ry="1.8"/><circle cx="459.0" cy="347.2" r="1.6"/><ellipse cx="456.2" cy="389.0" rx="1.9" ry="1.5"/><circle cx="297.6" cy="272.0" r="1.6"/><ellipse cx="465.8" cy="340.3" rx="1.4" ry="1.9"/><circle cx="433.8" cy="297.6" r="1.7"/><circle cx="283.8" cy="468.1" r="1.6"/><ellipse cx="308.6" cy="354.7" rx="1.6" ry="1.3"/><ellipse cx="409.6" cy="452.9" rx="1.5" ry="1.9"/><circle cx="303.8" cy="319.2" r="1.6"/><ellipse cx="428.5" cy="329.6" rx="1.7" ry="1.3"/><circle cx="314.6" cy="301.0" r="1.8"/><ellipse cx="349.3" cy="435.7" rx="1.5" ry="1.8"/><ellipse cx="408.1" cy="477.7" rx="1.4" ry="1.8"/><ellipse cx="417.3" cy="296.1" rx="1.4" ry="1.8"/><ellipse cx="404.6" cy="391.6" rx="1.5" ry="1.9"/><circle cx="402.7" cy="447.2" r="1.5"/><ellipse cx="284.9" cy="369.1" rx="1.6" ry="1.3"/><circle cx="346.7" cy="470.9" r="1.5"/><ellipse cx="278.9" cy="407.0" rx="1.4" ry="1.7"/><ellipse cx="399.2" cy="447.3" rx="1.9" ry="1.6"/><circle cx="319.3" cy="442.3" r="1.8"/><ellipse cx="305.3" cy="289.6" rx="1.4" ry="1.6"/><ellipse cx="470.0" cy="426.6" rx="1.6" ry="1.9"/><ellipse cx="469.7" cy="286.4" rx="1.7" ry="1.4"/><ellipse cx="320.1" cy="403.1" rx="1.6" ry="1.4"/><circle cx="411.2" cy="384.0" r="1.5"/><ellipse cx="316.2" cy="344.4" rx="1.9" ry="1.5"/><ellipse cx="391.2" cy="372.4" rx="1.4" ry="1.8"/><ellipse cx="374.8" cy="408.6" rx="1.7" ry="1.3"/><circle cx="402.4" cy="345.6" r="1.7"/><ellipse cx="333.2" cy="299.0" rx="1.4" ry="1.6"/><ellipse cx="434.7" cy="326.7" rx="1.8" ry="1.6"/><circle cx="400.2" cy="375.7" r="1.5"/><circle cx="359.8" cy="393.1" r="1.5"/><ellipse cx="277.7" cy="471.7" rx="1.4" ry="1.6"/><circle cx="456.6" cy="426.0" r="1.6"/><ellipse cx="335.3" cy="441.3" rx="1.9" ry="1.7"/><circle cx="458.1" cy="376.1" r="1.7"/><ellipse cx="379.8" cy="349.8" rx="1.4" ry="1.7"/><ellipse cx="281.8" cy="462.0" rx="1.8" ry="1.5"/><ellipse cx="274.9" cy="410.3" rx="1.5" ry="1.8"/><ellipse cx="401.2" cy="410.4" rx="1.4" ry="1.7"/><ellipse cx="440.3" cy="384.3" rx="1.5" ry="1.8"/><circle cx="267.8" cy="282.4" r="1.5"/><ellipse cx="357.4" cy="427.7" rx="1.4" ry="1.7"/><ellipse cx="393.5" cy="281.5" rx="1.4" ry="1.8"/><ellipse cx="354.0" cy="332.1" rx="1.6" ry="1.3"/><ellipse cx="462.0" cy="278.9" rx="1.6" ry="1.4"/><circle cx="325.2" cy="435.4" r="1.5"/><ellipse cx="395.4" cy="478.7" rx="1.7" ry="1.3"/><ellipse cx="291.6" cy="319.0" rx="1.5" ry="1.8"/><ellipse cx="287.6" cy="439.1" rx="1.4" ry="1.6"/><ellipse cx="296.3" cy="436.8" rx="1.6" ry="1.9"/><ellipse cx="271.6" cy="433.5" rx="1.5" ry="1.8"/><circle cx="344.2" cy="327.1" r="1.7"/><circle cx="356.5" cy="344.0" r="1.6"/><ellipse cx="355.8" cy="299.2" rx="1.3" ry="1.6"/><circle cx="437.0" cy="358.7" r="1.5"/><ellipse cx="462.3" cy="288.4" rx="1.8" ry="1.5"/><ellipse cx="268.4" cy="303.4" rx="1.4" ry="1.6"/><circle cx="304.5" cy="350.5" r="1.7"/><circle cx="393.3" cy="374.4" r="1.6"/><circle cx="382.6" cy="387.9" r="1.5"/><ellipse cx="399.3" cy="370.0" rx="1.6" ry="1.8"/><ellipse cx="320.1" cy="434.4" rx="1.6" ry="1.8"/><circle cx="334.0" cy="363.1" r="1.6"/><ellipse cx="314.1" cy="397.8" rx="1.4" ry="1.8"/><ellipse cx="326.8" cy="300.3" rx="1.9" ry="1.6"/><ellipse cx="458.1" cy="328.8" rx="1.4" ry="1.7"/><ellipse cx="394.0" cy="458.9" rx="1.8" ry="1.5"/><ellipse cx="272.3" cy="458.8" rx="1.8" ry="1.4"/><ellipse cx="294.3" cy="354.1" rx="1.7" ry="1.4"/><ellipse cx="407.0" cy="284.7" rx="1.6" ry="1.4"/><ellipse cx="350.7" cy="414.7" rx="1.5" ry="1.7"/><ellipse cx="468.6" cy="401.8" rx="1.6" ry="1.8"/><ellipse cx="378.3" cy="432.5" rx="1.3" ry="1.7"/><circle cx="446.2" cy="396.7" r="1.5"/><ellipse cx="456.5" cy="290.7" rx="1.5" ry="1.8"/><circle cx="380.1" cy="360.1" r="1.5"/><circle cx="336.2" cy="360.8" r="1.5"/><ellipse cx="391.8" cy="456.1" rx="1.5" ry="1.9"/><ellipse cx="293.8" cy="332.6" rx="1.6" ry="1.8"/><ellipse cx="441.0" cy="391.5" rx="1.7" ry="1.3"/><circle cx="433.9" cy="363.0" r="1.5"/><ellipse cx="341.0" cy="395.9" rx="1.5" ry="1.9"/><circle cx="261.5" cy="344.6" r="1.6"/><ellipse cx="440.3" cy="319.5" rx="1.7" ry="1.9"/><ellipse cx="305.4" cy="431.0" rx="1.4" ry="1.8"/><circle cx="465.8" cy="334.8" r="1.6"/><ellipse cx="365.5" cy="328.6" rx="1.4" ry="1.8"/><ellipse cx="328.7" cy="310.0" rx="1.6" ry="1.9"/><ellipse cx="436.1" cy="448.1" rx="1.6" ry="1.3"/><ellipse cx="312.1" cy="436.8" rx="1.6" ry="1.9"/><circle cx="329.1" cy="366.8" r="1.7"/><ellipse cx="457.4" cy="345.1" rx="1.7" ry="1.5"/><ellipse cx="350.3" cy="315.2" rx="1.4" ry="1.7"/><circle cx="323.5" cy="313.9" r="1.7"/><ellipse cx="329.5" cy="408.7" rx="1.4" ry="1.8"/><ellipse cx="377.4" cy="295.6" rx="1.5" ry="1.8"/><ellipse cx="324.9" cy="459.0" rx="1.9" ry="1.5"/><ellipse cx="332.1" cy="329.0" rx="1.6" ry="1.8"/><circle cx="309.4" cy="434.3" r="1.6"/><ellipse cx="438.1" cy="313.0" rx="1.3" ry="1.7"/><ellipse cx="414.1" cy="424.1" rx="1.3" ry="1.7"/><ellipse cx="342.5" cy="442.4" rx="1.9" ry="1.4"/><ellipse cx="313.7" cy="394.6" rx="1.4" ry="1.6"/><ellipse cx="295.8" cy="410.8" rx="1.3" ry="1.6"/><ellipse cx="306.0" cy="342.1" rx="1.8" ry="1.6"/><ellipse cx="266.0" cy="353.7" rx="2.0" ry="1.5"/><ellipse cx="327.2" cy="297.4" rx="1.8" ry="1.5"/><ellipse cx="467.1" cy="384.1" rx="1.6" ry="1.3"/><ellipse cx="336.2" cy="380.8" rx="1.5" ry="1.8"/><ellipse cx="274.4" cy="431.1" rx="1.4" ry="1.8"/><circle cx="374.7" cy="438.1" r="1.5"/><ellipse cx="363.1" cy="435.3" rx="1.4" ry="1.7"/><ellipse cx="287.0" cy="434.6" rx="1.5" ry="1.9"/><ellipse cx="329.7" cy="377.4" rx="1.9" ry="1.4"/><ellipse cx="334.2" cy="337.8" rx="1.5" ry="1.6"/><ellipse cx="386.2" cy="294.4" rx="1.8" ry="1.5"/><circle cx="462.3" cy="368.5" r="1.6"/><ellipse cx="270.3" cy="388.2" rx="1.5" ry="1.8"/><ellipse cx="272.2" cy="356.9" rx="1.5" ry="1.8"/><ellipse cx="263.0" cy="325.6" rx="1.5" ry="1.9"/><ellipse cx="353.5" cy="335.4" rx="1.8" ry="1.5"/><ellipse cx="308.7" cy="419.3" rx="1.5" ry="1.7"/><ellipse cx="311.8" cy="401.9" rx="1.4" ry="1.8"/><ellipse cx="333.3" cy="446.0" rx="1.4" ry="1.8"/><circle cx="411.7" cy="407.7" r="1.5"/><circle cx="342.5" cy="352.9" r="1.6"/><circle cx="441.6" cy="458.3" r="1.7"/><ellipse cx="291.4" cy="328.1" rx="1.6" ry="1.4"/><ellipse cx="409.9" cy="283.1" rx="1.3" ry="1.7"/><ellipse cx="285.1" cy="298.5" rx="1.5" ry="1.9"/><ellipse cx="333.0" cy="308.3" rx="1.5" ry="1.6"/><ellipse cx="318.9" cy="278.6" rx="1.6" ry="1.4"/><ellipse cx="368.7" cy="448.5" rx="1.4" ry="1.6"/><ellipse cx="445.1" cy="472.8" rx="1.9" ry="1.6"/><ellipse cx="343.0" cy="465.7" rx="1.6" ry="1.4"/><ellipse cx="433.5" cy="409.2" rx="1.5" ry="1.9"/><circle cx="395.2" cy="468.8" r="1.6"/><circle cx="382.4" cy="453.5" r="1.7"/><ellipse cx="382.7" cy="377.0" rx="1.8" ry="1.4"/><ellipse cx="401.7" cy="336.0" rx="1.7" ry="1.5"/><circle cx="268.0" cy="400.2" r="1.7"/><ellipse cx="275.4" cy="398.1" rx="1.9" ry="1.5"/><ellipse cx="355.6" cy="355.1" rx="1.5" ry="1.8"/><ellipse cx="285.2" cy="404.8" rx="1.5" ry="1.6"/><circle cx="386.5" cy="346.5" r="1.5"/><circle cx="420.4" cy="404.0" r="1.5"/><ellipse cx="335.7" cy="420.8" rx="1.7" ry="1.3"/><ellipse cx="392.6" cy="297.3" rx="1.6" ry="1.8"/><ellipse cx="372.8" cy="354.0" rx="1.7" ry="1.5"/><ellipse cx="285.5" cy="292.2" rx="1.4" ry="1.8"/><ellipse cx="372.8" cy="361.8" rx="1.9" ry="1.5"/><circle cx="263.9" cy="309.5" r="1.5"/><ellipse cx="416.7" cy="409.0" rx="1.9" ry="1.5"/><ellipse cx="353.6" cy="442.6" rx="1.8" ry="1.4"/><circle cx="289.8" cy="335.9" r="1.5"/><ellipse cx="441.6" cy="292.8" rx="1.4" ry="1.6"/><circle cx="454.1" cy="462.6" r="1.7"/><circle cx="432.7" cy="416.6" r="1.5"/><ellipse cx="459.2" cy="275.4" rx="2.0" ry="1.5"/><circle cx="324.3" cy="476.5" r="1.5"/><ellipse cx="452.0" cy="390.5" rx="1.6" ry="1.8"/><circle cx="459.3" cy="322.2" r="1.7"/><ellipse cx="293.6" cy="346.5" rx="1.3" ry="1.6"/><ellipse cx="456.8" cy="468.2" rx="1.4" ry="1.6"/><ellipse cx="356.8" cy="320.1" rx="1.9" ry="1.6"/><ellipse cx="351.6" cy="285.6" rx="1.5" ry="1.8"/><ellipse cx="449.3" cy="452.6" rx="1.3" ry="1.6"/><ellipse cx="333.2" cy="420.1" rx="1.7" ry="1.5"/><ellipse cx="430.9" cy="438.1" rx="1.5" ry="2.0"/><ellipse cx="434.7" cy="475.8" rx="1.5" ry="2.0"/><circle cx="269.5" cy="336.0" r="1.5"/><ellipse cx="389.2" cy="306.1" rx="1.6" ry="1.4"/><ellipse cx="380.0" cy="314.8" rx="1.4" ry="1.8"/><circle cx="297.4" cy="313.9" r="1.6"/><ellipse cx="291.1" cy="347.7" rx="1.4" ry="1.8"/><circle cx="263.7" cy="439.9" r="1.6"/><circle cx="274.5" cy="400.6" r="1.5"/><ellipse cx="327.1" cy="454.0" rx="1.7" ry="1.3"/><ellipse cx="336.5" cy="326.3" rx="1.5" ry="1.9"/><ellipse cx="406.7" cy="294.9" rx="1.6" ry="1.4"/><ellipse cx="416.2" cy="356.3" rx="1.7" ry="1.5"/><ellipse cx="456.0" cy="458.1" rx="1.4" ry="1.8"/><circle cx="392.7" cy="366.3" r="1.6"/><ellipse cx="395.5" cy="425.9" rx="1.7" ry="1.3"/><circle cx="291.4" cy="383.4" r="1.7"/><ellipse cx="281.7" cy="454.5" rx="1.8" ry="1.4"/><circle cx="430.0" cy="365.8" r="1.6"/><ellipse cx="310.1" cy="286.2" rx="1.3" ry="1.7"/><ellipse cx="452.2" cy="291.2" rx="1.3" ry="1.7"/><ellipse cx="451.2" cy="281.3" rx="1.4" ry="1.9"/><ellipse cx="337.0" cy="293.3" rx="1.7" ry="1.4"/><circle cx="446.5" cy="475.7" r="1.6"/><ellipse cx="272.8" cy="292.3" rx="1.5" ry="1.9"/><ellipse cx="316.3" cy="365.1" rx="1.8" ry="1.7"/><ellipse cx="432.8" cy="283.0" rx="1.6" ry="1.9"/><ellipse cx="428.3" cy="403.2" rx="1.4" ry="1.8"/><circle cx="440.6" cy="327.8" r="1.6"/><ellipse cx="426.0" cy="337.3" rx="1.6" ry="1.4"/><ellipse cx="454.9" cy="357.1" rx="1.8" ry="1.4"/><circle cx="340.9" cy="308.8" r="1.7"/><ellipse cx="439.4" cy="417.2" rx="2.0" ry="1.5"/><ellipse cx="415.9" cy="328.2" rx="1.4" ry="1.5"/><ellipse cx="370.1" cy="298.5" rx="1.8" ry="1.6"/><ellipse cx="335.9" cy="340.0" rx="1.8" ry="1.6"/><ellipse cx="288.6" cy="373.3" rx="1.9" ry="1.6"/><circle cx="315.0" cy="360.2" r="1.5"/><circle cx="340.3" cy="455.9" r="1.6"/><circle cx="411.6" cy="372.8" r="1.6"/><ellipse cx="327.7" cy="470.6" rx="1.8" ry="1.5"/><circle cx="450.9" cy="329.6" r="1.6"/><ellipse cx="323.0" cy="456.3" rx="1.9" ry="1.6"/><ellipse cx="454.7" cy="275.1" rx="1.5" ry="1.7"/><ellipse cx="355.8" cy="476.5" rx="1.4" ry="1.6"/><ellipse cx="312.9" cy="377.9" rx="1.6" ry="1.3"/><ellipse cx="303.7" cy="451.9" rx="1.9" ry="1.4"/><circle cx="397.9" cy="315.2" r="1.5"/><circle cx="370.1" cy="385.0" r="1.7"/><circle cx="277.5" cy="467.3" r="1.5"/><ellipse cx="286.1" cy="393.2" rx="1.8" ry="1.6"/><circle cx="333.6" cy="343.6" r="1.5"/><ellipse cx="442.4" cy="315.4" rx="1.9" ry="1.4"/><circle cx="455.2" cy="433.1" r="1.6"/><ellipse cx="342.4" cy="477.7" rx="1.8" ry="1.4"/><ellipse cx="397.6" cy="430.1" rx="1.5" ry="1.6"/><circle cx="442.1" cy="455.6" r="1.5"/><ellipse cx="313.0" cy="420.0" rx="1.7" ry="1.5"/><ellipse cx="433.2" cy="384.0" rx="1.6" ry="1.3"/><circle cx="325.2" cy="390.8" r="1.7"/><circle cx="291.6" cy="374.0" r="1.5"/><ellipse cx="289.0" cy="369.4" rx="1.4" ry="1.7"/><ellipse cx="400.3" cy="381.1" rx="1.7" ry="1.4"/><circle cx="370.2" cy="363.7" r="1.7"/><circle cx="403.5" cy="442.7" r="1.6"/><ellipse cx="466.1" cy="314.3" rx="1.5" ry="1.7"/><ellipse cx="367.4" cy="414.9" rx="1.9" ry="1.6"/><ellipse cx="386.5" cy="373.8" rx="1.7" ry="1.4"/><circle cx="449.1" cy="420.9" r="1.7"/><circle cx="383.3" cy="275.1" r="1.5"/><circle cx="296.5" cy="350.9" r="1.5"/><ellipse cx="341.4" cy="390.1" rx="1.3" ry="1.8"/><circle cx="412.9" cy="361.9" r="1.5"/><ellipse cx="380.6" cy="341.6" rx="1.5" ry="1.6"/><ellipse cx="352.5" cy="351.3" rx="1.4" ry="1.8"/><circle cx="385.4" cy="278.3" r="1.6"/><ellipse cx="374.9" cy="365.6" rx="1.5" ry="1.8"/><ellipse cx="330.9" cy="361.0" rx="1.8" ry="1.4"/><ellipse cx="383.3" cy="463.4" rx="1.4" ry="1.6"/><ellipse cx="386.6" cy="452.5" rx="1.6" ry="1.9"/><circle cx="441.2" cy="333.1" r="1.6"/><circle cx="291.6" cy="429.6" r="1.8"/><circle cx="354.3" cy="409.5" r="1.5"/><ellipse cx="285.4" cy="414.1" rx="1.9" ry="1.5"/><circle cx="374.2" cy="351.6" r="1.7"/><ellipse cx="317.4" cy="437.3" rx="1.6" ry="1.3"/><ellipse cx="271.7" cy="328.2" rx="1.7" ry="1.4"/><ellipse cx="467.0" cy="445.9" rx="1.3" ry="1.7"/><ellipse cx="401.8" cy="293.3" rx="1.4" ry="1.6"/><ellipse cx="395.2" cy="295.3" rx="1.9" ry="1.5"/><circle cx="312.6" cy="280.0" r="1.7"/><ellipse cx="326.5" cy="304.0" rx="1.9" ry="1.6"/><ellipse cx="341.5" cy="439.8" rx="1.8" ry="1.6"/><ellipse cx="351.5" cy="454.6" rx="1.9" ry="1.5"/><ellipse cx="398.1" cy="273.1" rx="1.4" ry="1.8"/><ellipse cx="361.4" cy="355.8" rx="1.4" ry="1.8"/><circle cx="275.4" cy="357.7" r="1.6"/><ellipse cx="317.5" cy="361.6" rx="1.6" ry="1.8"/><ellipse cx="325.1" cy="287.6" rx="1.4" ry="1.8"/><ellipse cx="263.3" cy="401.5" rx="1.6" ry="1.9"/><ellipse cx="271.4" cy="287.6" rx="1.9" ry="1.6"/><ellipse cx="298.6" cy="391.0" rx="1.5" ry="1.6"/><ellipse cx="302.1" cy="337.2" rx="1.5" ry="1.7"/><ellipse cx="368.2" cy="273.9" rx="1.7" ry="1.3"/><circle cx="434.8" cy="324.1" r="1.5"/><circle cx="423.4" cy="346.0" r="1.6"/><ellipse cx="462.1" cy="435.3" rx="2.0" ry="1.5"/><circle cx="300.2" cy="272.7" r="1.7"/><ellipse cx="304.4" cy="396.1" rx="1.5" ry="1.7"/><circle cx="445.5" cy="370.6" r="1.6"/><ellipse cx="348.5" cy="357.0" rx="1.5" ry="1.7"/><ellipse cx="447.0" cy="284.0" rx="1.9" ry="1.6"/><circle cx="436.6" cy="295.1" r="1.8"/><ellipse cx="436.9" cy="348.6" rx="1.7" ry="1.5"/><circle cx="331.0" cy="300.3" r="1.6"/><circle cx="362.4" cy="475.3" r="1.6"/><circle cx="438.4" cy="280.0" r="1.5"/><ellipse cx="289.7" cy="432.0" rx="1.5" ry="1.9"/><circle cx="364.5" cy="288.8" r="1.6"/><ellipse cx="468.7" cy="410.6" rx="1.5" ry="2.0"/><ellipse cx="367.4" cy="409.2" rx="1.7" ry="1.6"/><ellipse cx="283.6" cy="385.4" rx="1.4" ry="1.9"/><ellipse cx="307.7" cy="387.9" rx="1.3" ry="1.8"/><ellipse cx="318.9" cy="460.8" rx="1.4" ry="1.7"/><circle cx="263.5" cy="363.0" r="1.6"/><circle cx="438.1" cy="379.0" r="1.6"/><circle cx="292.3" cy="463.2" r="1.6"/><ellipse cx="424.3" cy="316.7" rx="1.3" ry="1.7"/><circle cx="361.0" cy="383.7" r="1.6"/><ellipse cx="304.6" cy="299.0" rx="1.4" ry="1.8"/><ellipse cx="374.2" cy="452.7" rx="1.6" ry="1.9"/><ellipse cx="340.1" cy="465.0" rx="1.8" ry="1.5"/><ellipse cx="412.6" cy="322.8" rx="1.8" ry="1.5"/><ellipse cx="292.0" cy="341.5" rx="1.5" ry="1.9"/><ellipse cx="436.0" cy="335.2" rx="1.6" ry="1.9"/><ellipse cx="408.5" cy="306.1" rx="1.4" ry="1.7"/><circle cx="280.4" cy="307.6" r="1.5"/><ellipse cx="384.7" cy="367.7" rx="1.3" ry="1.7"/><ellipse cx="373.9" cy="421.0" rx="1.4" ry="1.8"/><ellipse cx="445.1" cy="344.7" rx="1.3" ry="1.7"/><ellipse cx="274.5" cy="313.9" rx="1.7" ry="1.4"/><ellipse cx="467.1" cy="327.8" rx="1.5" ry="1.8"/><ellipse cx="468.1" cy="299.9" rx="1.4" ry="1.6"/><circle cx="469.6" cy="423.0" r="1.5"/><ellipse cx="443.6" cy="417.0" rx="1.6" ry="1.4"/><ellipse cx="395.1" cy="314.0" rx="1.4" ry="1.7"/><ellipse cx="358.2" cy="455.6" rx="1.9" ry="1.5"/><ellipse cx="405.8" cy="290.1" rx="1.8" ry="1.6"/><ellipse cx="270.9" cy="304.9" rx="1.8" ry="1.6"/><circle cx="339.4" cy="298.5" r="1.5"/><ellipse cx="377.4" cy="319.5" rx="1.6" ry="1.4"/><ellipse cx="305.4" cy="426.6" rx="1.3" ry="1.7"/><circle cx="270.0" cy="381.5" r="1.5"/></g>
</g></g>
<text x="48.1" y="46.8" font-family="DejaVu Sans, Liberation Sans, sans-serif" font-size="19.0" fill="#161008" stroke="#161008" stroke-width="0.45">FLAT</text>
<text x="267.4" y="46.7" font-family="DejaVu Sans, Liberation Sans, sans-serif" font-size="19.6" fill="#161008" stroke="#161008" stroke-width="0.45">FLAT-CPTES</text>
<text x="48.1" y="291.9" font-family="DejaVu Sans, Liberation Sans, sans-serif" font-size="19.0" fill="#161008" stroke="#161008" stroke-width="0.45">FLAT</text>
<text x="267.4" y="291.8" font-family="DejaVu Sans, Liberation Sans, sans-serif" font-size="19.6" fill="#161008" stroke="#161008" stroke-width="0.45">FLAT-CPTES</text>
<text x="6.5" y="40.7" font-family="DejaVu Sans, Liberation Sans, sans-serif" font-size="45" fill="#000" stroke="#000" stroke-width="0.5">A</text>
<text x="5.5" y="285.2" font-family="DejaVu Sans, Liberation Sans, sans-serif" font-size="45" fill="#000" stroke="#000" stroke-width="0.5">B</text>
<text x="27.6" y="529.6" font-family="DejaVu Sans, Liberation Sans, sans-serif" font-size="45" fill="#000" stroke="#000" stroke-width="0.5">C</text>
<text x="381.2" y="529.0" font-family="DejaVu Sans, Liberation Sans, sans-serif" font-size="45" fill="#000" stroke="#000" stroke-width="0.5">D</text>
<rect x="191.2" y="221.0" width="51.8" height="6.3" fill="#26200c"/>
<rect x="410.5" y="221.0" width="51.3" height="6.3" fill="#26200c"/>
<rect x="191.2" y="465.6" width="51.8" height="6.4" fill="#34290c"/>
<rect x="410.0" y="465.6" width="52.0" height="6.4" fill="#34290c"/>
<rect x="132.8" y="170.9" width="103.4" height="2.4" fill="#3a2aa8"/>
<rect x="350.7" y="169.9" width="103.2" height="2.4" fill="#2e9e40"/>
<rect x="494.7" y="46.7" width="32.00000000000006" height="173.5" fill="url(#cbar)"/>
<g stroke="#222" stroke-width="1" fill="none">
<path d="M494.7 46.7V220.2M526.7 46.7V220.2"/>
<path d="M480.0 46.7H526.7"/>
<path d="M487.6 74.7H494.7"/>
<path d="M487.6 103.6H494.7"/>
<path d="M480.0 132.5H494.7"/>
<path d="M487.6 161.5H494.7"/>
<path d="M487.6 190.4H494.7"/>
<path d="M480.0 220.2H494.7"/>
</g>
<text x="487.0" y="40.8" font-family="Liberation Serif, serif" font-size="12.2" fill="#111">70 mV</text>
<text x="485.0" y="236.0" font-family="Liberation Serif, serif" font-size="12.2" fill="#111">-70 mV</text>
<rect x="494.7" y="291.2" width="32.00000000000006" height="174.5" fill="url(#cbar)"/>
<g stroke="#222" stroke-width="1" fill="none">
<path d="M494.7 291.2V465.7M526.7 291.2V465.7"/>
<path d="M480.0 291.2H526.7"/>
<path d="M487.6 319.4H494.7"/>
<path d="M487.6 348.5H494.7"/>
<path d="M480.0 377.6H494.7"/>
<path d="M487.6 406.6H494.7"/>
<path d="M487.6 435.7H494.7"/>
<path d="M480.0 465.7H494.7"/>
</g>
<text x="499.8" y="287.5" font-family="Liberation Serif, serif" font-size="12.2" fill="#111">34 º</text>
<text x="498.2" y="480.2" font-family="Liberation Serif, serif" font-size="12.2" fill="#111">-42 º</text>
<g stroke="#333" stroke-width="0.9" fill="none">
<path d="M569.7 31.6V210.5H746.6"/>
<path d="M566.5 210.5H569.7"/>
<path d="M568.0 197.7H569.7"/>
<path d="M566.5 184.9H569.7"/>
<path d="M568.0 172.1H569.7"/>
<path d="M566.5 159.4H569.7"/>
<path d="M568.0 146.6H569.7"/>
<path d="M566.5 133.8H569.7"/>
<path d="M568.0 121.0H569.7"/>
<path d="M566.5 108.2H569.7"/>
<path d="M568.0 95.4H569.7"/>
<path d="M566.5 82.7H569.7"/>
<path d="M568.0 69.9H569.7"/>
<path d="M566.5 57.1H569.7"/>
<path d="M568.0 44.3H569.7"/>
<path d="M566.5 31.5H569.7"/>
<path d="M569.7 210.5v3.2"/>
<path d="M586.6 210.5v1.7"/>
<path d="M603.5 210.5v3.2"/>
<path d="M620.4 210.5v1.7"/>
<path d="M637.3 210.5v3.2"/>
<path d="M654.2 210.5v1.7"/>
<path d="M671.2 210.5v3.2"/>
<path d="M688.1 210.5v1.7"/>
<path d="M705.0 210.5v3.2"/>
<path d="M721.9 210.5v1.7"/>
<path d="M738.8 210.5v3.2"/>

</g>
<text x="563.6" y="213.4" font-family="Liberation Sans, sans-serif" font-size="8" font-weight="bold" text-anchor="end" fill="#222">0</text>
<text x="563.6" y="187.8" font-family="Liberation Sans, sans-serif" font-size="8" font-weight="bold" text-anchor="end" fill="#222">1</text>
<text x="563.6" y="162.3" font-family="Liberation Sans, sans-serif" font-size="8" font-weight="bold" text-anchor="end" fill="#222">2</text>
<text x="563.6" y="136.7" font-family="Liberation Sans, sans-serif" font-size="8" font-weight="bold" text-anchor="end" fill="#222">3</text>
<text x="563.6" y="111.1" font-family="Liberation Sans, sans-serif" font-size="8" font-weight="bold" text-anchor="end" fill="#222">4</text>
<text x="563.6" y="85.6" font-family="Liberation Sans, sans-serif" font-size="8" font-weight="bold" text-anchor="end" fill="#222">5</text>
<text x="563.6" y="60.0" font-family="Liberation Sans, sans-serif" font-size="8" font-weight="bold" text-anchor="end" fill="#222">6</text>
<text x="563.6" y="34.4" font-family="Liberation Sans, sans-serif" font-size="8" font-weight="bold" text-anchor="end" fill="#222">7</text>
<text x="569.7" y="221.0" font-family="Liberation Sans, sans-serif" font-size="8.6" text-anchor="middle" fill="#222">0,0</text>
<text x="603.5" y="221.0" font-family="Liberation Sans, sans-serif" font-size="8.6" text-anchor="middle" fill="#222">0,2</text>
<text x="637.3" y="221.0" font-family="Liberation Sans, sans-serif" font-size="8.6" text-anchor="middle" fill="#222">0,4</text>
<text x="671.2" y="221.0" font-family="Liberation Sans, sans-serif" font-size="8.6" text-anchor="middle" fill="#222">0,6</text>
<text x="705.0" y="221.0" font-family="Liberation Sans, sans-serif" font-size="8.6" text-anchor="middle" fill="#222">0,8</text>
<text x="738.8" y="221.0" font-family="Liberation Sans, sans-serif" font-size="8.6" text-anchor="middle" fill="#222">1,0</text>
<text x="652.4" y="235.6" font-family="Liberation Sans, sans-serif" font-size="9.6" text-anchor="middle" fill="#222">Distance (µm)</text>
<text transform="translate(552.6 118.6) rotate(-90)" font-family="Liberation Sans, sans-serif" font-size="10" text-anchor="middle" fill="#222">Height (nm)</text>
<path d="M569.5 177.4C569.8 176.8 571.0 173.8 571.5 173.5C572.0 173.2 572.3 175.6 572.7 175.4C573.1 175.2 573.5 173.1 574.0 172.3C574.5 171.5 575.1 170.2 575.5 170.4C575.9 170.6 576.1 172.0 576.5 173.5C576.9 175.0 577.3 177.1 577.8 179.3C578.3 181.5 578.8 186.5 579.3 186.9C579.8 187.3 580.4 182.9 581.0 181.8C581.6 180.7 582.0 180.7 582.9 180.3C583.8 179.9 585.1 179.7 586.1 179.5C587.1 179.3 587.9 177.8 588.6 179.0C589.3 180.2 590.0 185.0 590.5 186.9C591.0 188.8 591.3 190.5 591.8 190.5C592.3 190.5 592.8 188.2 593.3 186.9C593.8 185.6 594.4 182.5 595.0 182.4C595.6 182.3 596.4 186.6 596.9 186.3C597.4 186.0 597.6 182.1 598.2 180.5C598.8 178.9 599.9 177.4 600.7 176.7C601.5 176.0 602.4 175.5 603.0 176.1C603.6 176.7 604.0 178.6 604.5 180.5C605.0 182.4 605.6 186.7 606.1 187.5C606.6 188.3 607.1 186.0 607.7 185.6C608.3 185.2 609.0 184.5 609.6 185.0C610.2 185.5 611.0 189.8 611.5 188.8C612.0 187.9 612.3 182.0 612.8 179.3C613.3 176.7 614.0 173.7 614.5 172.9C615.0 172.2 615.4 173.7 616.0 174.8C616.6 175.9 617.3 178.4 617.9 179.3C618.5 180.2 619.3 179.7 619.8 180.3C620.3 180.9 620.7 180.7 621.1 183.1C621.5 185.5 621.9 191.1 622.3 194.5C622.7 197.9 623.2 201.3 623.6 203.4C624.0 205.5 624.4 207.5 624.9 207.3C625.4 207.1 625.8 205.0 626.4 202.2C627.0 199.4 628.0 193.3 628.7 190.7C629.4 188.0 630.0 188.0 630.6 186.3C631.2 184.6 631.8 181.3 632.3 180.5C632.8 179.7 633.2 182.1 633.8 181.2C634.4 180.2 635.1 176.1 635.7 174.8C636.3 173.5 637.0 174.0 637.6 173.5C638.2 173.0 638.9 171.3 639.5 171.6C640.1 171.9 640.8 175.9 641.4 175.4C642.0 174.9 642.6 169.7 643.3 168.4C644.0 167.1 644.8 166.8 645.5 167.8C646.2 168.8 647.0 171.2 647.8 174.2C648.6 177.2 649.4 184.4 650.1 185.6C650.8 186.8 651.1 180.9 651.9 181.2C652.6 181.5 653.7 186.8 654.6 187.2C655.5 187.6 656.3 184.0 657.1 183.7C657.9 183.4 658.9 184.2 659.6 185.4C660.3 186.6 660.8 189.1 661.5 190.7C662.2 192.3 663.2 194.8 664.0 195.2C664.8 195.6 665.8 194.3 666.5 193.3C667.2 192.3 667.8 191.0 668.4 189.4C669.0 187.8 669.8 183.5 670.4 183.7C671.0 183.9 671.6 188.6 672.3 190.7C673.0 192.8 673.9 196.6 674.8 196.4C675.6 196.2 676.5 191.6 677.4 189.4C678.2 187.2 679.1 184.9 679.9 183.1C680.7 181.3 681.5 179.7 682.4 178.6C683.2 177.5 684.1 178.2 685.0 176.7C685.9 175.2 686.8 170.0 687.5 169.7C688.2 169.4 688.8 173.3 689.4 174.8C690.0 176.3 690.5 177.8 691.0 178.6C691.5 179.3 692.0 178.3 692.6 179.3C693.2 180.3 693.9 182.5 694.5 184.4C695.1 186.3 695.6 189.6 696.4 190.7C697.1 191.8 698.2 191.3 699.0 190.7C699.8 190.1 700.3 188.8 700.9 186.9C701.5 185.0 702.1 181.7 702.8 179.3C703.5 176.9 704.4 172.7 705.0 172.3C705.6 171.9 706.0 174.9 706.6 176.7C707.2 178.5 707.9 181.4 708.5 183.1C709.1 184.8 709.7 185.4 710.4 186.9C711.1 188.4 712.0 192.2 712.6 192.0C713.2 191.8 713.7 188.2 714.2 185.6C714.7 183.0 715.0 178.1 715.5 176.7C716.0 175.3 716.6 176.1 717.2 177.4C717.8 178.7 718.6 182.2 719.3 184.4C720.0 186.6 720.6 188.0 721.2 190.7C721.9 193.3 722.6 200.1 723.2 200.3C723.9 200.5 724.5 195.0 725.1 192.0C725.7 189.0 726.4 184.4 727.0 182.4C727.6 180.4 728.0 178.9 728.5 179.9C729.0 180.9 729.7 186.0 730.2 188.2C730.7 190.4 730.9 191.7 731.4 193.3C731.9 194.9 732.8 195.8 733.3 197.7C733.8 199.6 734.1 202.7 734.6 204.7C735.1 206.7 735.9 209.8 736.5 209.8C737.1 209.8 737.9 206.3 738.4 204.7C738.9 203.1 739.1 201.0 739.3 200.3" stroke="#3a35b0" stroke-width="1.05" fill="none" stroke-linejoin="round"/>
<path d="M569.5 180.5C569.8 180.0 570.9 178.2 571.5 177.4C572.1 176.6 572.8 175.9 573.4 175.4C574.0 174.9 574.5 174.6 575.0 174.2C575.5 173.8 576.0 171.8 576.5 172.9C577.0 174.0 577.3 178.1 577.8 180.5C578.3 182.9 579.1 187.5 579.7 187.5C580.3 187.5 580.9 183.8 581.4 180.5C581.9 177.2 582.4 172.9 582.9 167.8C583.4 162.7 584.0 161.3 584.6 150.0C585.2 138.7 585.7 114.3 586.2 100.0C586.7 85.7 587.2 71.2 587.6 64.0C588.0 56.8 588.2 56.5 588.6 56.5C589.0 56.5 589.3 56.8 589.7 64.0C590.1 71.2 590.7 85.7 591.2 100.0C591.7 114.3 592.4 138.5 592.8 150.0C593.2 161.5 593.4 162.7 593.7 169.1C594.0 175.5 594.1 183.2 594.6 188.2C595.1 193.2 596.2 198.4 596.9 199.0C597.6 199.6 598.2 194.0 598.8 192.0C599.4 190.0 600.1 188.2 600.7 186.9C601.3 185.6 602.0 185.5 602.6 184.4C603.2 183.3 603.9 179.4 604.5 180.5C605.1 181.6 605.5 189.6 606.1 190.7C606.7 191.8 607.5 187.9 608.1 186.9C608.7 185.9 609.1 185.7 609.6 184.4C610.1 183.1 610.5 182.9 610.9 179.3C611.3 175.7 611.9 167.6 612.2 162.7C612.5 157.8 612.7 153.3 612.9 150.0C613.1 146.7 613.1 143.3 613.3 142.6C613.5 141.9 613.6 146.3 613.9 146.0C614.1 145.7 614.4 144.0 614.8 141.0C615.2 138.0 615.9 132.3 616.5 128.0C617.1 123.7 617.8 120.6 618.4 114.9C619.0 109.2 619.9 99.5 620.4 94.0C620.9 88.5 621.3 84.5 621.6 82.0C621.9 79.5 622.1 79.1 622.4 79.3C622.7 79.5 622.9 80.2 623.2 83.0C623.5 85.8 623.8 89.5 624.2 96.0C624.6 102.5 625.2 113.2 625.7 122.2C626.2 131.2 626.6 142.8 626.9 150.0C627.2 157.2 627.3 161.5 627.6 165.3C627.9 169.1 628.2 172.0 628.7 172.6C629.2 173.2 630.0 171.6 630.6 169.1C631.2 166.6 631.8 160.8 632.3 157.6C632.8 154.4 632.9 159.6 633.3 150.0C633.7 140.4 634.3 114.0 634.8 100.0C635.3 86.0 635.9 73.6 636.4 66.0C636.9 58.4 637.2 55.0 637.6 54.3C638.0 53.6 638.2 57.0 638.5 62.0C638.8 67.0 639.2 74.0 639.6 84.0C640.0 94.0 640.6 111.2 641.0 122.2C641.4 133.2 641.6 142.2 641.8 150.0C642.0 157.8 642.0 163.8 642.3 169.1C642.5 174.4 642.8 178.7 643.3 181.8C643.8 184.9 644.5 185.8 645.2 187.5C646.0 189.2 647.1 192.3 647.8 192.0C648.4 191.7 648.7 189.8 649.1 185.6C649.5 181.3 649.9 171.1 650.3 166.5C650.7 161.9 651.2 160.8 651.6 158.0C652.0 155.2 652.1 153.8 652.6 150.0C653.1 146.2 653.9 138.9 654.5 135.0C655.1 131.1 655.9 126.6 656.5 126.8C657.1 127.0 657.8 132.1 658.3 136.0C658.8 139.9 659.0 146.0 659.3 150.0C659.6 154.0 659.5 156.8 659.9 160.2C660.3 163.6 661.0 170.0 661.5 170.4C662.0 170.8 662.3 166.1 662.7 162.7C663.1 159.3 663.3 158.6 663.9 150.0C664.5 141.4 665.5 122.2 666.1 111.2C666.7 100.2 667.2 89.7 667.6 84.0C668.0 78.3 668.3 76.9 668.6 76.9C668.9 76.9 669.2 78.8 669.5 84.0C669.8 89.2 670.2 97.0 670.6 108.0C671.0 119.0 671.4 140.4 671.6 150.0C671.9 159.6 671.8 160.2 672.1 165.3C672.4 170.4 673.0 179.9 673.5 180.5C674.0 181.1 674.7 173.5 675.2 169.1C675.7 164.7 676.0 163.0 676.7 154.0C677.4 145.0 678.5 124.7 679.2 114.9C679.9 105.1 680.5 99.0 680.9 95.0C681.3 91.0 681.6 90.8 681.9 90.8C682.2 90.8 682.5 91.5 682.9 95.0C683.2 98.5 683.6 102.8 684.0 112.0C684.4 121.2 684.9 140.7 685.2 150.0C685.5 159.3 685.6 162.9 685.9 168.0C686.2 173.1 686.4 176.5 686.9 180.5C687.4 184.5 688.2 188.4 688.8 192.0C689.4 195.6 690.0 199.5 690.7 202.2C691.5 204.8 692.5 207.5 693.3 207.9C694.0 208.3 694.5 206.9 695.2 204.7C695.9 202.5 697.1 198.3 697.7 194.5C698.3 190.7 698.6 187.1 699.0 181.8C699.4 176.5 699.8 168.0 700.1 162.7C700.4 157.4 700.5 154.4 700.8 150.0C701.1 145.6 701.5 139.6 702.0 136.0C702.5 132.4 703.0 128.6 703.5 128.6C704.0 128.6 704.4 132.4 704.8 136.0C705.2 139.6 705.5 145.6 705.8 150.0C706.1 154.4 706.0 157.6 706.4 162.7C706.8 167.8 707.4 179.2 707.9 180.5C708.4 181.8 708.8 172.8 709.2 170.4C709.6 168.0 710.0 166.1 710.4 165.9C710.8 165.7 711.0 167.3 711.3 169.1C711.6 170.9 711.9 176.3 712.3 176.7C712.7 177.1 713.2 173.3 713.6 171.6C714.0 169.9 714.5 167.2 714.9 166.5C715.3 165.8 715.6 168.9 715.9 167.4C716.2 165.9 716.5 161.3 716.8 157.6C717.1 153.9 717.3 152.1 717.6 145.0C717.9 137.9 718.3 124.5 718.8 114.9C719.2 105.3 719.8 94.5 720.3 87.5C720.8 80.5 721.2 76.0 721.6 73.0C722.0 70.0 722.3 69.6 722.6 69.6C722.9 69.6 723.2 70.6 723.6 73.0C724.0 75.4 724.4 78.2 724.8 84.0C725.2 89.8 725.7 99.7 726.2 108.0C726.7 116.3 727.2 126.5 727.6 134.0C728.0 141.5 728.3 148.8 728.6 153.0C728.9 157.2 729.2 159.7 729.5 159.5C729.8 159.3 730.1 157.8 730.4 152.0C730.7 146.2 731.0 135.3 731.3 125.0C731.6 114.7 732.0 101.2 732.4 90.0C732.8 78.8 733.1 65.1 733.5 58.0C733.9 50.9 734.2 47.4 734.5 47.4C734.8 47.4 735.1 50.4 735.4 58.0C735.7 65.6 736.1 78.5 736.5 93.0C736.9 107.5 737.3 131.3 737.6 145.0C737.9 158.7 738.0 166.5 738.2 175.4C738.4 184.3 738.6 194.2 738.7 198.3C738.9 202.5 739.0 200.0 739.1 200.3" stroke="#37a53c" stroke-width="1.05" fill="none" stroke-linejoin="round"/>
<path d="M693 23.6H715" stroke="#3a35b0" stroke-width="1.1"/><path d="M693 37.8H715" stroke="#37a53c" stroke-width="1.1"/>
<text x="718.2" y="27.1" font-family="DejaVu Sans, Liberation Sans, sans-serif" font-size="9.8" fill="#222">FLAT</text>
<text x="718.2" y="41.3" font-family="DejaVu Sans, Liberation Sans, sans-serif" font-size="9.8" fill="#222">FLAT-CPTES</text>
<g stroke="#444" stroke-width="0.9" fill="none">
<path d="M588.6 286.3V449.8H751.6"/>
<path d="M586.0 447.6H588.6"/>
<path d="M587.2 431.5H588.6"/>
<path d="M586.0 415.3H588.6"/>
<path d="M587.2 399.2H588.6"/>
<path d="M586.0 383.1H588.6"/>
<path d="M587.2 367.0H588.6"/>
<path d="M586.0 350.8H588.6"/>
<path d="M587.2 334.7H588.6"/>
<path d="M586.0 318.6H588.6"/>
<path d="M587.2 302.4H588.6"/>
<path d="M586.0 286.3H588.6"/>
<path d="M588.6 449.8v2.6"/>
<path d="M599.8 449.8v1.4"/>
<path d="M611.0 449.8v2.6"/>
<path d="M622.2 449.8v1.4"/>
<path d="M633.4 449.8v2.6"/>
<path d="M644.6 449.8v1.4"/>
<path d="M655.8 449.8v2.6"/>
<path d="M667.0 449.8v1.4"/>
<path d="M678.2 449.8v2.6"/>
<path d="M689.4 449.8v1.4"/>
<path d="M700.6 449.8v2.6"/>
<path d="M711.8 449.8v1.4"/>
<path d="M723.0 449.8v2.6"/>
<path d="M734.2 449.8v1.4"/>
<path d="M745.4 449.8v2.6"/>
</g>
<text x="582.6" y="450.0" font-family="Liberation Sans, sans-serif" font-size="6.6" text-anchor="end" fill="#333">0,0</text>
<text x="582.6" y="417.7" font-family="Liberation Sans, sans-serif" font-size="6.6" text-anchor="end" fill="#333">5,0x10<tspan font-size="4.6" dy="-2.4">3</tspan></text>
<text x="582.6" y="385.5" font-family="Liberation Sans, sans-serif" font-size="6.6" text-anchor="end" fill="#333">1,0x10<tspan font-size="4.6" dy="-2.4">4</tspan></text>
<text x="582.6" y="353.2" font-family="Liberation Sans, sans-serif" font-size="6.6" text-anchor="end" fill="#333">1,5x10<tspan font-size="4.6" dy="-2.4">4</tspan></text>
<text x="582.6" y="321.0" font-family="Liberation Sans, sans-serif" font-size="6.6" text-anchor="end" fill="#333">2,0x10<tspan font-size="4.6" dy="-2.4">4</tspan></text>
<text x="582.6" y="288.7" font-family="Liberation Sans, sans-serif" font-size="6.6" text-anchor="end" fill="#333">2,5x10<tspan font-size="4.6" dy="-2.4">4</tspan></text>
<text x="588.6" y="462.4" font-family="Liberation Sans, sans-serif" font-size="6.8" text-anchor="middle" fill="#333">-40</text>
<text x="611.0" y="462.4" font-family="Liberation Sans, sans-serif" font-size="6.8" text-anchor="middle" fill="#333">-30</text>
<text x="633.4" y="462.4" font-family="Liberation Sans, sans-serif" font-size="6.8" text-anchor="middle" fill="#333">-20</text>
<text x="655.8" y="462.4" font-family="Liberation Sans, sans-serif" font-size="6.8" text-anchor="middle" fill="#333">-10</text>
<text x="678.2" y="462.4" font-family="Liberation Sans, sans-serif" font-size="6.8" text-anchor="middle" fill="#333">0</text>
<text x="700.6" y="462.4" font-family="Liberation Sans, sans-serif" font-size="6.8" text-anchor="middle" fill="#333">10</text>
<text x="723.0" y="462.4" font-family="Liberation Sans, sans-serif" font-size="6.8" text-anchor="middle" fill="#333">20</text>
<text x="745.4" y="462.4" font-family="Liberation Sans, sans-serif" font-size="6.8" text-anchor="middle" fill="#333">30</text>
<text x="669.4" y="472.2" font-family="Liberation Sans, sans-serif" font-size="7.7" text-anchor="middle" fill="#444" letter-spacing="0.35">Phase (<tspan font-size="5.2">º</tspan>)</text>
<text transform="translate(553.0 361.0) rotate(-90)" font-family="Liberation Sans, sans-serif" font-size="8.25" text-anchor="middle" fill="#333">Number of events</text>
<path d="M592.6 447.6C592.9 447.4 593.8 447.1 594.4 446.6C595.0 446.1 595.4 445.5 596.0 444.7C596.6 443.9 597.2 442.6 597.8 441.6C598.4 440.6 598.9 439.7 599.5 438.9C600.1 438.1 600.6 437.2 601.2 436.6C601.8 436.0 602.4 435.8 602.9 435.5C603.4 435.2 603.8 434.9 604.3 434.9C604.8 434.8 605.1 435.0 605.6 435.2C606.1 435.4 606.7 435.9 607.2 436.3C607.7 436.7 608.0 437.2 608.6 437.8C609.2 438.4 610.0 439.1 610.8 439.7C611.6 440.3 611.9 440.6 613.2 441.2C614.6 441.8 616.8 442.6 618.9 443.1C621.0 443.6 623.5 443.7 625.8 444.0C628.1 444.3 630.4 444.7 632.7 444.7C635.0 444.7 636.8 444.5 639.5 444.2C642.2 443.9 645.6 443.6 648.7 443.1C651.8 442.6 655.2 441.9 657.9 441.2C660.6 440.5 662.4 439.7 664.7 438.9C667.0 438.1 669.3 437.3 671.6 436.2C673.9 435.1 676.2 433.6 678.5 432.1C680.8 430.6 683.0 428.4 685.3 427.0C687.6 425.6 690.1 424.4 692.2 423.6C694.3 422.8 696.2 422.2 697.9 422.2C699.6 422.2 700.8 422.6 702.5 423.4C704.2 424.2 706.3 425.6 708.2 427.0C710.1 428.4 712.1 430.3 714.0 432.1C715.9 433.9 717.8 436.1 719.7 437.8C721.6 439.5 723.5 441.1 725.4 442.4C727.3 443.6 729.2 444.6 731.1 445.3C733.0 446.1 734.6 446.5 736.9 446.9C739.2 447.3 742.5 447.5 744.9 447.6C747.2 447.7 750.0 447.7 751.0 447.7" stroke="#2f9a45" stroke-width="1.3" fill="none"/>
<path d="M592.6 447.6L668.0 447.6L668.00 447.6L668.25 447.6L668.50 447.6L668.75 447.6L669.00 447.6L669.25 447.6L669.50 447.6L669.75 447.6L670.00 447.6L670.25 447.5L670.50 447.5L670.75 447.3L671.00 447.2L671.25 446.9L671.50 446.4L671.75 445.7L672.00 444.7L672.25 443.1L672.50 440.9L672.75 437.9L673.00 433.8L673.25 428.5L673.50 421.7L673.75 413.4L674.00 403.5L674.25 392.0L674.50 379.3L674.75 365.5L675.00 351.3L675.25 337.3L675.50 324.2L675.75 312.9L676.00 303.9L676.25 298.0L676.50 295.5L676.75 296.6L677.00 301.2L677.25 309.0L677.50 319.4L677.75 331.9L678.00 345.6L678.25 359.8L678.50 373.8L678.75 387.1L679.00 399.1L679.25 409.6L679.50 418.6L679.75 426.0L680.00 431.8L680.25 436.4L680.50 439.8L680.75 442.3L681.00 444.1L681.25 445.3L681.50 446.2L681.75 446.7L682.00 447.1L682.25 447.3L682.50 447.4L682.75 447.5L683.00 447.5L683.25 447.6L683.50 447.6L683.75 447.6L684.00 447.6L684.25 447.6L684.50 447.6L684.75 447.6L685.00 447.6L744.9 447.6" stroke="#1c1aa6" stroke-width="1.5" fill="none" stroke-linejoin="round"/>
<path d="M696 282H715" stroke="#2c2ab0" stroke-width="1.3"/><path d="M696 296H715" stroke="#2f9a45" stroke-width="1.3"/>
<text x="720.0" y="285.6" font-family="DejaVu Sans, Liberation Sans, sans-serif" font-size="9.95" fill="#222">FLAT</text>
<text x="720.0" y="299.6" font-family="DejaVu Sans, Liberation Sans, sans-serif" font-size="9.95" fill="#222">FLAT-CPTES</text>
<g stroke="#222" stroke-width="1" fill="none"><path d="M98.7 497.7V691.3H363.2"/></g>
<path d="M121.2 661.7V651.3M119.0 651.3H123.4" stroke="#8a8a8a" stroke-width="0.9" fill="none"/>
<rect x="103.4" y="661.7" width="35.6" height="29.6" fill="#fff" stroke="#4a4a4a" stroke-width="0.9"/>
<text x="121.2" y="646.6" font-family="Liberation Sans, sans-serif" font-size="9.6" font-weight="bold" text-anchor="middle" fill="#111">a</text>
<path d="M165.4 583.5V553.4M163.20000000000002 553.4H167.6" stroke="#8a8a8a" stroke-width="0.9" fill="none"/>
<rect x="147.6" y="583.5" width="35.6" height="107.8" fill="#fff" stroke="#4a4a4a" stroke-width="0.9"/>
<text x="165.4" y="549.2" font-family="Liberation Sans, sans-serif" font-size="9.6" font-weight="bold" text-anchor="middle" fill="#111">b</text>
<path d="M209.1 566.6V514.3M206.9 514.3H211.29999999999998" stroke="#8a8a8a" stroke-width="0.9" fill="none"/>
<rect x="191.3" y="566.6" width="35.6" height="124.7" fill="#bfbfbf" stroke="#4a4a4a" stroke-width="0.9"/>
<text x="209.1" y="510.6" font-family="Liberation Sans, sans-serif" font-size="9.6" font-weight="bold" text-anchor="middle" fill="#111">b</text>
<path d="M251.0 521.1H255.39999999999998" stroke="#8a8a8a" stroke-width="0.9" fill="none"/>
<rect x="235.4" y="575.3" width="35.6" height="116.0" fill="#808080" stroke="#4a4a4a" stroke-width="0.9"/>
<text x="253.2" y="517.5" font-family="Liberation Sans, sans-serif" font-size="9.6" font-weight="bold" text-anchor="middle" fill="#111">b</text>
<path d="M297.0 588.9V555.3M294.8 555.3H299.2" stroke="#8a8a8a" stroke-width="0.9" fill="none"/>
<rect x="279.2" y="588.9" width="35.6" height="102.4" fill="url(#hatch)" stroke="#4a4a4a" stroke-width="0.9"/>
<text x="297.0" y="551.3" font-family="Liberation Sans, sans-serif" font-size="9.6" font-weight="bold" text-anchor="middle" fill="#111">b</text>
<path d="M341.1 575.7V519.3M338.90000000000003 519.3H343.3" stroke="#8a8a8a" stroke-width="0.9" fill="none"/>
<rect x="323.3" y="575.7" width="35.6" height="115.6" fill="url(#hatch)" stroke="#4a4a4a" stroke-width="0.9"/>
<text x="341.1" y="516.2" font-family="Liberation Sans, sans-serif" font-size="9.6" font-weight="bold" text-anchor="middle" fill="#111">b</text>
<g stroke="#222" stroke-width="1" fill="none">
<path d="M94.6 691.3H98.7"/>
<path d="M96.7 679.9H98.7"/>
<path d="M94.6 668.5H98.7"/>
<path d="M96.7 657.2H98.7"/>
<path d="M94.6 645.8H98.7"/>
<path d="M96.7 634.4H98.7"/>
<path d="M94.6 623.0H98.7"/>
<path d="M96.7 611.7H98.7"/>
<path d="M94.6 600.3H98.7"/>
<path d="M96.7 588.9H98.7"/>
<path d="M94.6 577.5H98.7"/>
<path d="M96.7 566.2H98.7"/>
<path d="M94.6 554.8H98.7"/>
<path d="M96.7 543.4H98.7"/>
<path d="M94.6 532.0H98.7"/>
<path d="M96.7 520.7H98.7"/>
<path d="M94.6 509.3H98.7"/>
</g>
<text x="92.3" y="694.6" font-family="Liberation Sans, sans-serif" font-size="9.4" font-weight="bold" text-anchor="end" fill="#111">0.0</text>
<text x="92.3" y="671.8" font-family="Liberation Sans, sans-serif" font-size="9.4" font-weight="bold" text-anchor="end" fill="#111">0.5</text>
<text x="92.3" y="649.1" font-family="Liberation Sans, sans-serif" font-size="9.4" font-weight="bold" text-anchor="end" fill="#111">1.0</text>
<text x="92.3" y="626.3" font-family="Liberation Sans, sans-serif" font-size="9.4" font-weight="bold" text-anchor="end" fill="#111">1.5</text>
<text x="92.3" y="603.6" font-family="Liberation Sans, sans-serif" font-size="9.4" font-weight="bold" text-anchor="end" fill="#111">2.0</text>
<text x="92.3" y="580.8" font-family="Liberation Sans, sans-serif" font-size="9.4" font-weight="bold" text-anchor="end" fill="#111">2.5</text>
<text x="92.3" y="558.1" font-family="Liberation Sans, sans-serif" font-size="9.4" font-weight="bold" text-anchor="end" fill="#111">3.0</text>
<text x="92.3" y="535.3" font-family="Liberation Sans, sans-serif" font-size="9.4" font-weight="bold" text-anchor="end" fill="#111">3.5</text>
<text x="92.3" y="512.6" font-family="Liberation Sans, sans-serif" font-size="9.4" font-weight="bold" text-anchor="end" fill="#111">4.0</text>
<g stroke="#222" stroke-width="1" fill="none"><path d="M465.1 496.5V690.9H730.5"/></g>
<text x="488.3" y="671.6" font-family="Liberation Sans, sans-serif" font-size="9.6" font-weight="bold" text-anchor="middle" fill="#111">a</text>
<path d="M531.2 554.3V531.3M529.0 531.3H533.4000000000001" stroke="#8a8a8a" stroke-width="0.9" fill="none"/>
<rect x="513.4" y="554.3" width="35.6" height="136.6" fill="#fff" stroke="#4a4a4a" stroke-width="0.9"/>
<text x="531.2" y="527.1" font-family="Liberation Sans, sans-serif" font-size="9.6" font-weight="bold" text-anchor="middle" fill="#111">b</text>
<path d="M575.1 537.2V528.7M572.9 528.7H577.3000000000001" stroke="#8a8a8a" stroke-width="0.9" fill="none"/>
<rect x="557.3" y="537.2" width="35.6" height="153.7" fill="#bfbfbf" stroke="#4a4a4a" stroke-width="0.9"/>
<text x="575.1" y="524.6" font-family="Liberation Sans, sans-serif" font-size="9.6" font-weight="bold" text-anchor="middle" fill="#111">b</text>
<path d="M619.1 538.9V524.4M616.9 524.4H621.3000000000001" stroke="#8a8a8a" stroke-width="0.9" fill="none"/>
<rect x="601.3" y="538.9" width="35.6" height="152.0" fill="#808080" stroke="#4a4a4a" stroke-width="0.9"/>
<text x="619.1" y="520.8" font-family="Liberation Sans, sans-serif" font-size="9.6" font-weight="bold" text-anchor="middle" fill="#111">b</text>
<path d="M663.0 545.3V534.6M660.8 534.6H665.2" stroke="#8a8a8a" stroke-width="0.9" fill="none"/>
<rect x="645.2" y="545.3" width="35.6" height="145.6" fill="url(#hatch)" stroke="#4a4a4a" stroke-width="0.9"/>
<text x="663.0" y="531.5" font-family="Liberation Sans, sans-serif" font-size="9.6" font-weight="bold" text-anchor="middle" fill="#111">b</text>
<path d="M707.0 546.1V535.9M704.8 535.9H709.2" stroke="#8a8a8a" stroke-width="0.9" fill="none"/>
<rect x="689.2" y="546.1" width="35.6" height="144.8" fill="url(#hatch)" stroke="#4a4a4a" stroke-width="0.9"/>
<text x="707.0" y="532.0" font-family="Liberation Sans, sans-serif" font-size="9.6" font-weight="bold" text-anchor="middle" fill="#111">b</text>
<g stroke="#222" stroke-width="1" fill="none">
<path d="M461.0 690.9H465.1"/>
<path d="M463.1 674.7H465.1"/>
<path d="M461.0 658.5H465.1"/>
<path d="M463.1 642.3H465.1"/>
<path d="M461.0 626.1H465.1"/>
<path d="M463.1 609.9H465.1"/>
<path d="M461.0 593.7H465.1"/>
<path d="M463.1 577.5H465.1"/>
<path d="M461.0 561.3H465.1"/>
<path d="M463.1 545.1H465.1"/>
<path d="M461.0 528.9H465.1"/>
<path d="M463.1 512.7H465.1"/>
<path d="M461.0 496.5H465.1"/>
</g>
<text x="458.6" y="694.3" font-family="Liberation Sans, sans-serif" font-size="9.6" font-weight="bold" text-anchor="end" fill="#111">0</text>
<text x="458.6" y="661.9" font-family="Liberation Sans, sans-serif" font-size="9.6" font-weight="bold" text-anchor="end" fill="#111">20</text>
<text x="458.6" y="629.5" font-family="Liberation Sans, sans-serif" font-size="9.6" font-weight="bold" text-anchor="end" fill="#111">40</text>
<text x="458.6" y="597.1" font-family="Liberation Sans, sans-serif" font-size="9.6" font-weight="bold" text-anchor="end" fill="#111">60</text>
<text x="458.6" y="564.7" font-family="Liberation Sans, sans-serif" font-size="9.6" font-weight="bold" text-anchor="end" fill="#111">80</text>
<text x="458.6" y="532.3" font-family="Liberation Sans, sans-serif" font-size="9.6" font-weight="bold" text-anchor="end" fill="#111">100</text>
<text x="458.6" y="499.9" font-family="Liberation Sans, sans-serif" font-size="9.6" font-weight="bold" text-anchor="end" fill="#111">120</text>
<text transform="translate(131.0 699.1) rotate(-33)" font-family="Liberation Sans, sans-serif" font-size="10.1" font-weight="bold" text-anchor="end" fill="#111">FLAT</text>
<text transform="translate(173.8 700.3) rotate(-33)" font-family="Liberation Sans, sans-serif" font-size="9.35" font-weight="bold" text-anchor="end" fill="#111">FLAT-CPTES</text>
<text transform="translate(217.6 700.3) rotate(-33)" font-family="Liberation Sans, sans-serif" font-size="9.35" font-weight="bold" text-anchor="end" fill="#111">FLAT-RGD</text>
<text transform="translate(261.2 701.7) rotate(-33)" font-family="Liberation Sans, sans-serif" font-size="9.35" font-weight="bold" text-anchor="end" fill="#111">FLAT-YIGSR</text>
<text transform="translate(304.4 700.3) rotate(-33)" font-family="Liberation Sans, sans-serif" font-size="9.35" font-weight="bold" text-anchor="end" fill="#111">10L-CPTES</text>
<text transform="translate(348.2 700.3) rotate(-33)" font-family="Liberation Sans, sans-serif" font-size="9.35" font-weight="bold" text-anchor="end" fill="#111">10H-CPTES</text>
<text transform="translate(499.6 698.3) rotate(-34)" font-family="Liberation Sans, sans-serif" font-size="10.0" font-weight="bold" text-anchor="end" fill="#111">FLAT</text>
<text transform="translate(541.2 699.6) rotate(-34)" font-family="Liberation Sans, sans-serif" font-size="10.0" font-weight="bold" text-anchor="end" fill="#111">FLAT-CPTES</text>
<text transform="translate(585.8 699.6) rotate(-34)" font-family="Liberation Sans, sans-serif" font-size="10.0" font-weight="bold" text-anchor="end" fill="#111">FLAT-RGD</text>
<text transform="translate(630.4 699.6) rotate(-34)" font-family="Liberation Sans, sans-serif" font-size="10.0" font-weight="bold" text-anchor="end" fill="#111">FLAT-YIGSR</text>
<text transform="translate(673.4 699.6) rotate(-34)" font-family="Liberation Sans, sans-serif" font-size="10.0" font-weight="bold" text-anchor="end" fill="#111">10L-CPTES</text>
<text transform="translate(717.2 699.6) rotate(-34)" font-family="Liberation Sans, sans-serif" font-size="10.0" font-weight="bold" text-anchor="end" fill="#111">10H-CPTES</text>
<text transform="translate(68.6 602.6) rotate(-90)" font-family="Liberation Sans, sans-serif" font-size="11.7" text-anchor="middle" fill="#222">R<tspan font-size="11.2" dy="4.3">q-nano</tspan><tspan dy="-4.3"> (nm)</tspan></text>
<text transform="translate(433.4 592.8) rotate(-90)" font-family="Liberation Sans, sans-serif" font-size="11.0" text-anchor="middle" fill="#222">% of area covered by the coating</text>
</svg>
</body></html>
